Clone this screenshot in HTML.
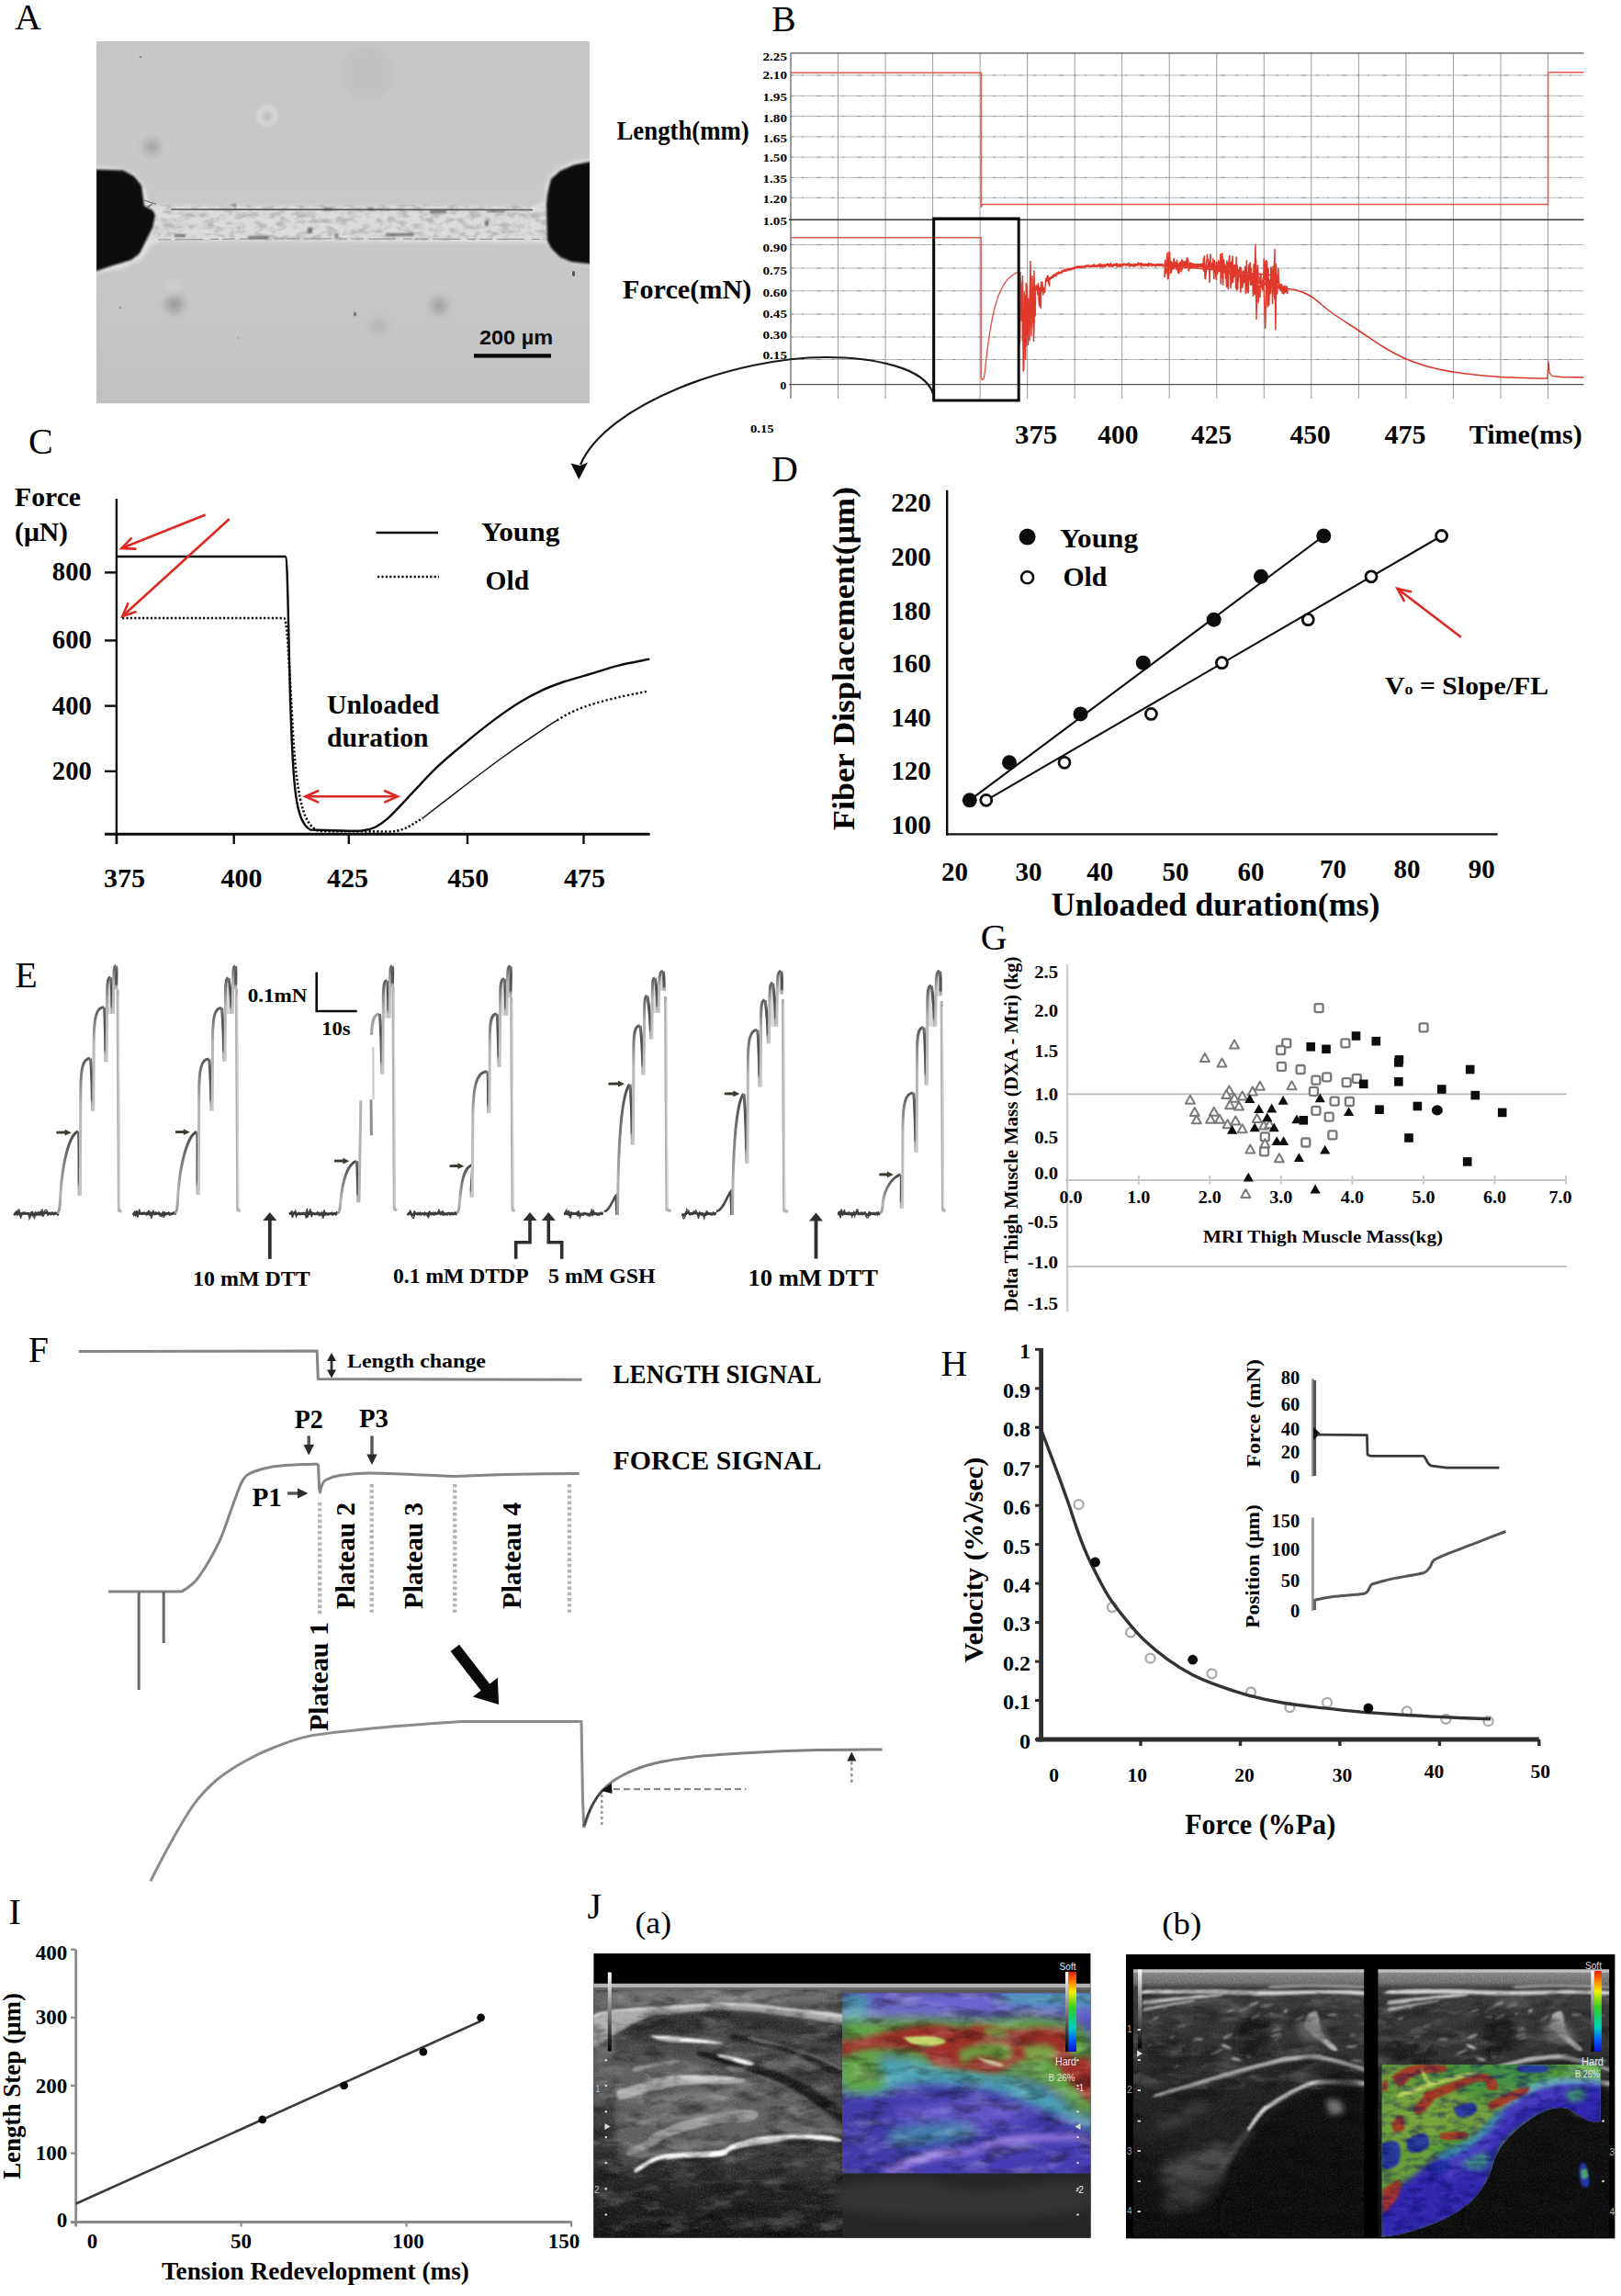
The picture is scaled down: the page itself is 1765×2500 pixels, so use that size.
<!DOCTYPE html>
<html><head><meta charset="utf-8"><title>Figure</title>
<style>html,body{margin:0;padding:0;background:#fff}svg{display:block}</style>
</head><body>
<svg width="1765" height="2500" viewBox="0 0 1765 2500">
<rect width="1765" height="2500" fill="#fff"/>
<defs>
<filter id="bl2" x="-50%" y="-50%" width="200%" height="200%"><feGaussianBlur stdDeviation="2"/></filter>
<filter id="bl1" x="-50%" y="-50%" width="200%" height="200%"><feGaussianBlur stdDeviation="0.8"/></filter>
<filter id="bl5" x="-50%" y="-50%" width="200%" height="200%"><feGaussianBlur stdDeviation="5"/></filter>
<filter id="bl8" x="-50%" y="-50%" width="200%" height="200%"><feGaussianBlur stdDeviation="8"/></filter>
<filter id="bl14" x="-50%" y="-50%" width="200%" height="200%"><feGaussianBlur stdDeviation="14"/></filter>
<linearGradient id="agr" x1="0" y1="0" x2="0" y2="1"><stop offset="0" stop-color="#c6c6c6"/><stop offset="0.5" stop-color="#cacaca"/><stop offset="1" stop-color="#c1c1c1"/></linearGradient>
<clipPath id="aclip"><rect x="105" y="45" width="537" height="394.5"/></clipPath>
<filter id="fibtex" x="0" y="0" width="100%" height="100%"><feTurbulence type="fractalNoise" baseFrequency="0.09 0.16" numOctaves="3" seed="3"/><feColorMatrix type="matrix" values="0 0 0 0 0.42  0 0 0 0 0.42  0 0 0 0 0.42  0 0 0 -3.4 1.9"/></filter>
</defs>
<text x="16.0" y="32.0" font-family='"Liberation Serif",serif' font-size="40" fill="#000">A</text>
<g clip-path="url(#aclip)">
<rect x="105" y="45" width="537" height="394.5" fill="url(#agr)"/>
<circle cx="165" cy="160" r="9" fill="#8a8a8a" opacity="0.55" filter="url(#bl5)"/>
<circle cx="190" cy="331" r="9" fill="#7a7a7a" opacity="0.6" filter="url(#bl5)"/>
<circle cx="478" cy="333" r="8" fill="#808080" opacity="0.6" filter="url(#bl5)"/>
<circle cx="412" cy="355" r="9" fill="#b0b0b0" opacity="0.7" filter="url(#bl5)"/>
<circle cx="400" cy="80" r="30" fill="#bdbdbd" opacity="0.6" filter="url(#bl5)"/>
<circle cx="188" cy="313" r="7" fill="#d6d6d6" opacity="0.8" filter="url(#bl5)"/>
<circle cx="291" cy="126" r="9" fill="none" stroke="#d8d8d8" stroke-width="5" filter="url(#bl2)"/>
<circle cx="291" cy="127" r="3" fill="#b4b4b4" filter="url(#bl2)"/>
<g filter="url(#bl2)" fill="#e4e4e4" stroke="#e4e4e4" stroke-width="5">
<path d="M100,184 L128,186 L145,193 L156,206 L158,222 L168,228 L180,227 L580,228 L596,222 L598,200 L606,188 L625,179 L646,176 L646,287 L625,283 L606,272 L598,262 L590,261 L180,259 L163,263 L152,280 L135,288 L100,296 Z"/>
</g>
<path d="M166,228 L176,225 L186,228 L580,228.5 L596,223 L597,262 L586,261 L300,260 L186,259 L172,262 L160,262 Z" fill="#dadbdc"/>
<path d="M166,228 L176,225 L186,228 L580,228.5 L596,223 L597,262 L586,261 L300,260 L186,259 L172,262 L160,262 Z" fill="#000" filter="url(#fibtex)" opacity="0.7"/>
<path d="M186,228 L580,228.5" stroke="#5c5c5c" stroke-width="1.6" fill="none"/>
<path d="M172,261 L300,259.8 L590,260.5" stroke="#9a9a9a" stroke-width="1.2" fill="none" stroke-dasharray="14 5 30 8 9 4"/>
<rect x="353" y="226" width="8" height="3" fill="#555" opacity="0.75" filter="url(#bl1)"/>
<rect x="400" y="226" width="7" height="3" fill="#555" opacity="0.75" filter="url(#bl1)"/>
<rect x="468" y="229" width="18" height="3" fill="#555" opacity="0.75" filter="url(#bl1)"/>
<rect x="530" y="229" width="20" height="2" fill="#555" opacity="0.75" filter="url(#bl1)"/>
<rect x="335" y="248" width="5" height="6" fill="#555" opacity="0.75" filter="url(#bl1)"/>
<rect x="528" y="240" width="4" height="6" fill="#555" opacity="0.75" filter="url(#bl1)"/>
<rect x="365" y="254" width="3" height="5" fill="#555" opacity="0.75" filter="url(#bl1)"/>
<rect x="252" y="222" width="4" height="1.5" fill="#555" opacity="0.75" filter="url(#bl1)"/>
<rect x="255" y="222" width="1.5" height="6" fill="#555" opacity="0.75" filter="url(#bl1)"/>
<rect x="190" y="255" width="12" height="3" fill="#555" opacity="0.75" filter="url(#bl1)"/>
<rect x="270" y="257" width="22" height="3" fill="#555" opacity="0.75" filter="url(#bl1)"/>
<rect x="420" y="254" width="30" height="3" fill="#555" opacity="0.75" filter="url(#bl1)"/>
<path d="M104,184.5 L134,185.5 L146,192 L154,202 L156,216 L157,224 L166,229 L169,234 L166,248 L159,262 L152,276 L143,283 L120,290 L104,295.5 Z" fill="#0b0b0b" filter="url(#bl1)"/>
<path d="M643,176 L625,179.5 L610,186 L600,195 L598,203 L596,212 L595,222 L596,262 L600,270 L610,280 L622,285 L643,287.5 Z" fill="#0b0b0b" filter="url(#bl1)"/>
<path d="M157,218 L163,220 L170,222 M160,226 L166,222" stroke="#666" stroke-width="1.2" fill="none"/>
<ellipse cx="386.5" cy="342" rx="1.6" ry="2.6" fill="#777"/>
<ellipse cx="624.5" cy="298" rx="1.5" ry="3" fill="#555"/>
<ellipse cx="153" cy="62" rx="1.5" ry="0.7" fill="#666"/>
<ellipse cx="131" cy="335" rx="0.8" ry="0.8" fill="#555"/>
<ellipse cx="259" cy="368" rx="0.7" ry="0.7" fill="#777"/>
</g>
<rect x="516" y="385.2" width="84" height="4.4" fill="#0a0a0a"/>
<text x="522.0" y="374.6" font-family='"Liberation Sans",sans-serif' font-size="22.7" font-weight="bold" textLength="80.0" lengthAdjust="spacingAndGlyphs" fill="#0a0a0a">200 µm</text>
<text x="840.0" y="34.0" font-family='"Liberation Serif",serif' font-size="40" fill="#000">B</text>
<line x1="861.0" y1="82.0" x2="1724.5" y2="82.0" stroke="#b0b0b0" stroke-width="0.9"/>
<line x1="861.0" y1="104.4" x2="1724.5" y2="104.4" stroke="#b0b0b0" stroke-width="0.9"/>
<line x1="861.0" y1="126.6" x2="1724.5" y2="126.6" stroke="#b0b0b0" stroke-width="0.9"/>
<line x1="861.0" y1="148.9" x2="1724.5" y2="148.9" stroke="#b0b0b0" stroke-width="0.9"/>
<line x1="861.0" y1="171.1" x2="1724.5" y2="171.1" stroke="#b0b0b0" stroke-width="0.9"/>
<line x1="861.0" y1="193.3" x2="1724.5" y2="193.3" stroke="#b0b0b0" stroke-width="0.9"/>
<line x1="861.0" y1="215.3" x2="1724.5" y2="215.3" stroke="#b0b0b0" stroke-width="0.9"/>
<line x1="861.0" y1="266.5" x2="1724.5" y2="266.5" stroke="#b0b0b0" stroke-width="0.9"/>
<line x1="861.0" y1="292.0" x2="1724.5" y2="292.0" stroke="#b0b0b0" stroke-width="0.9"/>
<line x1="861.0" y1="316.8" x2="1724.5" y2="316.8" stroke="#b0b0b0" stroke-width="0.9"/>
<line x1="861.0" y1="342.0" x2="1724.5" y2="342.0" stroke="#b0b0b0" stroke-width="0.9"/>
<line x1="861.0" y1="367.0" x2="1724.5" y2="367.0" stroke="#b0b0b0" stroke-width="0.9"/>
<line x1="861.0" y1="391.5" x2="1724.5" y2="391.5" stroke="#b0b0b0" stroke-width="0.9"/>
<line x1="861.0" y1="57.8" x2="1724.5" y2="57.8" stroke="#555" stroke-width="1.2"/>
<line x1="861.0" y1="82.0" x2="1724.5" y2="82.0" stroke="#666" stroke-width="0.9" stroke-dasharray="3 9 2 14 5 11" opacity="0.55"/>
<line x1="861.0" y1="104.4" x2="1724.5" y2="104.4" stroke="#666" stroke-width="0.9" stroke-dasharray="3 9 2 14 5 11" opacity="0.55"/>
<line x1="861.0" y1="126.6" x2="1724.5" y2="126.6" stroke="#666" stroke-width="0.9" stroke-dasharray="3 9 2 14 5 11" opacity="0.55"/>
<line x1="861.0" y1="148.9" x2="1724.5" y2="148.9" stroke="#666" stroke-width="0.9" stroke-dasharray="3 9 2 14 5 11" opacity="0.55"/>
<line x1="861.0" y1="171.1" x2="1724.5" y2="171.1" stroke="#666" stroke-width="0.9" stroke-dasharray="3 9 2 14 5 11" opacity="0.55"/>
<line x1="861.0" y1="193.3" x2="1724.5" y2="193.3" stroke="#666" stroke-width="0.9" stroke-dasharray="3 9 2 14 5 11" opacity="0.55"/>
<line x1="861.0" y1="215.3" x2="1724.5" y2="215.3" stroke="#666" stroke-width="0.9" stroke-dasharray="3 9 2 14 5 11" opacity="0.55"/>
<line x1="861.0" y1="266.5" x2="1724.5" y2="266.5" stroke="#666" stroke-width="0.9" stroke-dasharray="3 9 2 14 5 11" opacity="0.55"/>
<line x1="861.0" y1="292.0" x2="1724.5" y2="292.0" stroke="#666" stroke-width="0.9" stroke-dasharray="3 9 2 14 5 11" opacity="0.55"/>
<line x1="861.0" y1="316.8" x2="1724.5" y2="316.8" stroke="#666" stroke-width="0.9" stroke-dasharray="3 9 2 14 5 11" opacity="0.55"/>
<line x1="861.0" y1="342.0" x2="1724.5" y2="342.0" stroke="#666" stroke-width="0.9" stroke-dasharray="3 9 2 14 5 11" opacity="0.55"/>
<line x1="861.0" y1="367.0" x2="1724.5" y2="367.0" stroke="#666" stroke-width="0.9" stroke-dasharray="3 9 2 14 5 11" opacity="0.55"/>
<line x1="861.0" y1="391.5" x2="1724.5" y2="391.5" stroke="#666" stroke-width="0.9" stroke-dasharray="3 9 2 14 5 11" opacity="0.55"/>
<line x1="861.0" y1="57.8" x2="861.0" y2="434.0" stroke="#666" stroke-width="1.3"/>
<line x1="912.5" y1="57.8" x2="912.5" y2="434.0" stroke="#7a7a7a" stroke-width="0.75"/>
<line x1="964.1" y1="57.8" x2="964.1" y2="434.0" stroke="#7a7a7a" stroke-width="0.75"/>
<line x1="1015.6" y1="57.8" x2="1015.6" y2="434.0" stroke="#7a7a7a" stroke-width="0.75"/>
<line x1="1067.1" y1="57.8" x2="1067.1" y2="434.0" stroke="#7a7a7a" stroke-width="0.75"/>
<line x1="1118.7" y1="57.8" x2="1118.7" y2="434.0" stroke="#7a7a7a" stroke-width="0.75"/>
<line x1="1170.2" y1="57.8" x2="1170.2" y2="434.0" stroke="#7a7a7a" stroke-width="0.75"/>
<line x1="1221.7" y1="57.8" x2="1221.7" y2="434.0" stroke="#7a7a7a" stroke-width="0.75"/>
<line x1="1273.2" y1="57.8" x2="1273.2" y2="434.0" stroke="#7a7a7a" stroke-width="0.75"/>
<line x1="1324.8" y1="57.8" x2="1324.8" y2="434.0" stroke="#7a7a7a" stroke-width="0.75"/>
<line x1="1376.3" y1="57.8" x2="1376.3" y2="434.0" stroke="#7a7a7a" stroke-width="0.75"/>
<line x1="1427.8" y1="57.8" x2="1427.8" y2="434.0" stroke="#7a7a7a" stroke-width="0.75"/>
<line x1="1479.4" y1="57.8" x2="1479.4" y2="434.0" stroke="#7a7a7a" stroke-width="0.75"/>
<line x1="1530.9" y1="57.8" x2="1530.9" y2="434.0" stroke="#7a7a7a" stroke-width="0.75"/>
<line x1="1582.4" y1="57.8" x2="1582.4" y2="434.0" stroke="#7a7a7a" stroke-width="0.75"/>
<line x1="1634.0" y1="57.8" x2="1634.0" y2="434.0" stroke="#7a7a7a" stroke-width="0.75"/>
<line x1="1685.5" y1="57.8" x2="1685.5" y2="434.0" stroke="#7a7a7a" stroke-width="0.75"/>
<line x1="859.0" y1="239.2" x2="1724.5" y2="239.2" stroke="#333" stroke-width="1.6"/>
<line x1="859.0" y1="418.6" x2="1724.5" y2="418.6" stroke="#555" stroke-width="1.2"/>
<text x="830.5" y="65.9" font-family='"Liberation Serif",serif' font-size="13.5" font-weight="bold" textLength="26.5" lengthAdjust="spacingAndGlyphs" fill="#000">2.25</text>
<text x="830.5" y="85.9" font-family='"Liberation Serif",serif' font-size="13.5" font-weight="bold" textLength="26.5" lengthAdjust="spacingAndGlyphs" fill="#000">2.10</text>
<text x="830.5" y="110.3" font-family='"Liberation Serif",serif' font-size="13.5" font-weight="bold" textLength="26.5" lengthAdjust="spacingAndGlyphs" fill="#000">1.95</text>
<text x="830.5" y="132.5" font-family='"Liberation Serif",serif' font-size="13.5" font-weight="bold" textLength="26.5" lengthAdjust="spacingAndGlyphs" fill="#000">1.80</text>
<text x="830.5" y="154.7" font-family='"Liberation Serif",serif' font-size="13.5" font-weight="bold" textLength="26.5" lengthAdjust="spacingAndGlyphs" fill="#000">1.65</text>
<text x="830.5" y="175.8" font-family='"Liberation Serif",serif' font-size="13.5" font-weight="bold" textLength="26.5" lengthAdjust="spacingAndGlyphs" fill="#000">1.50</text>
<text x="830.5" y="198.8" font-family='"Liberation Serif",serif' font-size="13.5" font-weight="bold" textLength="26.5" lengthAdjust="spacingAndGlyphs" fill="#000">1.35</text>
<text x="830.5" y="221.0" font-family='"Liberation Serif",serif' font-size="13.5" font-weight="bold" textLength="26.5" lengthAdjust="spacingAndGlyphs" fill="#000">1.20</text>
<text x="830.5" y="245.0" font-family='"Liberation Serif",serif' font-size="13.5" font-weight="bold" textLength="26.5" lengthAdjust="spacingAndGlyphs" fill="#000">1.05</text>
<text x="830.5" y="273.9" font-family='"Liberation Serif",serif' font-size="13.5" font-weight="bold" textLength="26.5" lengthAdjust="spacingAndGlyphs" fill="#000">0.90</text>
<text x="830.5" y="299.0" font-family='"Liberation Serif",serif' font-size="13.5" font-weight="bold" textLength="26.5" lengthAdjust="spacingAndGlyphs" fill="#000">0.75</text>
<text x="830.5" y="323.1" font-family='"Liberation Serif",serif' font-size="13.5" font-weight="bold" textLength="26.5" lengthAdjust="spacingAndGlyphs" fill="#000">0.60</text>
<text x="830.5" y="346.0" font-family='"Liberation Serif",serif' font-size="13.5" font-weight="bold" textLength="26.5" lengthAdjust="spacingAndGlyphs" fill="#000">0.45</text>
<text x="830.5" y="369.0" font-family='"Liberation Serif",serif' font-size="13.5" font-weight="bold" textLength="26.5" lengthAdjust="spacingAndGlyphs" fill="#000">0.30</text>
<text x="830.5" y="390.5" font-family='"Liberation Serif",serif' font-size="13.5" font-weight="bold" textLength="26.5" lengthAdjust="spacingAndGlyphs" fill="#000">0.15</text>
<text x="849.5" y="423.8" font-family='"Liberation Serif",serif' font-size="13.5" font-weight="bold" fill="#000">0</text>
<text x="817.0" y="470.8" font-family='"Liberation Serif",serif' font-size="12.5" font-weight="bold" textLength="25.5" lengthAdjust="spacingAndGlyphs" fill="#000">0.15</text>
<text x="671.5" y="151.8" font-family='"Liberation Serif",serif' font-size="29" font-weight="bold" textLength="144.3" lengthAdjust="spacingAndGlyphs" fill="#000">Length(mm)</text>
<text x="678.0" y="324.6" font-family='"Liberation Serif",serif' font-size="29" font-weight="bold" textLength="140.3" lengthAdjust="spacingAndGlyphs" fill="#000">Force(mN)</text>
<text x="1105.0" y="483.0" font-family='"Liberation Serif",serif' font-size="30" font-weight="bold" textLength="46.3" lengthAdjust="spacingAndGlyphs" fill="#000">375</text>
<text x="1195.2" y="483.0" font-family='"Liberation Serif",serif' font-size="30" font-weight="bold" textLength="44.3" lengthAdjust="spacingAndGlyphs" fill="#000">400</text>
<text x="1297.0" y="483.0" font-family='"Liberation Serif",serif' font-size="30" font-weight="bold" textLength="44.2" lengthAdjust="spacingAndGlyphs" fill="#000">425</text>
<text x="1404.4" y="483.0" font-family='"Liberation Serif",serif' font-size="30" font-weight="bold" textLength="44.3" lengthAdjust="spacingAndGlyphs" fill="#000">450</text>
<text x="1507.4" y="483.0" font-family='"Liberation Serif",serif' font-size="30" font-weight="bold" textLength="45.1" lengthAdjust="spacingAndGlyphs" fill="#000">475</text>
<text x="1599.7" y="483.0" font-family='"Liberation Serif",serif' font-size="30" font-weight="bold" textLength="123.0" lengthAdjust="spacingAndGlyphs" fill="#000">Time(ms)</text>
<path d="M861.0,79.3 L1068.2,79.3 L1068.2,226 L1069.5,222.6 L1685.6,222.6 L1685.6,80 L1687,78.8 L1724.5,78.8" stroke="#e2574c" stroke-width="1.5" fill="none"/>
<path d="M861.0,258.8 L1068.2,258.8 L1068.2,410.0 L1069.2,413.5 L1071.0,413.0 L1072.5,404.0 L1073.4,394.9 L1074.4,386.5 L1075.3,378.9 L1076.2,371.8 L1077.2,365.4 L1078.1,359.5 L1079.1,354.0 L1080.0,349.0 L1080.9,344.4 L1081.9,340.2 L1082.8,336.4 L1083.7,332.8 L1084.7,329.6 L1085.6,326.6 L1086.5,323.8 L1087.5,321.3 L1088.4,319.0 L1089.3,316.8 L1090.3,314.9 L1091.2,313.0 L1092.2,311.4 L1093.1,309.8 L1094.0,308.4 L1095.0,307.1 L1095.9,305.9 L1096.8,304.8 L1097.8,303.8 L1098.7,302.8 L1099.6,301.9 L1100.6,301.1 L1101.5,300.4 L1102.4,299.7 L1103.4,299.0 L1104.3,298.4 L1105.3,297.9 L1106.2,297.4 L1107.1,296.9 L1108.1,296.4 L1109.0,296.0" stroke="#e2574c" stroke-width="1.4" fill="none"/>
<path d="M1110.0,337.6 L1110.4,373.6 L1110.7,360.9 L1111.1,308.4 L1111.6,306.1 L1112.0,309.7 L1112.4,348.7 L1113.0,315.6 L1113.3,371.0 L1114.0,365.5 L1114.4,404.0 L1114.7,396.4 L1115.1,317.9 L1115.5,335.9 L1116.0,321.9 L1116.6,372.3 L1117.0,362.3 L1117.3,308.6 L1117.7,376.8 L1118.1,334.9 L1118.6,342.6 L1119.0,364.4 L1119.6,325.2 L1120.1,342.7 L1120.7,354.7 L1121.1,370.5 L1121.4,331.3 L1122.0,311.5 L1122.5,302.5 L1123.0,350.4 L1123.5,356.6 L1123.9,343.3 L1124.4,334.2 L1124.9,350.7 L1125.5,324.3 L1126.0,295.0 L1126.6,333.7 L1127.2,344.1 L1127.6,313.6 L1128.2,311.1 L1128.6,315.4 L1129.0,310.8 L1129.5,312.3 L1129.9,321.0 L1130.5,308.7 L1131.0,324.8 L1131.6,333.5 L1132.2,313.0 L1132.6,315.2 L1133.3,335.8 L1133.6,307.2 L1134.0,308.7 L1134.5,317.0 L1134.9,307.1 L1135.3,312.3 L1135.8,321.0 L1136.3,313.3 L1136.9,315.2 L1137.2,318.4 L1137.7,317.3 L1138.3,308.9 L1138.8,303.8 L1139.3,302.6 L1139.6,304.6 L1140.0,306.3 L1140.3,300.6 L1140.6,301.8 L1141.1,300.2 L1141.7,309.0 L1142.0,302.9 L1142.4,304.3 L1142.8,311.7" stroke="#e0392b" stroke-width="1.5" fill="none" stroke-linejoin="round"/>
<path d="M1111,296 L1112.5,350 L1113.5,300 L1114.5,403 L1115.5,330 L1116.5,392 L1118,310 L1119.5,376 L1121,330 L1122,284 L1123,366 L1124,300 L1125.5,372 L1127,320" stroke="#e0392b" stroke-width="1.4" fill="none"/>
<path d="M1141.0,305.8 L1141.9,304.9 L1142.8,303.6 L1143.7,302.9 L1144.6,302.4 L1145.5,301.6 L1146.4,301.6 L1147.3,300.2 L1148.2,299.4 L1149.1,300.0 L1150.0,298.9 L1150.9,297.9 L1151.8,297.9 L1152.7,296.8 L1153.6,297.0 L1154.5,297.1 L1155.4,296.6 L1156.3,296.0 L1157.2,295.1 L1158.1,294.9 L1159.0,294.3 L1159.9,294.7 L1160.8,294.1 L1161.7,294.1 L1162.6,293.3 L1163.5,292.9 L1164.4,293.4 L1165.3,293.4 L1166.2,293.0 L1167.1,292.7 L1168.0,292.5 L1168.9,292.3 L1169.8,291.5 L1170.7,291.6 L1171.6,291.3 L1172.5,290.7 L1173.4,290.6 L1174.3,290.7 L1175.2,290.6 L1176.1,291.0 L1177.0,291.2 L1177.9,290.4 L1178.8,290.9 L1179.7,290.9 L1180.6,290.7 L1181.5,289.9 L1182.4,289.7 L1183.3,289.6 L1184.2,289.5 L1185.1,289.4 L1186.0,289.9 L1186.9,290.1 L1187.8,290.0 L1188.7,289.5 L1189.6,289.6 L1190.5,289.8 L1191.4,288.8 L1192.3,289.5 L1193.2,289.7 L1194.1,289.5 L1195.0,289.7 L1195.9,289.1 L1196.8,288.4 L1197.7,289.7 L1198.6,288.6 L1199.5,289.6 L1200.4,290.0 L1201.3,288.7 L1202.2,288.6 L1203.1,289.8 L1204.0,289.3 L1204.9,288.1 L1205.8,287.9 L1206.7,288.0 L1207.6,289.6 L1208.5,289.4 L1209.4,287.9 L1210.3,289.4 L1211.2,289.7 L1212.1,289.0 L1213.0,288.3 L1213.9,288.7 L1214.8,287.8 L1215.7,287.5 L1216.6,289.6 L1217.5,288.9 L1218.4,288.6 L1219.3,289.5 L1220.2,288.4 L1221.1,289.3 L1222.0,289.2 L1222.9,287.8 L1223.8,287.9 L1224.7,288.0 L1225.6,287.9 L1226.5,288.6 L1227.4,287.9 L1228.3,288.3 L1229.2,287.6 L1230.1,289.3 L1231.0,288.1 L1231.9,288.3 L1232.8,288.6 L1233.7,289.3 L1234.6,288.2 L1235.5,289.3 L1236.4,288.4 L1237.3,288.4 L1238.2,288.4 L1239.1,287.3 L1240.0,288.2 L1240.9,287.7 L1241.8,287.3 L1242.7,289.0 L1243.6,287.6 L1244.5,288.3 L1245.4,288.8 L1246.3,288.5 L1247.2,288.0 L1248.1,288.4 L1249.0,288.5 L1249.9,289.0 L1250.8,287.5 L1251.7,288.5 L1252.6,287.8 L1253.5,287.8 L1254.4,288.9 L1255.3,288.3 L1256.2,288.5 L1257.1,288.9 L1258.0,289.2 L1258.9,288.2 L1259.8,288.6 L1260.7,288.3 L1261.6,288.3 L1262.5,288.7 L1263.4,288.2 L1264.3,288.4 L1265.2,288.3 L1266.1,289.3 L1267.0,288.8 L1267.9,289.1 L1268.8,289.3 L1269.7,287.8" stroke="#e0392b" stroke-width="2.6" fill="none"/>
<path d="M1268.0,302.3 L1268.6,283.3 L1269.0,285.1 L1269.4,297.5 L1270.0,292.2 L1270.5,294.7 L1271.2,295.8 L1271.6,303.7 L1272.2,288.0 L1272.7,279.9 L1273.1,274.6 L1273.6,274.5 L1274.0,289.4 L1274.3,297.7 L1275.0,285.5 L1275.3,284.9 L1275.6,296.4 L1276.2,285.8 L1276.8,292.6 L1277.2,290.7 L1277.6,292.9 L1278.1,281.5 L1278.7,292.3 L1279.2,290.0 L1279.8,285.7 L1280.3,285.5 L1280.6,286.3 L1281.1,293.7 L1281.5,283.2 L1281.9,286.8 L1282.2,289.9 L1282.6,296.8 L1282.9,287.8 L1283.4,287.1 L1283.8,297.7 L1284.3,292.7 L1284.8,286.3 L1285.1,285.1 L1285.7,286.0 L1286.0,295.7 L1286.5,286.7 L1286.9,282.8 L1287.4,293.2 L1288.0,284.4 L1288.7,286.4 L1289.0,288.5 L1289.4,289.0 L1289.7,285.3 L1290.2,284.7 L1290.6,289.8 L1291.1,291.8 L1291.6,287.0 L1292.0,282.7 L1292.6,280.8 L1293.2,291.3 L1293.7,282.5 L1294.2,295.0 L1294.8,290.5 L1295.4,292.5 L1295.8,285.7 L1296.2,292.0 L1296.7,291.3 L1297.3,286.5 L1297.8,289.0 L1298.3,286.8 L1298.9,287.9 L1299.3,287.5 L1299.8,289.0 L1300.3,289.9 L1300.8,289.7 L1301.2,288.4 L1301.7,289.3 L1302.0,288.4 L1302.6,289.9 L1303.0,288.8 L1303.4,290.0 L1303.8,291.2 L1304.1,290.6 L1304.7,287.8 L1305.1,287.6 L1305.6,289.1 L1306.3,289.8 L1306.7,290.0 L1307.1,288.9 L1307.4,289.0 L1307.9,287.2 L1308.3,290.7 L1308.6,290.7 L1308.9,290.1 L1309.6,286.9 L1310.0,292.2 L1310.4,281.6 L1310.7,295.0 L1311.1,280.8 L1311.5,278.9 L1312.0,302.6 L1312.5,303.7 L1313.2,297.2 L1313.5,288.1 L1314.1,282.6 L1314.4,277.3 L1314.8,283.2 L1315.4,282.0 L1315.9,292.3 L1316.4,284.7 L1316.7,290.4 L1317.1,307.5 L1317.6,285.4 L1317.9,276.8 L1318.3,292.0 L1318.9,288.0 L1319.3,286.9 L1319.8,287.4 L1320.4,291.4 L1320.9,281.8 L1321.3,289.8 L1321.8,303.5 L1322.4,283.8 L1322.9,291.0 L1323.4,290.2 L1324.1,304.3 L1324.7,285.7 L1325.0,298.6 L1325.7,297.6 L1326.2,294.5 L1326.6,283.7 L1327.2,286.3 L1327.5,295.4 L1328.1,285.9 L1328.6,289.5 L1328.9,276.8 L1329.3,309.1 L1329.9,292.8 L1330.2,302.5 L1330.8,275.7 L1331.3,291.0 L1331.7,310.3 L1332.0,291.1 L1332.5,282.9 L1333.1,294.7 L1333.4,287.4 L1334.0,289.5 L1334.6,303.5 L1335.1,289.8 L1335.5,312.2 L1335.9,284.3 L1336.5,286.9 L1336.8,310.6 L1337.4,314.6 L1338.1,283.9 L1338.7,278.2 L1339.2,291.3 L1339.6,286.8 L1340.0,313.7 L1340.4,285.3 L1340.8,308.8 L1341.2,296.2 L1341.7,285.1 L1342.1,279.1 L1342.5,307.2 L1342.9,288.8 L1343.5,302.0 L1344.1,288.8 L1344.7,288.6 L1345.3,289.3 L1345.6,313.7 L1346.1,280.0 L1346.5,315.5 L1347.1,288.9 L1347.6,314.7 L1347.9,307.6 L1348.5,302.8 L1348.9,293.6 L1349.5,293.2 L1350.1,290.9 L1350.4,292.6 L1351.0,318.0 L1351.4,291.9 L1351.9,297.7 L1352.3,304.4 L1352.8,313.1 L1353.4,306.6 L1353.8,295.4 L1354.3,295.6 L1354.7,307.8 L1355.2,296.7 L1355.8,290.6 L1356.4,319.6 L1356.8,313.2 L1357.4,283.8 L1357.8,295.5 L1358.4,317.9 L1358.8,299.8 L1359.2,318.7 L1359.6,306.5 L1359.9,288.4 L1360.3,304.7 L1360.8,289.6 L1361.3,286.0 L1361.7,310.2 L1362.2,292.3 L1362.6,310.0 L1362.9,308.0 L1363.4,298.0 L1364.0,306.7 L1364.4,322.3 L1365.1,287.8 L1365.6,290.8 L1366.2,320.5 L1366.7,302.0 L1367.0,305.5 L1367.6,282.9 L1368.1,304.7 L1368.4,305.1 L1369.1,304.5 L1369.6,289.2 L1370.0,329.7 L1370.5,316.2 L1370.9,311.5 L1371.5,312.9 L1371.9,323.6 L1372.4,298.4 L1372.9,299.8 L1373.2,311.8 L1373.8,307.8 L1374.4,315.1 L1374.8,309.1 L1375.3,302.5 L1375.8,315.0 L1376.2,282.1 L1376.7,293.3 L1377.3,305.1 L1377.7,286.9 L1378.0,286.2 L1378.5,283.7 L1379.0,313.8 L1379.6,284.8 L1380.1,331.5 L1380.4,334.0 L1381.0,292.4 L1381.6,332.3 L1382.2,316.2 L1382.8,305.1 L1383.4,319.4 L1383.8,290.7 L1384.3,294.2 L1384.7,300.1 L1385.0,300.8 L1385.6,330.4 L1386.0,289.9 L1386.5,302.8 L1387.1,314.4 L1387.7,323.3 L1388.2,326.1 L1388.6,314.8 L1389.0,307.9 L1389.4,287.5 L1390.0,314.8 L1390.6,319.9 L1391.0,299.4 L1391.4,308.1 L1391.8,292.6 L1392.2,305.2 L1392.5,306.5 L1393.0,312.7 L1393.5,313.1 L1393.9,315.5 L1394.3,309.7 L1394.8,316.7 L1395.3,309.4 L1395.8,310.9 L1396.3,319.3 L1396.9,316.2 L1397.2,312.1 L1397.6,315.5 L1397.9,319.9 L1398.2,314.5 L1398.7,318.3 L1399.1,311.3 L1399.4,318.1 L1399.9,316.7 L1400.5,317.9 L1401.0,311.9 L1401.3,313.6 L1401.9,319.8" stroke="#e0392b" stroke-width="1.6" fill="none" stroke-linejoin="round"/>
<path d="M1366,300 L1367,265.8 L1368,348 L1369,300 L1376,310 L1377.7,358 L1379,300 L1386.5,316 L1388,270.7 L1388.8,359.5 L1390,300 L1270,289 L1271,274.5 L1272,304 L1273,285" stroke="#e0392b" stroke-width="1.4" fill="none"/>
<path d="M1268,289 L1309,289 L1340,297 L1375,308 L1402,315" stroke="#e0392b" stroke-width="4" fill="none" opacity="0.95"/>
<path d="M1402.0,314.5 C1403.7,314.8 1407.7,314.6 1412.0,316.0 C1416.3,317.4 1421.7,318.9 1428.0,323.0 C1434.3,327.1 1441.4,334.3 1450.0,340.5 C1458.6,346.7 1470.3,353.9 1479.5,360.0 C1488.7,366.1 1496.5,371.9 1505.0,377.0 C1513.5,382.1 1522.3,387.1 1530.8,390.8 C1539.3,394.6 1547.4,397.1 1556.0,399.5 C1564.6,401.9 1573.4,403.5 1582.4,405.0 C1591.4,406.5 1601.4,407.6 1610.0,408.5 C1618.6,409.4 1625.7,409.9 1634.0,410.4 C1642.3,410.9 1651.5,411.2 1660.0,411.5 C1668.5,411.8 1680.8,411.9 1685.0,412.0" stroke="#d9372b" stroke-width="1.5" fill="none"/>
<path d="M1685,412 L1685.8,393 L1687,406 L1690,409.5 L1700,410.5 L1724.5,411" stroke="#d9372b" stroke-width="1.3" fill="none"/>
<rect x="1016.7" y="238" width="92.5" height="198" fill="none" stroke="#0c0c0c" stroke-width="3"/>
<path d="M1016,429 C1008,400 950,389 899,389 C800,389 660,440 632,506" stroke="#1a1a1a" stroke-width="2.2" fill="none"/>
<path d="M630.3,522 L621.5,504.5 L631.5,507 L640,503.5 Z" fill="#0c0c0c"/>
<text x="31.0" y="494.2" font-family='"Liberation Serif",serif' font-size="40" fill="#000">C</text>
<text x="16.0" y="551.0" font-family='"Liberation Serif",serif' font-size="29" font-weight="bold" textLength="72.0" lengthAdjust="spacingAndGlyphs" fill="#000">Force</text>
<text x="16.0" y="588.5" font-family='"Liberation Serif",serif' font-size="29" font-weight="bold" textLength="58.0" lengthAdjust="spacingAndGlyphs" fill="#000">(μN)</text>
<line x1="126.9" y1="543.0" x2="126.9" y2="919.0" stroke="#0c0c0c" stroke-width="2.4"/>
<line x1="114.0" y1="908.3" x2="707.6" y2="908.3" stroke="#0c0c0c" stroke-width="3"/>
<line x1="114.0" y1="623.4" x2="127.0" y2="623.4" stroke="#0c0c0c" stroke-width="2.4"/>
<text x="56.8" y="632.4" font-family='"Liberation Serif",serif' font-size="30" font-weight="bold" textLength="43.0" lengthAdjust="spacingAndGlyphs" fill="#000">800</text>
<line x1="114.0" y1="697.4" x2="127.0" y2="697.4" stroke="#0c0c0c" stroke-width="2.4"/>
<text x="56.8" y="706.4" font-family='"Liberation Serif",serif' font-size="30" font-weight="bold" textLength="43.0" lengthAdjust="spacingAndGlyphs" fill="#000">600</text>
<line x1="114.0" y1="768.6" x2="127.0" y2="768.6" stroke="#0c0c0c" stroke-width="2.4"/>
<text x="56.8" y="777.6" font-family='"Liberation Serif",serif' font-size="30" font-weight="bold" textLength="43.0" lengthAdjust="spacingAndGlyphs" fill="#000">400</text>
<line x1="114.0" y1="839.8" x2="127.0" y2="839.8" stroke="#0c0c0c" stroke-width="2.4"/>
<text x="56.8" y="848.8" font-family='"Liberation Serif",serif' font-size="30" font-weight="bold" textLength="43.0" lengthAdjust="spacingAndGlyphs" fill="#000">200</text>
<line x1="127.0" y1="908.0" x2="127.0" y2="919.0" stroke="#0c0c0c" stroke-width="2.4"/>
<text x="135.4" y="965.8" font-family='"Liberation Serif",serif' font-size="30" font-weight="bold" text-anchor="middle" fill="#000">375</text>
<line x1="254.7" y1="908.0" x2="254.7" y2="919.0" stroke="#0c0c0c" stroke-width="2.4"/>
<text x="263.0" y="965.8" font-family='"Liberation Serif",serif' font-size="30" font-weight="bold" text-anchor="middle" fill="#000">400</text>
<line x1="379.8" y1="908.0" x2="379.8" y2="919.0" stroke="#0c0c0c" stroke-width="2.4"/>
<text x="378.4" y="965.8" font-family='"Liberation Serif",serif' font-size="30" font-weight="bold" text-anchor="middle" fill="#000">425</text>
<line x1="509.0" y1="908.0" x2="509.0" y2="919.0" stroke="#0c0c0c" stroke-width="2.4"/>
<text x="509.7" y="965.8" font-family='"Liberation Serif",serif' font-size="30" font-weight="bold" text-anchor="middle" fill="#000">450</text>
<line x1="635.5" y1="908.0" x2="635.5" y2="919.0" stroke="#0c0c0c" stroke-width="2.4"/>
<text x="636.4" y="965.8" font-family='"Liberation Serif",serif' font-size="30" font-weight="bold" text-anchor="middle" fill="#000">475</text>
<path d="M127,606 L310.5,606 C313,606 313,640 316,760 C319,860 322,895 338,903.5 L380,904.8" stroke="#0c0c0c" stroke-width="2.4" fill="none"/>
<path d="M380.0,904.8 C382.1,904.8 389.1,904.9 392.6,904.6 C396.1,904.3 398.2,903.9 401.0,903.2 C403.8,902.5 405.9,902.3 409.4,900.3 C412.9,898.3 417.8,894.9 422.0,891.3 C426.2,887.7 429.6,883.9 434.5,878.8 C439.4,873.7 444.3,868.2 451.3,860.9 C458.3,853.5 467.4,843.3 476.5,834.7 C485.6,826.1 495.7,817.9 505.8,809.5 C515.9,801.1 527.5,791.7 537.3,784.4 C547.1,777.1 555.9,770.9 564.6,765.5 C573.3,760.1 582.0,755.6 589.7,751.9 C597.4,748.2 602.0,746.5 610.7,743.5 C619.5,740.5 631.7,737.1 642.2,734.0 C652.7,730.9 662.8,727.3 673.6,724.6 C684.4,721.9 701.6,718.9 707.2,717.7" stroke="#0c0c0c" stroke-width="2.4" fill="none"/>
<path d="M133,673 L309,673 C312.5,673 313.5,700 318,780 C322,860 328,898 347,905 L425,905.5 C436,905 444,901 449.2,897.6 L460.7,890.5" stroke="#0c0c0c" stroke-width="2.6" fill="none" stroke-dasharray="2.2 2.2"/>
<path d="M460.7,890.5 C468.2,884.7 491.3,866.8 505.8,855.7 C520.3,844.7 533.5,834.5 547.8,824.2 C562.1,813.9 582.0,800.4 591.8,793.8 C601.6,787.2 604.0,786.0 606.5,784.4" stroke="#0c0c0c" stroke-width="1.4" fill="none"/>
<path d="M606.5,784.4 C609.0,783.0 615.2,778.8 621.2,776.0 C627.2,773.2 633.5,770.4 642.2,767.6 C650.9,764.8 663.3,761.7 673.6,759.2 C683.9,756.8 698.9,754.0 704.0,752.9" stroke="#0c0c0c" stroke-width="2.4" fill="none" stroke-dasharray="2.2 2.6"/>
<line x1="409.6" y1="580.0" x2="477.0" y2="580.0" stroke="#0c0c0c" stroke-width="2.6"/>
<line x1="411.0" y1="628.0" x2="478.0" y2="628.0" stroke="#0c0c0c" stroke-width="2.6" stroke-dasharray="2.2 2.2"/>
<text x="524.0" y="588.7" font-family='"Liberation Serif",serif' font-size="29" font-weight="bold" textLength="85.4" lengthAdjust="spacingAndGlyphs" fill="#000">Young</text>
<text x="528.6" y="641.7" font-family='"Liberation Serif",serif' font-size="29" font-weight="bold" textLength="47.5" lengthAdjust="spacingAndGlyphs" fill="#000">Old</text>
<text x="356.0" y="777.3" font-family='"Liberation Serif",serif' font-size="29" font-weight="bold" textLength="122.4" lengthAdjust="spacingAndGlyphs" fill="#000">Unloaded</text>
<text x="356.0" y="812.9" font-family='"Liberation Serif",serif' font-size="29" font-weight="bold" textLength="110.5" lengthAdjust="spacingAndGlyphs" fill="#000">duration</text>
<line x1="223.7" y1="560.5" x2="132.4" y2="597.0" stroke="#dc2a22" stroke-width="2.6"/>
<path d="M142.8,586.2 L132.4,597.0 L147.4,597.6" stroke="#dc2a22" stroke-width="2.6" fill="none" stroke-linecap="round" stroke-linejoin="miter"/>
<line x1="249.8" y1="565.0" x2="133.3" y2="671.0" stroke="#dc2a22" stroke-width="2.6"/>
<path d="M139.3,657.3 L133.3,671.0 L147.5,666.3" stroke="#dc2a22" stroke-width="2.6" fill="none" stroke-linecap="round" stroke-linejoin="miter"/>
<line x1="332.4" y1="867.3" x2="432.9" y2="867.3" stroke="#dc2a22" stroke-width="2.6"/>
<path d="M419.2,873.4 L432.9,867.3 L419.2,861.2" stroke="#dc2a22" stroke-width="2.6" fill="none" stroke-linecap="round" stroke-linejoin="miter"/>
<path d="M346.1,861.2 L332.4,867.3 L346.1,873.4" stroke="#dc2a22" stroke-width="2.6" fill="none" stroke-linecap="round" stroke-linejoin="miter"/>
<text x="840.0" y="523.5" font-family='"Liberation Serif",serif' font-size="40" fill="#000">D</text>
<line x1="1031.2" y1="533.8" x2="1031.2" y2="909.6" stroke="#0c0c0c" stroke-width="2.4"/>
<line x1="1030.0" y1="908.4" x2="1630.7" y2="908.4" stroke="#0c0c0c" stroke-width="2.4"/>
<text x="1013.8" y="557.3" font-family='"Liberation Serif",serif' font-size="29" font-weight="bold" text-anchor="end" fill="#000">220</text>
<text x="1013.8" y="615.7" font-family='"Liberation Serif",serif' font-size="29" font-weight="bold" text-anchor="end" fill="#000">200</text>
<text x="1013.8" y="674.7" font-family='"Liberation Serif",serif' font-size="29" font-weight="bold" text-anchor="end" fill="#000">180</text>
<text x="1013.8" y="732.0" font-family='"Liberation Serif",serif' font-size="29" font-weight="bold" text-anchor="end" fill="#000">160</text>
<text x="1013.8" y="791.0" font-family='"Liberation Serif",serif' font-size="29" font-weight="bold" text-anchor="end" fill="#000">140</text>
<text x="1013.8" y="849.4" font-family='"Liberation Serif",serif' font-size="29" font-weight="bold" text-anchor="end" fill="#000">120</text>
<text x="1013.8" y="908.4" font-family='"Liberation Serif",serif' font-size="29" font-weight="bold" text-anchor="end" fill="#000">100</text>
<text x="1039.4" y="958.6" font-family='"Liberation Serif",serif' font-size="29" font-weight="bold" text-anchor="middle" fill="#000">20</text>
<text x="1120.0" y="958.6" font-family='"Liberation Serif",serif' font-size="29" font-weight="bold" text-anchor="middle" fill="#000">30</text>
<text x="1197.7" y="958.6" font-family='"Liberation Serif",serif' font-size="29" font-weight="bold" text-anchor="middle" fill="#000">40</text>
<text x="1280.0" y="958.6" font-family='"Liberation Serif",serif' font-size="29" font-weight="bold" text-anchor="middle" fill="#000">50</text>
<text x="1362.0" y="958.6" font-family='"Liberation Serif",serif' font-size="29" font-weight="bold" text-anchor="middle" fill="#000">60</text>
<text x="1451.6" y="956.0" font-family='"Liberation Serif",serif' font-size="29" font-weight="bold" text-anchor="middle" fill="#000">70</text>
<text x="1532.0" y="956.0" font-family='"Liberation Serif",serif' font-size="29" font-weight="bold" text-anchor="middle" fill="#000">80</text>
<text x="1613.2" y="956.0" font-family='"Liberation Serif",serif' font-size="29" font-weight="bold" text-anchor="middle" fill="#000">90</text>
<text x="1144.8" y="996.8" font-family='"Liberation Serif",serif' font-size="35" font-weight="bold" textLength="357.6" lengthAdjust="spacingAndGlyphs" fill="#000">Unloaded duration(ms)</text>
<text x="930.0" y="904.0" font-family='"Liberation Serif",serif' font-size="33.5" font-weight="bold" textLength="374.0" lengthAdjust="spacingAndGlyphs" transform="rotate(-90 930.0 904.0)" fill="#000">Fiber Displacement(μm)</text>
<line x1="1055.8" y1="871.3" x2="1441.3" y2="583.5" stroke="#0c0c0c" stroke-width="2.1"/>
<line x1="1073.8" y1="871.3" x2="1569.6" y2="583.5" stroke="#0c0c0c" stroke-width="2.1"/>
<circle cx="1055.8" cy="871.3" r="8" fill="#0c0c0c"/>
<circle cx="1099" cy="830.3" r="8" fill="#0c0c0c"/>
<circle cx="1176.5" cy="777.4" r="8" fill="#0c0c0c"/>
<circle cx="1244.7" cy="721.7" r="8" fill="#0c0c0c"/>
<circle cx="1321.7" cy="674.7" r="8" fill="#0c0c0c"/>
<circle cx="1373" cy="627.8" r="8" fill="#0c0c0c"/>
<circle cx="1441.3" cy="583.5" r="8" fill="#0c0c0c"/>
<circle cx="1073.8" cy="871.3" r="6" fill="#fff" stroke="#0c0c0c" stroke-width="2.8"/>
<circle cx="1159" cy="830.3" r="6" fill="#fff" stroke="#0c0c0c" stroke-width="2.8"/>
<circle cx="1253.4" cy="777.4" r="6" fill="#fff" stroke="#0c0c0c" stroke-width="2.8"/>
<circle cx="1330.4" cy="721.7" r="6" fill="#fff" stroke="#0c0c0c" stroke-width="2.8"/>
<circle cx="1424.3" cy="674.7" r="6" fill="#fff" stroke="#0c0c0c" stroke-width="2.8"/>
<circle cx="1493" cy="627.8" r="6" fill="#fff" stroke="#0c0c0c" stroke-width="2.8"/>
<circle cx="1569.6" cy="583.5" r="6" fill="#fff" stroke="#0c0c0c" stroke-width="2.8"/>
<circle cx="1118.6" cy="584.6" r="9" fill="#0c0c0c"/>
<circle cx="1118.6" cy="628.8" r="6.5" fill="#fff" stroke="#0c0c0c" stroke-width="2.6"/>
<text x="1154.0" y="595.5" font-family='"Liberation Serif",serif' font-size="29" font-weight="bold" textLength="85.0" lengthAdjust="spacingAndGlyphs" fill="#000">Young</text>
<text x="1157.4" y="638.0" font-family='"Liberation Serif",serif' font-size="29" font-weight="bold" textLength="48.0" lengthAdjust="spacingAndGlyphs" fill="#000">Old</text>
<line x1="1590.8" y1="693.8" x2="1521.5" y2="640.9" stroke="#dc2a22" stroke-width="2.6"/>
<path d="M1536.1,644.3 L1521.5,640.9 L1528.7,654.1" stroke="#dc2a22" stroke-width="2.6" fill="none" stroke-linecap="round" stroke-linejoin="miter"/>
<text x="1508.0" y="755.5" font-family='"Liberation Serif",serif' font-size="28" font-weight="bold" textLength="178.0" lengthAdjust="spacingAndGlyphs" fill="#000">V<tspan font-size="17" dy="0">o</tspan> = Slope/FL</text>
<text x="16.3" y="1075.0" font-family='"Liberation Serif",serif' font-size="40" fill="#000">E</text>
<defs>
<linearGradient id="eRise" x1="0" y1="0" x2="0" y2="1"><stop offset="0" stop-color="#5a5a5a"/><stop offset="0.14" stop-color="#808080"/><stop offset="0.34" stop-color="#b4b4b4"/><stop offset="1" stop-color="#c6c6c6"/></linearGradient>
<linearGradient id="eRise1" x1="0" y1="0" x2="0" y2="1"><stop offset="0" stop-color="#4a4a4a"/><stop offset="0.35" stop-color="#777"/><stop offset="0.75" stop-color="#b4b4b4"/><stop offset="1" stop-color="#9a9a9a"/></linearGradient>
<linearGradient id="eDrop" x1="0" y1="0" x2="0" y2="1"><stop offset="0" stop-color="#707070"/><stop offset="0.3" stop-color="#4e4e4e"/><stop offset="0.78" stop-color="#5a5a5a"/><stop offset="0.86" stop-color="#a8a8a8"/><stop offset="1" stop-color="#b8b8b8"/></linearGradient>
</defs>
<path d="M15.0,1321.3 L16.0,1322.9 L16.9,1321.6 L17.9,1318.0 L18.9,1322.9 L20.0,1317.0 L20.8,1317.0 L21.9,1323.6 L22.6,1326.8 L23.8,1322.0 L24.8,1320.4 L25.5,1321.6 L26.3,1320.5 L27.1,1320.0 L28.0,1321.3 L29.1,1321.6 L30.2,1321.5 L31.2,1321.4 L32.0,1327.0 L33.2,1325.2 L34.3,1319.5 L35.1,1319.2 L35.8,1324.4 L36.7,1325.3 L37.6,1326.5 L38.7,1319.9 L39.6,1322.8 L40.5,1323.0 L41.4,1320.1 L42.4,1322.4 L43.2,1320.2 L44.1,1323.0 L45.2,1317.3 L46.0,1317.1 L46.7,1324.8 L47.5,1322.2 L48.4,1318.1 L49.5,1317.4 L50.5,1317.3 L51.4,1318.3 L52.3,1323.0 L53.4,1320.9 L54.5,1320.6 L55.4,1322.6 L56.4,1320.2 L57.6,1320.6 L58.5,1322.4 L59.3,1320.8 L60.1,1320.2 L61.1,1320.7 L62.1,1321.1 L63.0,1323.0 L63.9,1321.7" stroke="#555" stroke-width="1.4" fill="none"/>
<path d="M15.0,1321.5 L16.0,1321.9 L16.9,1321.5 L17.9,1320.5 L18.9,1321.9 L20.0,1320.2 L20.8,1320.1 L21.9,1322.1 L22.6,1323.1 L23.8,1321.6 L24.8,1321.2 L25.5,1321.5 L26.3,1321.2 L27.1,1321.0 L28.0,1321.4 L29.1,1321.5 L30.2,1321.5 L31.2,1321.5 L32.0,1323.1 L33.2,1322.6 L34.3,1320.9 L35.1,1320.8 L35.8,1322.4 L36.7,1322.6 L37.6,1323.0 L38.7,1321.0 L39.6,1321.9 L40.5,1322.0 L41.4,1321.1 L42.4,1321.8 L43.2,1321.1 L44.1,1321.9 L45.2,1320.2 L46.0,1320.2 L46.7,1322.5 L47.5,1321.7 L48.4,1320.5 L49.5,1320.3 L50.5,1320.2 L51.4,1320.6 L52.3,1322.0 L53.4,1321.3 L54.5,1321.2 L55.4,1321.8 L56.4,1321.1 L57.6,1321.2 L58.5,1321.8 L59.3,1321.3 L60.1,1321.1 L61.1,1321.3 L62.1,1321.4 L63.0,1321.9 L63.9,1321.6" stroke="#3c3c3c" stroke-width="3.0" fill="none"/>
<path d="M62,1321 C65,1320 64.8,1314 65.5,1308 C67.5,1263.5 76,1235 85,1232" stroke="url(#eRise1)" stroke-width="3" fill="none"/>
<path d="M85.4,1232 C86.6,1242.5 85.9,1267.0 86.2,1302" stroke="url(#eDrop)" stroke-width="3.2" fill="none"/>
<path d="M87.4,1302 L87.80000000000001,1186.3200000000002 C88.0,1164.2720000000002 90.05000000000001,1152.4 98,1152.4" stroke="url(#eRise)" stroke-width="3" fill="none"/>
<path d="M98.4,1152.4 C99.6,1161.04 100.3,1181.2 100.6,1210" stroke="url(#eDrop)" stroke-width="3.2" fill="none"/>
<path d="M101.8,1210 L102.2,1132.6399999999999 C102.39999999999999,1109.344 104.6,1096.8 113,1096.8" stroke="url(#eRise)" stroke-width="3" fill="none"/>
<path d="M113.4,1096.8 C114.6,1105.725 114.7,1126.55 115,1156.3" stroke="url(#eDrop)" stroke-width="3.2" fill="none"/>
<path d="M116.60000000000001,1104 L116.60000000000001,1082.2 C116.8,1070.5 117.2,1064.2 120.2,1064.2 L122.2,1104 Z" fill="#cdcdcd" opacity="0.75"/>
<path d="M116.2,1156.3 L116.60000000000001,1082.2 C116.8,1070.5 117.2,1064.2 120.2,1064.2" stroke="url(#eRise)" stroke-width="3" fill="none"/>
<path d="M120.60000000000001,1064.2 C121.8,1070.17 121.9,1084.1 122.2,1104" stroke="url(#eDrop)" stroke-width="3.2" fill="none"/>
<path d="M123.80000000000001,1077.2 L123.80000000000001,1069.8 C124.0,1058.1 124.05000000000001,1051.8 126,1051.8 L126.7,1077.2 Z" fill="#cdcdcd" opacity="0.75"/>
<path d="M123.4,1104 L123.80000000000001,1069.8 C124.0,1058.1 124.05000000000001,1051.8 126,1051.8" stroke="url(#eRise)" stroke-width="3" fill="none"/>
<path d="M126.4,1051.8 C127.6,1055.61 126.4,1064.5 126.7,1077.2" stroke="url(#eDrop)" stroke-width="3.2" fill="none"/>
<path d="M128.1,1077.2 L129.5,1318.3 L132.6,1319.1" stroke="#b2b2b2" stroke-width="3.2" fill="none" stroke-linejoin="round"/>
<path d="M129.29999999999998,1083.2 L130.29999999999998,1315.3" stroke="#d9d9d9" stroke-width="1.2" fill="none"/>
<path d="M144.8,1320.5 L145.6,1322.8 L146.7,1318.7 L147.5,1324.1 L148.7,1318.2 L149.8,1325.7 L150.8,1320.6 L151.6,1316.4 L152.8,1320.7 L153.8,1320.7 L154.9,1321.8 L155.8,1320.5 L156.8,1320.1 L157.6,1321.7 L158.8,1321.9 L159.6,1322.8 L160.4,1320.0 L161.2,1320.9 L162.0,1317.9 L162.9,1322.3 L163.6,1320.0 L164.8,1326.8 L165.8,1323.6 L166.8,1317.5 L167.5,1320.0 L168.7,1322.1 L169.8,1320.0 L170.9,1321.4 L171.9,1320.9 L173.1,1320.1 L174.1,1324.1 L175.3,1324.1 L176.3,1324.7 L177.5,1319.9 L178.5,1325.9 L179.6,1320.6 L180.7,1322.7 L181.7,1321.9 L182.6,1321.8 L183.6,1320.2 L184.6,1323.1 L185.8,1322.2 L186.7,1322.3 L187.7,1321.3 L188.8,1320.2 L189.9,1320.0 L190.9,1321.4 L191.7,1322.1" stroke="#555" stroke-width="1.4" fill="none"/>
<path d="M144.8,1321.2 L145.6,1321.9 L146.7,1320.7 L147.5,1322.3 L148.7,1320.5 L149.8,1322.8 L150.8,1321.2 L151.6,1320.0 L152.8,1321.2 L153.8,1321.3 L154.9,1321.6 L155.8,1321.2 L156.8,1321.1 L157.6,1321.6 L158.8,1321.6 L159.6,1321.9 L160.4,1321.0 L161.2,1321.3 L162.0,1320.4 L162.9,1321.7 L163.6,1321.0 L164.8,1323.1 L165.8,1322.1 L166.8,1320.3 L167.5,1321.0 L168.7,1321.7 L169.8,1321.0 L170.9,1321.5 L171.9,1321.3 L173.1,1321.1 L174.1,1322.3 L175.3,1322.3 L176.3,1322.5 L177.5,1321.0 L178.5,1322.8 L179.6,1321.2 L180.7,1321.8 L181.7,1321.6 L182.6,1321.6 L183.6,1321.1 L184.6,1322.0 L185.8,1321.7 L186.7,1321.7 L187.7,1321.4 L188.8,1321.1 L189.9,1321.0 L190.9,1321.5 L191.7,1321.7" stroke="#3c3c3c" stroke-width="3.0" fill="none"/>
<path d="M190,1321 C193,1320 192.8,1314 193.5,1308 C195.5,1263.825 205.2,1235.5 214.2,1232.5" stroke="url(#eRise1)" stroke-width="3" fill="none"/>
<path d="M214.6,1232.5 C215.79999999999998,1242.775 214.79999999999998,1266.75 215.1,1301" stroke="url(#eDrop)" stroke-width="3.2" fill="none"/>
<path d="M216.29999999999998,1301 L216.7,1187.7800000000002 C216.89999999999998,1165.1080000000002 219.02499999999998,1152.9 227.2,1152.9" stroke="url(#eRise)" stroke-width="3" fill="none"/>
<path d="M227.6,1152.9 C228.79999999999998,1161.375 229.7,1181.15 230,1209.4" stroke="url(#eDrop)" stroke-width="3.2" fill="none"/>
<path d="M231.2,1209.4 L231.6,1128.7600000000002 C231.79999999999998,1108.3760000000002 233.64999999999998,1097.4 241,1097.4" stroke="url(#eRise)" stroke-width="3" fill="none"/>
<path d="M241.4,1097.4 C242.6,1106.145 243.5,1126.5500000000002 243.8,1155.7" stroke="url(#eDrop)" stroke-width="3.2" fill="none"/>
<path d="M245.4,1103.9 L245.4,1083 C245.6,1071.3 245.875,1065 248.5,1065 L252,1103.9 Z" fill="#cdcdcd" opacity="0.75"/>
<path d="M245.0,1155.7 L245.4,1083 C245.6,1071.3 245.875,1065 248.5,1065" stroke="url(#eRise)" stroke-width="3" fill="none"/>
<path d="M248.9,1065 C250.1,1070.835 251.7,1084.45 252,1103.9" stroke="url(#eDrop)" stroke-width="3.2" fill="none"/>
<path d="M253.6,1077 L253.6,1070 C253.79999999999998,1058.3 253.875,1052 255.9,1052 L256.7,1077 Z" fill="#cdcdcd" opacity="0.75"/>
<path d="M253.2,1103.9 L253.6,1070 C253.79999999999998,1058.3 253.875,1052 255.9,1052" stroke="url(#eRise)" stroke-width="3" fill="none"/>
<path d="M256.3,1052 C257.5,1055.75 256.4,1064.5 256.7,1077" stroke="url(#eDrop)" stroke-width="3.2" fill="none"/>
<path d="M257.4,1077 L258.8,1317.6 L261.8,1318.3999999999999" stroke="#b2b2b2" stroke-width="3.2" fill="none" stroke-linejoin="round"/>
<path d="M258.6,1083 L259.6,1314.6" stroke="#d9d9d9" stroke-width="1.2" fill="none"/>
<path d="M314.8,1321.9 L316.0,1320.7 L316.7,1320.9 L317.7,1318.2 L318.5,1326.0 L319.5,1320.9 L320.7,1319.6 L321.7,1318.2 L322.6,1324.9 L323.8,1322.7 L324.7,1321.8 L325.5,1320.3 L326.5,1322.6 L327.6,1322.2 L328.8,1320.8 L329.6,1321.3 L330.4,1320.6 L331.3,1321.9 L332.2,1320.9 L333.4,1326.8 L334.3,1316.8 L335.0,1325.6 L335.7,1323.8 L336.7,1319.4 L337.8,1316.2 L338.6,1321.0 L339.3,1325.1 L340.1,1320.4 L340.8,1321.9 L341.8,1321.9 L342.8,1322.5 L344.0,1322.1 L344.8,1321.4 L345.6,1319.9 L346.5,1322.2 L347.3,1320.8 L348.1,1323.7 L349.1,1322.8 L350.2,1320.3 L351.3,1326.0 L352.0,1326.3 L353.1,1317.4 L354.0,1322.9 L355.2,1321.1 L356.2,1322.7 L357.3,1322.9 L358.2,1322.0 L359.0,1322.2 L360.1,1322.0 L361.2,1320.6 L362.3,1323.0 L363.5,1321.6 L364.6,1320.9 L365.7,1322.6 L366.6,1320.2 L367.5,1321.7" stroke="#555" stroke-width="1.4" fill="none"/>
<path d="M314.8,1321.6 L316.0,1321.3 L316.7,1321.3 L317.7,1320.5 L318.5,1322.8 L319.5,1321.3 L320.7,1320.9 L321.7,1320.5 L322.6,1322.5 L323.8,1321.9 L324.7,1321.6 L325.5,1321.2 L326.5,1321.8 L327.6,1321.7 L328.8,1321.3 L329.6,1321.5 L330.4,1321.2 L331.3,1321.6 L332.2,1321.3 L333.4,1323.1 L334.3,1320.1 L335.0,1322.7 L335.7,1322.2 L336.7,1320.9 L337.8,1319.9 L338.6,1321.4 L339.3,1322.6 L340.1,1321.2 L340.8,1321.6 L341.8,1321.6 L342.8,1321.8 L344.0,1321.7 L344.8,1321.5 L345.6,1321.0 L346.5,1321.7 L347.3,1321.3 L348.1,1322.2 L349.1,1321.9 L350.2,1321.1 L351.3,1322.8 L352.0,1322.9 L353.1,1320.3 L354.0,1321.9 L355.2,1321.4 L356.2,1321.9 L357.3,1321.9 L358.2,1321.6 L359.0,1321.7 L360.1,1321.6 L361.2,1321.2 L362.3,1322.0 L363.5,1321.5 L364.6,1321.3 L365.7,1321.8 L366.6,1321.1 L367.5,1321.5" stroke="#3c3c3c" stroke-width="3.0" fill="none"/>
<path d="M367.4,1321 C370.4,1320 370.2,1314 370.9,1308 C372.9,1284.495 378.9,1267.3 387.9,1264.3" stroke="url(#eRise1)" stroke-width="3" fill="none"/>
<path d="M388.29999999999995,1264.3 C389.5,1271.05 389.5,1286.8 389.8,1309.3" stroke="url(#eDrop)" stroke-width="3.2" fill="none"/>
<path d="M391.0,1309.3 L392.9,1198.2" stroke="#b4b4b4" stroke-width="3" fill="none"/>
<path d="M404,1197.3 L404.4,1236.2" stroke="#8d8d8d" stroke-width="3" fill="none"/>
<path d="M406.6,1197 L406.3,1140" stroke="#d0d0d0" stroke-width="2.4" fill="none"/>
<path d="M404.6,1127 C404.8,1112 407,1104.5 412.9,1103.9" stroke="#a2a2a2" stroke-width="3" fill="none"/>
<path d="M413.29999999999995,1103.9 C414.5,1113.755 415.4,1136.75 415.7,1169.6" stroke="url(#eDrop)" stroke-width="3.2" fill="none"/>
<path d="M417.29999999999995,1108.5 L417.29999999999995,1085.8 C417.5,1074.1 417.97499999999997,1067.8 421.2,1067.8 L423,1108.5 Z" fill="#cdcdcd" opacity="0.75"/>
<path d="M416.9,1169.6 L417.29999999999995,1085.8 C417.5,1074.1 417.97499999999997,1067.8 421.2,1067.8" stroke="url(#eRise)" stroke-width="3" fill="none"/>
<path d="M421.59999999999997,1067.8 C422.8,1073.905 422.7,1088.15 423,1108.5" stroke="url(#eDrop)" stroke-width="3.2" fill="none"/>
<path d="M424.59999999999997,1075 L424.59999999999997,1070 C424.8,1058.3 424.85,1052 426.8,1052 L427.4,1075 Z" fill="#cdcdcd" opacity="0.75"/>
<path d="M424.2,1108.5 L424.59999999999997,1070 C424.8,1058.3 424.85,1052 426.8,1052" stroke="url(#eRise)" stroke-width="3" fill="none"/>
<path d="M427.2,1052 C428.40000000000003,1055.45 427.09999999999997,1063.5 427.4,1075" stroke="url(#eDrop)" stroke-width="3.2" fill="none"/>
<path d="M428.0,1075 L429.40000000000003,1316.7 L432.3,1317.5" stroke="#b2b2b2" stroke-width="3.2" fill="none" stroke-linejoin="round"/>
<path d="M429.20000000000005,1081 L430.20000000000005,1313.7" stroke="#d9d9d9" stroke-width="1.2" fill="none"/>
<path d="M443.4,1321.5 L444.1,1322.5 L444.8,1322.5 L445.6,1321.0 L446.7,1317.5 L447.5,1321.7 L448.6,1325.2 L449.6,1326.4 L450.6,1326.4 L451.3,1318.4 L452.3,1320.8 L453.3,1321.9 L454.3,1322.6 L455.3,1320.9 L456.2,1322.6 L457.3,1320.6 L458.4,1323.0 L459.4,1321.7 L460.2,1321.6 L461.1,1321.8 L461.9,1323.0 L462.8,1320.4 L463.9,1322.2 L464.9,1323.6 L465.6,1321.9 L466.5,1326.5 L467.7,1319.0 L468.6,1320.3 L469.5,1322.5 L470.7,1321.4 L471.5,1320.5 L472.5,1322.9 L473.3,1322.4 L474.0,1320.5 L474.8,1322.1 L475.7,1321.0 L476.7,1320.2 L477.8,1317.4 L478.7,1318.8 L479.5,1321.8 L480.4,1320.1 L481.3,1321.8 L482.1,1318.2 L483.1,1323.0 L484.1,1322.6 L485.1,1322.6 L485.9,1322.3 L487.0,1322.8 L487.9,1320.9 L489.0,1320.6 L490.2,1322.7 L491.0,1320.7 L492.1,1320.7 L492.8,1322.6 L493.7,1322.4 L494.5,1321.2 L495.5,1320.0 L496.3,1322.1 L497.5,1323.0" stroke="#555" stroke-width="1.4" fill="none"/>
<path d="M443.4,1321.5 L444.1,1321.8 L444.8,1321.8 L445.6,1321.3 L446.7,1320.3 L447.5,1321.6 L448.6,1322.6 L449.6,1323.0 L450.6,1323.0 L451.3,1320.6 L452.3,1321.3 L453.3,1321.6 L454.3,1321.8 L455.3,1321.3 L456.2,1321.8 L457.3,1321.2 L458.4,1321.9 L459.4,1321.6 L460.2,1321.5 L461.1,1321.6 L461.9,1322.0 L462.8,1321.2 L463.9,1321.7 L464.9,1322.1 L465.6,1321.6 L466.5,1323.0 L467.7,1320.7 L468.6,1321.1 L469.5,1321.8 L470.7,1321.5 L471.5,1321.2 L472.5,1321.9 L473.3,1321.8 L474.0,1321.2 L474.8,1321.7 L475.7,1321.4 L476.7,1321.1 L477.8,1320.3 L478.7,1320.7 L479.5,1321.6 L480.4,1321.1 L481.3,1321.6 L482.1,1320.5 L483.1,1322.0 L484.1,1321.8 L485.1,1321.8 L485.9,1321.7 L487.0,1321.9 L487.9,1321.3 L489.0,1321.2 L490.2,1321.9 L491.0,1321.2 L492.1,1321.3 L492.8,1321.8 L493.7,1321.8 L494.5,1321.4 L495.5,1321.0 L496.3,1321.7 L497.5,1321.9" stroke="#3c3c3c" stroke-width="3.0" fill="none"/>
<path d="M497,1321 C500,1320 499.8,1314 500.5,1308 C502.5,1287.29 504.79999999999995,1271.6 513.8,1268.6" stroke="url(#eRise1)" stroke-width="3" fill="none"/>
<path d="M514.1999999999999,1268.6 C515.4,1273.865 512.9000000000001,1286.15 513.2,1303.7" stroke="url(#eDrop)" stroke-width="3.2" fill="none"/>
<path d="M514.4000000000001,1303.7 L514.8000000000001,1217.9999999999995 C515.0000000000001,1184.7199999999998 518.4000000000001,1166.8 530.4,1166.8" stroke="url(#eRise)" stroke-width="3" fill="none"/>
<path d="M530.8,1166.8 C532.0,1173.58 531.4000000000001,1189.4 531.7,1212" stroke="url(#eDrop)" stroke-width="3.2" fill="none"/>
<path d="M532.9000000000001,1212 L533.3000000000001,1128.54 C533.5000000000001,1112.5240000000001 534.825,1103.9 540.6,1103.9" stroke="url(#eRise)" stroke-width="3" fill="none"/>
<path d="M541.0,1103.9 C542.2,1112.615 542.7,1132.95 543,1162" stroke="url(#eDrop)" stroke-width="3.2" fill="none"/>
<path d="M544.6,1105.7 L544.6,1084 C544.8000000000001,1072.3 545.375,1066 548.9,1066 L550.8,1105.7 Z" fill="#cdcdcd" opacity="0.75"/>
<path d="M544.2,1162 L544.6,1084 C544.8000000000001,1072.3 545.375,1066 548.9,1066" stroke="url(#eRise)" stroke-width="3" fill="none"/>
<path d="M549.3,1066 C550.5,1071.955 550.5,1085.85 550.8,1105.7" stroke="url(#eDrop)" stroke-width="3.2" fill="none"/>
<path d="M552.4,1086 L552.4,1070 C552.6,1058.3 552.85,1052 555.4,1052 L556,1086 Z" fill="#cdcdcd" opacity="0.75"/>
<path d="M552.0,1105.7 L552.4,1070 C552.6,1058.3 552.85,1052 555.4,1052" stroke="url(#eRise)" stroke-width="3" fill="none"/>
<path d="M555.8,1052 C557.0,1057.1 555.7,1069.0 556,1086" stroke="url(#eDrop)" stroke-width="3.2" fill="none"/>
<path d="M556.6999999999999,1086 L558.0999999999999,1317.6 L560.6,1318.3999999999999" stroke="#b2b2b2" stroke-width="3.2" fill="none" stroke-linejoin="round"/>
<path d="M557.9,1092 L558.9,1314.6" stroke="#d9d9d9" stroke-width="1.2" fill="none"/>
<path d="M614.0,1321.5 L615.1,1321.5 L616.1,1318.1 L616.9,1317.2 L617.6,1322.1 L618.5,1322.3 L619.3,1318.0 L620.1,1325.2 L621.3,1326.2 L622.1,1320.1 L623.2,1321.4 L624.3,1320.9 L625.2,1321.5 L626.2,1321.8 L626.9,1322.1 L628.0,1320.5 L628.9,1324.1 L629.8,1318.1 L630.6,1321.6 L631.3,1325.8 L632.4,1323.8 L633.5,1322.9 L634.4,1322.6 L635.4,1323.0 L636.5,1320.7 L637.7,1322.3 L638.7,1322.5 L639.6,1322.8 L640.8,1323.6 L641.9,1324.4 L642.8,1323.9 L643.5,1319.8 L644.4,1316.1 L645.3,1323.0 L646.3,1318.6 L647.5,1322.0 L648.4,1322.0 L649.4,1321.6 L650.2,1323.1 L651.3,1322.1 L652.4,1323.0 L653.1,1321.9 L654.1,1320.7 L655.0,1320.1 L655.8,1321.1 L656.6,1320.7" stroke="#555" stroke-width="1.4" fill="none"/>
<path d="M614.0,1321.5 L615.1,1321.5 L616.1,1320.5 L616.9,1320.2 L617.6,1321.7 L618.5,1321.7 L619.3,1320.5 L620.1,1322.6 L621.3,1322.9 L622.1,1321.1 L623.2,1321.5 L624.3,1321.3 L625.2,1321.5 L626.2,1321.6 L626.9,1321.7 L628.0,1321.2 L628.9,1322.3 L629.8,1320.5 L630.6,1321.5 L631.3,1322.8 L632.4,1322.2 L633.5,1321.9 L634.4,1321.8 L635.4,1322.0 L636.5,1321.3 L637.7,1321.7 L638.7,1321.8 L639.6,1321.9 L640.8,1322.1 L641.9,1322.4 L642.8,1322.2 L643.5,1321.0 L644.4,1319.9 L645.3,1322.0 L646.3,1320.6 L647.5,1321.7 L648.4,1321.7 L649.4,1321.5 L650.2,1322.0 L651.3,1321.7 L652.4,1322.0 L653.1,1321.6 L654.1,1321.3 L655.0,1321.1 L655.8,1321.4 L656.6,1321.3" stroke="#3c3c3c" stroke-width="3.0" fill="none"/>
<path d="M657.7,1319 C663.5500000000001,1319 667.7,1304.9 670.7,1301.9 L671.6,1323" stroke="#4a4a4a" stroke-width="2.6" fill="none"/>
<path d="M672.5,1323 L672.8,1301 C673.5,1244.7350000000001 676.0,1192.7 685.5,1180.7" stroke="url(#eRise1)" stroke-width="3" fill="none"/>
<path d="M685.9,1180.7 C687.1,1190.555 688.0,1213.5500000000002 688.3,1246.4" stroke="url(#eDrop)" stroke-width="3.2" fill="none"/>
<path d="M689.5,1246.4 L689.9,1139.52 C690.1,1124.752 691.275,1116.8 696.6,1116.8" stroke="url(#eRise)" stroke-width="3" fill="none"/>
<path d="M697.0,1116.8 C698.2,1124.855 699.7,1143.65 700,1170.5" stroke="url(#eDrop)" stroke-width="3.2" fill="none"/>
<path d="M701.2,1170.5 L701.6,1102.4 C701.8000000000001,1090.7 702.0250000000001,1084.4 704.5,1084.4" stroke="url(#eRise)" stroke-width="3" fill="none"/>
<path d="M704.9,1084.4 C706.1,1091.48 708.3000000000001,1108.0 708.6,1131.6" stroke="url(#eDrop)" stroke-width="3.2" fill="none"/>
<path d="M710.2,1103 L710.2,1083 C710.4000000000001,1071.3 710.5500000000001,1065 712.8,1065 L716,1103 Z" fill="#cdcdcd" opacity="0.75"/>
<path d="M709.8000000000001,1131.6 L710.2,1083 C710.4000000000001,1071.3 710.5500000000001,1065 712.8,1065" stroke="url(#eRise)" stroke-width="3" fill="none"/>
<path d="M713.1999999999999,1065 C714.4,1070.7 715.7,1084.0 716,1103" stroke="url(#eDrop)" stroke-width="3.2" fill="none"/>
<path d="M717.6,1079 L717.6,1075.6 C717.8000000000001,1063.8999999999999 718.3000000000001,1057.6 721.6,1057.6 L723.2,1079 Z" fill="#cdcdcd" opacity="0.75"/>
<path d="M717.2,1103 L717.6,1075.6 C717.8000000000001,1063.8999999999999 718.3000000000001,1057.6 721.6,1057.6" stroke="url(#eRise)" stroke-width="3" fill="none"/>
<path d="M722.0,1057.6 C723.2,1060.81 722.9000000000001,1068.3 723.2,1079" stroke="url(#eDrop)" stroke-width="3.2" fill="none"/>
<path d="M724.6,1085 L726.0,1317.6 L730.8,1318.3999999999999" stroke="#b2b2b2" stroke-width="3.2" fill="none" stroke-linejoin="round"/>
<path d="M725.8000000000001,1091 L726.8000000000001,1314.6" stroke="#d9d9d9" stroke-width="1.2" fill="none"/>
<path d="M742.9,1321.7 L743.9,1326.6 L744.8,1326.9 L745.9,1324.9 L746.6,1322.6 L747.7,1316.5 L748.8,1317.8 L749.8,1317.9 L750.7,1321.9 L751.5,1322.9 L752.4,1321.6 L753.4,1321.1 L754.2,1322.0 L755.2,1319.1 L756.2,1319.3 L757.0,1318.7 L757.7,1317.7 L758.7,1320.3 L759.9,1324.2 L760.6,1326.9 L761.8,1320.1 L762.9,1321.3 L763.9,1323.0 L764.7,1321.6 L765.9,1324.0 L766.8,1326.8 L767.9,1322.6 L768.7,1322.9 L769.6,1318.2 L770.3,1321.8 L771.1,1320.9 L772.1,1321.4 L773.0,1321.8 L773.9,1322.4 L774.8,1323.1 L776.0,1322.2 L776.8,1320.3 L778.0,1322.4 L779.0,1321.0 L779.8,1322.1" stroke="#555" stroke-width="1.4" fill="none"/>
<path d="M742.9,1321.5 L743.9,1323.0 L744.8,1323.1 L745.9,1322.5 L746.6,1321.8 L747.7,1320.0 L748.8,1320.4 L749.8,1320.4 L750.7,1321.6 L751.5,1321.9 L752.4,1321.5 L753.4,1321.4 L754.2,1321.6 L755.2,1320.8 L756.2,1320.8 L757.0,1320.7 L757.7,1320.4 L758.7,1321.1 L759.9,1322.3 L760.6,1323.1 L761.8,1321.1 L762.9,1321.4 L763.9,1322.0 L764.7,1321.5 L765.9,1322.2 L766.8,1323.1 L767.9,1321.8 L768.7,1321.9 L769.6,1320.5 L770.3,1321.6 L771.1,1321.3 L772.1,1321.5 L773.0,1321.6 L773.9,1321.8 L774.8,1322.0 L776.0,1321.7 L776.8,1321.1 L778.0,1321.8 L779.0,1321.4 L779.8,1321.7" stroke="#3c3c3c" stroke-width="3.0" fill="none"/>
<path d="M780,1319 C787.02,1319 792.6,1300.3 795.6,1297.3 L796.5,1323" stroke="#4a4a4a" stroke-width="2.6" fill="none"/>
<path d="M797.5,1323 L797.8,1301 C798.5,1250.29 801.0,1202.8 809.5,1190.8" stroke="url(#eRise1)" stroke-width="3" fill="none"/>
<path d="M809.9,1190.8 C811.1,1202.185 812.5,1228.75 812.8,1266.7" stroke="url(#eDrop)" stroke-width="3.2" fill="none"/>
<path d="M814.0,1266.7 L814.4,1154.36 C814.6,1132.9360000000001 816.575,1121.4 824.3,1121.4" stroke="url(#eRise)" stroke-width="3" fill="none"/>
<path d="M824.6999999999999,1121.4 C825.9,1130.7 826.7,1152.4 827,1183.4" stroke="url(#eDrop)" stroke-width="3.2" fill="none"/>
<path d="M828.2,1183.4 L828.6,1107 C828.8000000000001,1095.3 829.3000000000001,1089 832.6,1089" stroke="url(#eRise)" stroke-width="3" fill="none"/>
<path d="M833.0,1089 C834.2,1096.08 836.0,1112.6 836.3,1136.2" stroke="url(#eDrop)" stroke-width="3.2" fill="none"/>
<path d="M837.9,1117.7 L837.9,1088.5 C838.1,1076.8 838.375,1070.5 841,1070.5 L844.7,1117.7 Z" fill="#cdcdcd" opacity="0.75"/>
<path d="M837.5,1136.2 L837.9,1088.5 C838.1,1076.8 838.375,1070.5 841,1070.5" stroke="url(#eRise)" stroke-width="3" fill="none"/>
<path d="M841.4,1070.5 C842.6,1077.58 844.4000000000001,1094.1 844.7,1117.7" stroke="url(#eDrop)" stroke-width="3.2" fill="none"/>
<path d="M846.3000000000001,1082.6 L846.3000000000001,1075.6 C846.5000000000001,1063.8999999999999 846.9750000000001,1057.6 850.2,1057.6 L851.4,1082.6 Z" fill="#cdcdcd" opacity="0.75"/>
<path d="M845.9000000000001,1117.7 L846.3000000000001,1075.6 C846.5000000000001,1063.8999999999999 846.9750000000001,1057.6 850.2,1057.6" stroke="url(#eRise)" stroke-width="3" fill="none"/>
<path d="M850.6,1057.6 C851.8000000000001,1061.35 851.1,1070.1 851.4,1082.6" stroke="url(#eDrop)" stroke-width="3.2" fill="none"/>
<path d="M852.4,1088 L853.8,1318.5 L858.2,1319.3" stroke="#b2b2b2" stroke-width="3.2" fill="none" stroke-linejoin="round"/>
<path d="M853.6,1094 L854.6,1315.5" stroke="#d9d9d9" stroke-width="1.2" fill="none"/>
<path d="M912.0,1321.8 L913.0,1322.3 L913.8,1318.7 L915.0,1326.1 L916.1,1316.4 L916.9,1319.0 L917.8,1322.9 L918.5,1322.0 L919.3,1317.0 L920.3,1321.7 L921.3,1321.1 L922.3,1320.6 L923.1,1322.3 L924.3,1320.1 L925.0,1322.5 L926.0,1322.4 L926.8,1321.3 L927.7,1324.9 L928.5,1323.2 L929.7,1319.6 L930.7,1324.2 L931.9,1320.7 L932.8,1317.1 L933.9,1316.9 L934.6,1321.7 L935.6,1322.1 L936.4,1322.4 L937.2,1320.6 L938.2,1320.2 L939.1,1322.2 L940.1,1320.8 L940.9,1319.9 L941.9,1320.0 L942.7,1323.8 L943.7,1326.1 L944.8,1326.0 L945.8,1324.8 L946.6,1319.5 L947.5,1322.9 L948.7,1320.7 L949.5,1321.1 L950.4,1321.2 L951.3,1320.5 L952.3,1322.5 L953.3,1322.6 L954.3,1320.5 L955.3,1322.7 L956.2,1320.0 L957.1,1321.6 L958.1,1323.0" stroke="#555" stroke-width="1.4" fill="none"/>
<path d="M912.0,1321.6 L913.0,1321.7 L913.8,1320.7 L915.0,1322.9 L916.1,1320.0 L916.9,1320.7 L917.8,1321.9 L918.5,1321.6 L919.3,1320.1 L920.3,1321.5 L921.3,1321.4 L922.3,1321.2 L923.1,1321.7 L924.3,1321.1 L925.0,1321.8 L926.0,1321.8 L926.8,1321.4 L927.7,1322.5 L928.5,1322.0 L929.7,1320.9 L930.7,1322.3 L931.9,1321.3 L932.8,1320.2 L933.9,1320.1 L934.6,1321.6 L935.6,1321.7 L936.4,1321.8 L937.2,1321.2 L938.2,1321.1 L939.1,1321.7 L940.1,1321.3 L940.9,1321.0 L941.9,1321.1 L942.7,1322.2 L943.7,1322.9 L944.8,1322.9 L945.8,1322.5 L946.6,1320.9 L947.5,1321.9 L948.7,1321.3 L949.5,1321.4 L950.4,1321.4 L951.3,1321.2 L952.3,1321.8 L953.3,1321.8 L954.3,1321.2 L955.3,1321.9 L956.2,1321.0 L957.1,1321.5 L958.1,1321.9" stroke="#3c3c3c" stroke-width="3.0" fill="none"/>
<path d="M958,1321 C961,1320 960.8,1314 961.5,1308 C963.5,1293.92 971.5,1281.8 980.5,1278.8" stroke="url(#eRise1)" stroke-width="3" fill="none"/>
<path d="M980.9,1278.8 C982.1,1284.35 981.1,1297.3 981.4,1315.8" stroke="url(#eDrop)" stroke-width="3.2" fill="none"/>
<path d="M982.6,1315.8 L983.0,1227.4399999999998 C983.2,1203.1039999999998 985.525,1190 994.3,1190" stroke="url(#eRise)" stroke-width="3" fill="none"/>
<path d="M994.6999999999999,1190 C995.9,1199.705 996.7,1222.35 997,1254.7" stroke="url(#eDrop)" stroke-width="3.2" fill="none"/>
<path d="M998.2,1254.7 L998.6,1141.7399999999998 C998.8000000000001,1126.764 1000.0,1118.7 1005.4,1118.7" stroke="url(#eRise)" stroke-width="3" fill="none"/>
<path d="M1005.8,1118.7 C1007.0,1128.135 1007.9000000000001,1150.15 1008.2,1181.6" stroke="url(#eDrop)" stroke-width="3.2" fill="none"/>
<path d="M1009.8000000000001,1117.7 L1009.8000000000001,1091.3 C1010.0000000000001,1079.6 1010.5,1073.3 1013.8,1073.3 L1017.5,1117.7 Z" fill="#cdcdcd" opacity="0.75"/>
<path d="M1009.4000000000001,1181.6 L1009.8000000000001,1091.3 C1010.0000000000001,1079.6 1010.5,1073.3 1013.8,1073.3" stroke="url(#eRise)" stroke-width="3" fill="none"/>
<path d="M1014.1999999999999,1073.3 C1015.4,1079.96 1017.2,1095.5 1017.5,1117.7" stroke="url(#eDrop)" stroke-width="3.2" fill="none"/>
<path d="M1019.1,1084.4 L1019.1,1075.6 C1019.3000000000001,1063.8999999999999 1019.7750000000001,1057.6 1023,1057.6 L1024.2,1084.4 Z" fill="#cdcdcd" opacity="0.75"/>
<path d="M1018.7,1117.7 L1019.1,1075.6 C1019.3000000000001,1063.8999999999999 1019.7750000000001,1057.6 1023,1057.6" stroke="url(#eRise)" stroke-width="3" fill="none"/>
<path d="M1023.4,1057.6 C1024.6,1061.62 1023.9000000000001,1071.0 1024.2,1084.4" stroke="url(#eDrop)" stroke-width="3.2" fill="none"/>
<path d="M1025.2,1090 L1026.6,1317.6 L1029.5,1318.3999999999999" stroke="#b2b2b2" stroke-width="3.2" fill="none" stroke-linejoin="round"/>
<path d="M1026.3999999999999,1096 L1027.3999999999999,1314.6" stroke="#d9d9d9" stroke-width="1.2" fill="none"/>
<path d="M61.4,1231.7 L70.7,1231.5 L70.7,1229.8 L77.7,1233.2 L70.7,1236.4 L70.7,1234.6 L61.4,1234.4 Z" fill="#3b3b30"/>
<path d="M191,1231.2 L199.8,1231.0 L199.8,1229.3 L206.8,1232.7 L199.8,1235.9 L199.8,1234.1 L191,1233.9 Z" fill="#3b3b30"/>
<path d="M363.9,1262.7 L373.5,1262.5 L373.5,1260.8 L380.5,1264.2 L373.5,1267.4 L373.5,1265.6 L363.9,1265.4 Z" fill="#3b3b30"/>
<path d="M489.7,1268.2 L498.4,1268.0 L498.4,1266.3 L505.4,1269.7 L498.4,1272.9 L498.4,1271.1 L489.7,1270.9 Z" fill="#3b3b30"/>
<path d="M662.4,1178.7 L673,1178.5 L673,1176.8 L680,1180.2 L673,1183.4 L673,1181.6 L662.4,1181.4 Z" fill="#3b3b30"/>
<path d="M788.8,1189.5 L798.4,1189.3 L798.4,1187.6 L805.4,1191.0 L798.4,1194.2 L798.4,1192.3999999999999 L788.8,1192.2 Z" fill="#3b3b30"/>
<path d="M957.3,1277.5 L966,1277.3 L966,1275.6 L973,1279.0 L966,1282.2 L966,1280.3999999999999 L957.3,1280.2 Z" fill="#3b3b30"/>
<path d="M344.7,1058.5 L344.7,1101 L388.7,1101" stroke="#0c0c0c" stroke-width="2.6" fill="none"/>
<text x="269.7" y="1090.9" font-family='"Liberation Serif",serif' font-size="21.5" font-weight="bold" textLength="64.8" lengthAdjust="spacingAndGlyphs" fill="#000">0.1mN</text>
<text x="350.2" y="1127.0" font-family='"Liberation Serif",serif' font-size="21.5" font-weight="bold" textLength="31.5" lengthAdjust="spacingAndGlyphs" fill="#000">10s</text>
<path d="M293.8,1320 L286.3,1329 L301.3,1329 Z" fill="#2e2e2e"/>
<line x1="293.8" y1="1328.0" x2="293.8" y2="1370.8" stroke="#2e2e2e" stroke-width="3.8"/>
<path d="M577,1320 L569.5,1329 L584.5,1329 Z" fill="#2e2e2e"/>
<path d="M577,1328 L577,1352.7 L561.7,1352.7 L561.7,1370.8" stroke="#2e2e2e" stroke-width="3.6" fill="none" stroke-linejoin="miter"/>
<path d="M597.3,1320 L589.8,1329 L604.8,1329 Z" fill="#2e2e2e"/>
<path d="M597.3,1328 L597.3,1352.7 L611.7,1352.7 L611.7,1370.8" stroke="#2e2e2e" stroke-width="3.6" fill="none" stroke-linejoin="miter"/>
<path d="M888.5,1320.5 L881.0,1329.5 L896.0,1329.5 Z" fill="#2e2e2e"/>
<line x1="888.5" y1="1328.5" x2="888.5" y2="1370.5" stroke="#2e2e2e" stroke-width="3.8"/>
<text x="210.0" y="1400.0" font-family='"Liberation Serif",serif' font-size="23.5" font-weight="bold" textLength="127.7" lengthAdjust="spacingAndGlyphs" fill="#000">10 mM DTT</text>
<text x="428.0" y="1397.0" font-family='"Liberation Serif",serif' font-size="23.5" font-weight="bold" textLength="147.6" lengthAdjust="spacingAndGlyphs" fill="#000">0.1 mM DTDP</text>
<text x="597.0" y="1396.6" font-family='"Liberation Serif",serif' font-size="23.5" font-weight="bold" textLength="116.6" lengthAdjust="spacingAndGlyphs" fill="#000">5 mM GSH</text>
<text x="814.6" y="1400.0" font-family='"Liberation Serif",serif' font-size="26" font-weight="bold" textLength="141.4" lengthAdjust="spacingAndGlyphs" fill="#000">10 mM DTT</text>
<text x="1067.8" y="1034.0" font-family='"Liberation Serif",serif' font-size="40" fill="#000">G</text>
<line x1="1162.2" y1="1050.0" x2="1162.2" y2="1428.4" stroke="#c9c9c9" stroke-width="2"/>
<line x1="1160.0" y1="1284.9" x2="1705.8" y2="1284.9" stroke="#c9c9c9" stroke-width="2"/>
<line x1="1162.2" y1="1191.4" x2="1705.8" y2="1191.4" stroke="#b8b8b8" stroke-width="1.6"/>
<line x1="1162.2" y1="1379.2" x2="1705.8" y2="1379.2" stroke="#bdbdbd" stroke-width="1.8"/>
<line x1="1162.2" y1="1280.0" x2="1162.2" y2="1289.5" stroke="#c9c9c9" stroke-width="2"/>
<text x="1153.4" y="1309.7" font-family='"Liberation Serif",serif' font-size="19.5" font-weight="bold" textLength="25.2" lengthAdjust="spacingAndGlyphs" fill="#000">0.0</text>
<line x1="1239.8" y1="1280.0" x2="1239.8" y2="1289.5" stroke="#c9c9c9" stroke-width="2"/>
<text x="1227.2" y="1309.7" font-family='"Liberation Serif",serif' font-size="19.5" font-weight="bold" textLength="25.2" lengthAdjust="spacingAndGlyphs" fill="#000">1.0</text>
<line x1="1317.3" y1="1280.0" x2="1317.3" y2="1289.5" stroke="#c9c9c9" stroke-width="2"/>
<text x="1304.7" y="1309.7" font-family='"Liberation Serif",serif' font-size="19.5" font-weight="bold" textLength="25.2" lengthAdjust="spacingAndGlyphs" fill="#000">2.0</text>
<line x1="1394.8" y1="1280.0" x2="1394.8" y2="1289.5" stroke="#c9c9c9" stroke-width="2"/>
<text x="1382.2" y="1309.7" font-family='"Liberation Serif",serif' font-size="19.5" font-weight="bold" textLength="25.2" lengthAdjust="spacingAndGlyphs" fill="#000">3.0</text>
<line x1="1472.4" y1="1280.0" x2="1472.4" y2="1289.5" stroke="#c9c9c9" stroke-width="2"/>
<text x="1459.8" y="1309.7" font-family='"Liberation Serif",serif' font-size="19.5" font-weight="bold" textLength="25.2" lengthAdjust="spacingAndGlyphs" fill="#000">4.0</text>
<line x1="1550.0" y1="1280.0" x2="1550.0" y2="1289.5" stroke="#c9c9c9" stroke-width="2"/>
<text x="1537.4" y="1309.7" font-family='"Liberation Serif",serif' font-size="19.5" font-weight="bold" textLength="25.2" lengthAdjust="spacingAndGlyphs" fill="#000">5.0</text>
<line x1="1627.5" y1="1280.0" x2="1627.5" y2="1289.5" stroke="#c9c9c9" stroke-width="2"/>
<text x="1614.9" y="1309.7" font-family='"Liberation Serif",serif' font-size="19.5" font-weight="bold" textLength="25.2" lengthAdjust="spacingAndGlyphs" fill="#000">6.0</text>
<line x1="1705.1" y1="1280.0" x2="1705.1" y2="1289.5" stroke="#c9c9c9" stroke-width="2"/>
<text x="1686.5" y="1309.7" font-family='"Liberation Serif",serif' font-size="19.5" font-weight="bold" textLength="25.2" lengthAdjust="spacingAndGlyphs" fill="#000">7.0</text>
<text x="1126.2" y="1065.0" font-family='"Liberation Serif",serif' font-size="19.5" font-weight="bold" textLength="26.0" lengthAdjust="spacingAndGlyphs" fill="#000">2.5</text>
<text x="1126.2" y="1106.6" font-family='"Liberation Serif",serif' font-size="19.5" font-weight="bold" textLength="26.0" lengthAdjust="spacingAndGlyphs" fill="#000">2.0</text>
<text x="1126.2" y="1151.0" font-family='"Liberation Serif",serif' font-size="19.5" font-weight="bold" textLength="26.0" lengthAdjust="spacingAndGlyphs" fill="#000">1.5</text>
<text x="1126.2" y="1197.9" font-family='"Liberation Serif",serif' font-size="19.5" font-weight="bold" textLength="26.0" lengthAdjust="spacingAndGlyphs" fill="#000">1.0</text>
<text x="1126.2" y="1244.9" font-family='"Liberation Serif",serif' font-size="19.5" font-weight="bold" textLength="26.0" lengthAdjust="spacingAndGlyphs" fill="#000">0.5</text>
<text x="1126.2" y="1283.6" font-family='"Liberation Serif",serif' font-size="19.5" font-weight="bold" textLength="26.0" lengthAdjust="spacingAndGlyphs" fill="#000">0.0</text>
<text x="1118.7" y="1337.0" font-family='"Liberation Serif",serif' font-size="19.5" font-weight="bold" textLength="33.5" lengthAdjust="spacingAndGlyphs" fill="#000">-0.5</text>
<text x="1118.7" y="1380.6" font-family='"Liberation Serif",serif' font-size="19.5" font-weight="bold" textLength="33.5" lengthAdjust="spacingAndGlyphs" fill="#000">-1.0</text>
<text x="1118.7" y="1426.2" font-family='"Liberation Serif",serif' font-size="19.5" font-weight="bold" textLength="33.5" lengthAdjust="spacingAndGlyphs" fill="#000">-1.5</text>
<text x="1310.0" y="1353.0" font-family='"Liberation Serif",serif' font-size="19.5" font-weight="bold" textLength="261.0" lengthAdjust="spacingAndGlyphs" fill="#000">MRI Thigh Muscle Mass(kg)</text>
<text x="1108.0" y="1428.4" font-family='"Liberation Serif",serif' font-size="21" font-weight="bold" textLength="387.0" lengthAdjust="spacingAndGlyphs" transform="rotate(-90 1108.0 1428.4)" fill="#000">Delta Thigh Muscle Mass (DXA - Mri) (kg)</text>
<rect x="1431.6" y="1093.1" width="9" height="9" rx="1.8" fill="#fff" stroke="#777" stroke-width="2.3"/>
<rect x="1545.6" y="1114.4" width="9" height="9" rx="1.8" fill="#fff" stroke="#777" stroke-width="2.3"/>
<rect x="1396.3" y="1131.4" width="9" height="9" rx="1.8" fill="#fff" stroke="#777" stroke-width="2.3"/>
<rect x="1390.1" y="1139.0" width="9" height="9" rx="1.8" fill="#fff" stroke="#777" stroke-width="2.3"/>
<rect x="1460.4" y="1131.4" width="9" height="9" rx="1.8" fill="#fff" stroke="#777" stroke-width="2.3"/>
<rect x="1390.9" y="1156.8" width="9" height="9" rx="1.8" fill="#fff" stroke="#777" stroke-width="2.3"/>
<rect x="1411.6" y="1160.0" width="9" height="9" rx="1.8" fill="#fff" stroke="#777" stroke-width="2.3"/>
<rect x="1440.2" y="1168.4" width="9" height="9" rx="1.8" fill="#fff" stroke="#777" stroke-width="2.3"/>
<rect x="1428.4" y="1171.6" width="9" height="9" rx="1.8" fill="#fff" stroke="#777" stroke-width="2.3"/>
<rect x="1472.8" y="1169.9" width="9" height="9" rx="1.8" fill="#fff" stroke="#777" stroke-width="2.3"/>
<rect x="1461.7" y="1174.1" width="9" height="9" rx="1.8" fill="#fff" stroke="#777" stroke-width="2.3"/>
<rect x="1425.9" y="1183.9" width="9" height="9" rx="1.8" fill="#fff" stroke="#777" stroke-width="2.3"/>
<rect x="1448.6" y="1194.6" width="9" height="9" rx="1.8" fill="#fff" stroke="#777" stroke-width="2.3"/>
<rect x="1464.9" y="1195.0" width="9" height="9" rx="1.8" fill="#fff" stroke="#777" stroke-width="2.3"/>
<rect x="1428.4" y="1204.9" width="9" height="9" rx="1.8" fill="#fff" stroke="#777" stroke-width="2.3"/>
<rect x="1442.7" y="1211.6" width="9" height="9" rx="1.8" fill="#fff" stroke="#777" stroke-width="2.3"/>
<rect x="1446.4" y="1231.3" width="9" height="9" rx="1.8" fill="#fff" stroke="#777" stroke-width="2.3"/>
<rect x="1417.3" y="1239.5" width="9" height="9" rx="1.8" fill="#fff" stroke="#777" stroke-width="2.3"/>
<rect x="1372.8" y="1233.3" width="9" height="9" rx="1.8" fill="#fff" stroke="#777" stroke-width="2.3"/>
<rect x="1372.1" y="1249.3" width="9" height="9" rx="1.8" fill="#fff" stroke="#777" stroke-width="2.3"/>
<path d="M1344.0,1132.4 L1349.0,1141.4 L1339.0,1141.4 Z" fill="#fff" stroke="#7a7a7a" stroke-width="2" stroke-linejoin="round"/>
<path d="M1311.9,1146.9 L1316.9,1155.9 L1306.9,1155.9 Z" fill="#fff" stroke="#7a7a7a" stroke-width="2" stroke-linejoin="round"/>
<path d="M1330.5,1152.6 L1335.5,1161.6 L1325.5,1161.6 Z" fill="#fff" stroke="#7a7a7a" stroke-width="2" stroke-linejoin="round"/>
<path d="M1371.9,1177.8 L1376.9,1186.8 L1366.9,1186.8 Z" fill="#fff" stroke="#7a7a7a" stroke-width="2" stroke-linejoin="round"/>
<path d="M1406.5,1177.3 L1411.5,1186.3 L1401.5,1186.3 Z" fill="#fff" stroke="#7a7a7a" stroke-width="2" stroke-linejoin="round"/>
<path d="M1338.4,1182.2 L1343.4,1191.2 L1333.4,1191.2 Z" fill="#fff" stroke="#7a7a7a" stroke-width="2" stroke-linejoin="round"/>
<path d="M1295.9,1192.8 L1300.9,1201.8 L1290.9,1201.8 Z" fill="#fff" stroke="#7a7a7a" stroke-width="2" stroke-linejoin="round"/>
<path d="M1300.8,1206.1 L1305.8,1215.1 L1295.8,1215.1 Z" fill="#fff" stroke="#7a7a7a" stroke-width="2" stroke-linejoin="round"/>
<path d="M1321.8,1205.7 L1326.8,1214.7 L1316.8,1214.7 Z" fill="#fff" stroke="#7a7a7a" stroke-width="2" stroke-linejoin="round"/>
<path d="M1302.8,1214.3 L1307.8,1223.3 L1297.8,1223.3 Z" fill="#fff" stroke="#7a7a7a" stroke-width="2" stroke-linejoin="round"/>
<path d="M1318.1,1213.8 L1323.1,1222.8 L1313.1,1222.8 Z" fill="#fff" stroke="#7a7a7a" stroke-width="2" stroke-linejoin="round"/>
<path d="M1328.0,1213.8 L1333.0,1222.8 L1323.0,1222.8 Z" fill="#fff" stroke="#7a7a7a" stroke-width="2" stroke-linejoin="round"/>
<path d="M1335.4,1187.1 L1340.4,1196.1 L1330.4,1196.1 Z" fill="#fff" stroke="#7a7a7a" stroke-width="2" stroke-linejoin="round"/>
<path d="M1344.0,1190.8 L1349.0,1199.8 L1339.0,1199.8 Z" fill="#fff" stroke="#7a7a7a" stroke-width="2" stroke-linejoin="round"/>
<path d="M1352.7,1188.4 L1357.7,1197.4 L1347.7,1197.4 Z" fill="#fff" stroke="#7a7a7a" stroke-width="2" stroke-linejoin="round"/>
<path d="M1363.8,1183.4 L1368.8,1192.4 L1358.8,1192.4 Z" fill="#fff" stroke="#7a7a7a" stroke-width="2" stroke-linejoin="round"/>
<path d="M1339.1,1198.3 L1344.1,1207.3 L1334.1,1207.3 Z" fill="#fff" stroke="#7a7a7a" stroke-width="2" stroke-linejoin="round"/>
<path d="M1349.0,1199.5 L1354.0,1208.5 L1344.0,1208.5 Z" fill="#fff" stroke="#7a7a7a" stroke-width="2" stroke-linejoin="round"/>
<path d="M1336.6,1219.2 L1341.6,1228.2 L1331.6,1228.2 Z" fill="#fff" stroke="#7a7a7a" stroke-width="2" stroke-linejoin="round"/>
<path d="M1345.3,1215.5 L1350.3,1224.5 L1340.3,1224.5 Z" fill="#fff" stroke="#7a7a7a" stroke-width="2" stroke-linejoin="round"/>
<path d="M1352.7,1224.2 L1357.7,1233.2 L1347.7,1233.2 Z" fill="#fff" stroke="#7a7a7a" stroke-width="2" stroke-linejoin="round"/>
<path d="M1368.7,1213.1 L1373.7,1222.1 L1363.7,1222.1 Z" fill="#fff" stroke="#7a7a7a" stroke-width="2" stroke-linejoin="round"/>
<path d="M1376.1,1220.5 L1381.1,1229.5 L1371.1,1229.5 Z" fill="#fff" stroke="#7a7a7a" stroke-width="2" stroke-linejoin="round"/>
<path d="M1382.3,1219.2 L1387.3,1228.2 L1377.3,1228.2 Z" fill="#fff" stroke="#7a7a7a" stroke-width="2" stroke-linejoin="round"/>
<path d="M1377.3,1240.2 L1382.3,1249.2 L1372.3,1249.2 Z" fill="#fff" stroke="#7a7a7a" stroke-width="2" stroke-linejoin="round"/>
<path d="M1361.3,1246.4 L1366.3,1255.4 L1356.3,1255.4 Z" fill="#fff" stroke="#7a7a7a" stroke-width="2" stroke-linejoin="round"/>
<path d="M1392.9,1256.2 L1397.9,1265.2 L1387.9,1265.2 Z" fill="#fff" stroke="#7a7a7a" stroke-width="2" stroke-linejoin="round"/>
<path d="M1356.4,1295.0 L1361.4,1304.0 L1351.4,1304.0 Z" fill="#fff" stroke="#7a7a7a" stroke-width="2" stroke-linejoin="round"/>
<rect x="1471.7" y="1123.2" width="9.6" height="9.6" fill="#0c0c0c"/>
<rect x="1493.5" y="1128.9" width="9.6" height="9.6" fill="#0c0c0c"/>
<rect x="1422.4" y="1135.0" width="9.6" height="9.6" fill="#0c0c0c"/>
<rect x="1439.2" y="1137.5" width="9.6" height="9.6" fill="#0c0c0c"/>
<rect x="1518.6" y="1149.1" width="9.6" height="9.6" fill="#0c0c0c"/>
<rect x="1518.1" y="1152.1" width="9.6" height="9.6" fill="#0c0c0c"/>
<rect x="1595.9" y="1159.7" width="9.6" height="9.6" fill="#0c0c0c"/>
<rect x="1518.1" y="1173.0" width="9.6" height="9.6" fill="#0c0c0c"/>
<rect x="1479.9" y="1175.5" width="9.6" height="9.6" fill="#0c0c0c"/>
<rect x="1565.0" y="1181.2" width="9.6" height="9.6" fill="#0c0c0c"/>
<rect x="1601.5" y="1187.8" width="9.6" height="9.6" fill="#0c0c0c"/>
<rect x="1497.2" y="1203.4" width="9.6" height="9.6" fill="#0c0c0c"/>
<rect x="1538.6" y="1199.7" width="9.6" height="9.6" fill="#0c0c0c"/>
<rect x="1630.9" y="1206.6" width="9.6" height="9.6" fill="#0c0c0c"/>
<rect x="1529.2" y="1234.2" width="9.6" height="9.6" fill="#0c0c0c"/>
<rect x="1592.9" y="1260.1" width="9.6" height="9.6" fill="#0c0c0c"/>
<rect x="1414.5" y="1215.0" width="9.6" height="9.6" fill="#0c0c0c"/>
<ellipse cx="1564.9" cy="1208.9" rx="6" ry="5.6" fill="#0c0c0c"/>
<path d="M1360.8,1191.2 L1366.4,1201.0 L1355.2,1201.0 Z" fill="#0c0c0c"/>
<path d="M1397.1,1192.9 L1402.7,1202.7 L1391.5,1202.7 Z" fill="#0c0c0c"/>
<path d="M1437.3,1190.4 L1442.9,1200.2 L1431.7,1200.2 Z" fill="#0c0c0c"/>
<path d="M1370.7,1202.3 L1376.3,1212.1 L1365.1,1212.1 Z" fill="#0c0c0c"/>
<path d="M1384.7,1201.6 L1390.3,1211.4 L1379.1,1211.4 Z" fill="#0c0c0c"/>
<path d="M1379.8,1211.4 L1385.4,1221.2 L1374.2,1221.2 Z" fill="#0c0c0c"/>
<path d="M1468.6,1205.3 L1474.2,1215.1 L1463.0,1215.1 Z" fill="#0c0c0c"/>
<path d="M1411.9,1213.4 L1417.5,1223.2 L1406.3,1223.2 Z" fill="#0c0c0c"/>
<path d="M1341.6,1225.0 L1347.2,1234.8 L1336.0,1234.8 Z" fill="#0c0c0c"/>
<path d="M1366.2,1222.5 L1371.8,1232.3 L1360.6,1232.3 Z" fill="#0c0c0c"/>
<path d="M1387.2,1222.5 L1392.8,1232.3 L1381.6,1232.3 Z" fill="#0c0c0c"/>
<path d="M1390.2,1237.3 L1395.8,1247.1 L1384.6,1247.1 Z" fill="#0c0c0c"/>
<path d="M1397.6,1237.3 L1403.2,1247.1 L1392.0,1247.1 Z" fill="#0c0c0c"/>
<path d="M1442.7,1246.7 L1448.3,1256.5 L1437.1,1256.5 Z" fill="#0c0c0c"/>
<path d="M1414.4,1255.3 L1420.0,1265.1 L1408.8,1265.1 Z" fill="#0c0c0c"/>
<path d="M1359.3,1276.8 L1364.9,1286.6 L1353.7,1286.6 Z" fill="#0c0c0c"/>
<path d="M1432.1,1289.6 L1437.7,1299.4 L1426.5,1299.4 Z" fill="#0c0c0c"/>
<text x="30.8" y="1483.2" font-family='"Liberation Serif",serif' font-size="40" fill="#000">F</text>
<path d="M85.7,1471.5 L345.2,1471 L346.3,1501.6 L633.6,1502.2" stroke="#858585" stroke-width="3" fill="none" stroke-linejoin="round"/>
<line x1="361.0" y1="1478.0" x2="361.0" y2="1496.0" stroke="#333" stroke-width="2.8"/>
<path d="M361,1473 L356,1482 L366,1482 Z M361,1500.5 L356,1491.5 L366,1491.5 Z" fill="#222"/>
<text x="378.0" y="1489.0" font-family='"Liberation Serif",serif' font-size="22" font-weight="bold" textLength="151.0" lengthAdjust="spacingAndGlyphs" fill="#000">Length change</text>
<text x="667.5" y="1506.3" font-family='"Liberation Serif",serif' font-size="28.5" font-weight="bold" textLength="227.0" lengthAdjust="spacingAndGlyphs" fill="#000">LENGTH SIGNAL</text>
<text x="667.5" y="1600.2" font-family='"Liberation Serif",serif' font-size="28.5" font-weight="bold" textLength="227.0" lengthAdjust="spacingAndGlyphs" fill="#000">FORCE SIGNAL</text>
<text x="320.8" y="1554.7" font-family='"Liberation Serif",serif' font-size="29" font-weight="bold" textLength="31.0" lengthAdjust="spacingAndGlyphs" fill="#000">P2</text>
<text x="391.0" y="1553.5" font-family='"Liberation Serif",serif' font-size="29" font-weight="bold" textLength="32.0" lengthAdjust="spacingAndGlyphs" fill="#000">P3</text>
<text x="274.5" y="1639.6" font-family='"Liberation Serif",serif' font-size="29" font-weight="bold" textLength="32.5" lengthAdjust="spacingAndGlyphs" fill="#000">P1</text>
<line x1="336.2" y1="1563.4" x2="336.2" y2="1577.0" stroke="#555" stroke-width="3.4"/>
<path d="M336.2,1584.5 L330.5,1573 L342,1573 Z" fill="#2b2b2b"/>
<line x1="405.0" y1="1563.4" x2="405.0" y2="1587.0" stroke="#555" stroke-width="3.4"/>
<path d="M405,1595 L399.3,1583.5 L410.7,1583.5 Z" fill="#2b2b2b"/>
<line x1="313.0" y1="1626.0" x2="326.0" y2="1626.0" stroke="#555" stroke-width="3.4"/>
<path d="M335.5,1626 L324,1620.5 L324,1631.5 Z" fill="#2b2b2b"/>
<path d="M117.8,1733.0 C129.8,1733.0 176.3,1733.2 190.0,1733.0 C203.7,1732.8 197.0,1732.7 200.0,1731.5 C203.0,1730.3 205.3,1728.3 208.0,1726.0 C210.7,1723.7 212.7,1722.1 216.0,1717.6 C219.3,1713.1 223.9,1706.2 228.0,1699.0 C232.1,1691.8 236.6,1683.7 240.6,1674.4 C244.6,1665.1 248.4,1652.8 252.0,1643.0 C255.6,1633.2 259.5,1621.8 262.2,1615.8 C264.9,1609.8 265.4,1609.3 268.0,1607.0 C270.6,1604.7 273.6,1603.5 277.6,1602.0 C281.6,1600.5 286.9,1599.0 292.0,1598.0 C297.1,1597.0 302.2,1596.4 308.5,1595.8 C314.8,1595.2 323.7,1594.9 330.0,1594.6 C336.3,1594.3 343.8,1594.3 346.5,1594.2" stroke="#858585" stroke-width="3" fill="none"/>
<path d="M346.5,1594.2 L347.6,1621 L348.5,1625 C350,1616 352,1613 354.7,1611.5 C360,1608.5 365,1607 370,1606.4 C380,1605 390,1604.2 401,1604 C430,1604 460,1606.5 495,1607.5 C540,1605.5 590,1604.8 630.5,1604.6" stroke="#858585" stroke-width="3" fill="none" stroke-linejoin="round"/>
<line x1="151.2" y1="1733.0" x2="151.2" y2="1840.0" stroke="#6a6a6a" stroke-width="3"/>
<line x1="178.2" y1="1733.0" x2="178.2" y2="1789.0" stroke="#6a6a6a" stroke-width="3"/>
<line x1="348.2" y1="1636.0" x2="348.2" y2="1758.0" stroke="#aeb6b6" stroke-width="4.4" stroke-dasharray="3.4 2.8"/>
<line x1="404.7" y1="1616.0" x2="404.7" y2="1756.0" stroke="#aeb6b6" stroke-width="4.4" stroke-dasharray="3.4 2.8"/>
<line x1="495.2" y1="1616.0" x2="495.2" y2="1756.0" stroke="#aeb6b6" stroke-width="4.4" stroke-dasharray="3.4 2.8"/>
<line x1="620.0" y1="1616.0" x2="620.0" y2="1756.0" stroke="#aeb6b6" stroke-width="4.4" stroke-dasharray="3.4 2.8"/>
<text x="385.6" y="1752.0" font-family='"Liberation Serif",serif' font-size="30" font-weight="bold" textLength="116.0" lengthAdjust="spacingAndGlyphs" transform="rotate(-90 385.6 1752.0)" fill="#000">Plateau 2</text>
<text x="460.2" y="1752.0" font-family='"Liberation Serif",serif' font-size="30" font-weight="bold" textLength="116.0" lengthAdjust="spacingAndGlyphs" transform="rotate(-90 460.2 1752.0)" fill="#000">Plateau 3</text>
<text x="567.0" y="1752.0" font-family='"Liberation Serif",serif' font-size="30" font-weight="bold" textLength="116.0" lengthAdjust="spacingAndGlyphs" transform="rotate(-90 567.0 1752.0)" fill="#000">Plateau 4</text>
<text x="356.5" y="1885.0" font-family='"Liberation Serif",serif' font-size="30" font-weight="bold" textLength="119.0" lengthAdjust="spacingAndGlyphs" transform="rotate(-90 356.5 1885.0)" fill="#000">Plateau 1</text>
<path d="M0,-6 L54,-6 L54,-17 L78,0 L54,17 L54,6 L0,6 Z" fill="#0a0a0a" transform="translate(495.3,1794.4) rotate(52.2)"/>
<path d="M163.9,2048.2 C167.4,2041.5 177.2,2021.9 185.0,2008.0 C192.8,1994.1 202.5,1976.6 211.0,1964.9 C219.5,1953.2 226.7,1945.9 236.0,1938.0 C245.3,1930.1 255.9,1923.7 266.6,1917.7 C277.3,1911.7 288.0,1906.6 300.0,1902.0 C312.0,1897.4 322.1,1893.2 338.8,1889.9 C355.5,1886.7 379.8,1884.6 400.0,1882.5 C420.2,1880.4 442.9,1878.8 460.0,1877.5 C477.1,1876.2 495.5,1874.9 502.6,1874.4 L633,1874.4 L634.5,1960 L635.8,1989.9" stroke="#8b8b8b" stroke-width="3" fill="none" stroke-linejoin="round"/>
<path d="M635.8,1989.9 C637.0,1986.6 639.8,1976.7 643.0,1970.0 C646.2,1963.3 649.4,1956.1 655.2,1949.9 C661.0,1943.7 668.7,1937.9 678.0,1933.0 C687.3,1928.1 697.1,1923.9 710.8,1920.5 C724.5,1917.1 741.5,1914.5 760.0,1912.5 C778.5,1910.5 800.1,1909.4 821.8,1908.2 C843.5,1907.0 866.9,1906.0 890.0,1905.5 C913.1,1905.0 948.8,1905.0 960.6,1904.9" stroke="#808080" stroke-width="3" fill="none"/>
<path d="M636,1988 C642,1968 648,1958 657,1949" stroke="#444" stroke-width="2.4" fill="none"/>
<line x1="668.0" y1="1948.2" x2="812.4" y2="1948.2" stroke="#8a8a8a" stroke-width="2.2" stroke-dasharray="7 4"/>
<line x1="655.2" y1="1954.0" x2="655.2" y2="1987.0" stroke="#9a9a9a" stroke-width="2.6" stroke-dasharray="3 3"/>
<path d="M654.5,1949.8 L666,1941.5 L666.5,1953 Z" fill="#111"/>
<path d="M927.3,1907.5 L922.3,1917.5 L932.3,1917.5 Z" fill="#222"/>
<line x1="927.3" y1="1918.0" x2="927.3" y2="1943.0" stroke="#9a9a9a" stroke-width="2.6" stroke-dasharray="3.5 3"/>
<text x="1024.5" y="1497.6" font-family='"Liberation Serif",serif' font-size="40" fill="#000">H</text>
<line x1="1133.6" y1="1468.0" x2="1133.6" y2="1896.4" stroke="#2e2e2e" stroke-width="4.8"/>
<line x1="1128.0" y1="1894.0" x2="1675.8" y2="1894.0" stroke="#2e2e2e" stroke-width="4.8"/>
<line x1="1127.0" y1="1894.0" x2="1134.0" y2="1894.0" stroke="#2e2e2e" stroke-width="3"/>
<text x="1122.0" y="1903.8" font-family='"Liberation Serif",serif' font-size="24" font-weight="bold" text-anchor="end" fill="#000">0</text>
<line x1="1127.0" y1="1851.5" x2="1134.0" y2="1851.5" stroke="#2e2e2e" stroke-width="3"/>
<text x="1122.0" y="1861.3" font-family='"Liberation Serif",serif' font-size="24" font-weight="bold" text-anchor="end" fill="#000">0.1</text>
<line x1="1127.0" y1="1809.1" x2="1134.0" y2="1809.1" stroke="#2e2e2e" stroke-width="3"/>
<text x="1122.0" y="1818.9" font-family='"Liberation Serif",serif' font-size="24" font-weight="bold" text-anchor="end" fill="#000">0.2</text>
<line x1="1127.0" y1="1766.6" x2="1134.0" y2="1766.6" stroke="#2e2e2e" stroke-width="3"/>
<text x="1122.0" y="1776.4" font-family='"Liberation Serif",serif' font-size="24" font-weight="bold" text-anchor="end" fill="#000">0.3</text>
<line x1="1127.0" y1="1724.1" x2="1134.0" y2="1724.1" stroke="#2e2e2e" stroke-width="3"/>
<text x="1122.0" y="1733.9" font-family='"Liberation Serif",serif' font-size="24" font-weight="bold" text-anchor="end" fill="#000">0.4</text>
<line x1="1127.0" y1="1681.7" x2="1134.0" y2="1681.7" stroke="#2e2e2e" stroke-width="3"/>
<text x="1122.0" y="1691.5" font-family='"Liberation Serif",serif' font-size="24" font-weight="bold" text-anchor="end" fill="#000">0.5</text>
<line x1="1127.0" y1="1639.2" x2="1134.0" y2="1639.2" stroke="#2e2e2e" stroke-width="3"/>
<text x="1122.0" y="1649.0" font-family='"Liberation Serif",serif' font-size="24" font-weight="bold" text-anchor="end" fill="#000">0.6</text>
<line x1="1127.0" y1="1596.7" x2="1134.0" y2="1596.7" stroke="#2e2e2e" stroke-width="3"/>
<text x="1122.0" y="1606.5" font-family='"Liberation Serif",serif' font-size="24" font-weight="bold" text-anchor="end" fill="#000">0.7</text>
<line x1="1127.0" y1="1554.2" x2="1134.0" y2="1554.2" stroke="#2e2e2e" stroke-width="3"/>
<text x="1122.0" y="1564.0" font-family='"Liberation Serif",serif' font-size="24" font-weight="bold" text-anchor="end" fill="#000">0.8</text>
<line x1="1127.0" y1="1511.8" x2="1134.0" y2="1511.8" stroke="#2e2e2e" stroke-width="3"/>
<text x="1122.0" y="1521.6" font-family='"Liberation Serif",serif' font-size="24" font-weight="bold" text-anchor="end" fill="#000">0.9</text>
<line x1="1127.0" y1="1469.3" x2="1134.0" y2="1469.3" stroke="#2e2e2e" stroke-width="3"/>
<text x="1122.0" y="1479.1" font-family='"Liberation Serif",serif' font-size="24" font-weight="bold" text-anchor="end" fill="#000">1</text>
<line x1="1242.0" y1="1894.0" x2="1242.0" y2="1901.0" stroke="#2e2e2e" stroke-width="3.4"/>
<line x1="1350.5" y1="1894.0" x2="1350.5" y2="1901.0" stroke="#2e2e2e" stroke-width="3.4"/>
<line x1="1458.9" y1="1894.0" x2="1458.9" y2="1901.0" stroke="#2e2e2e" stroke-width="3.4"/>
<line x1="1567.4" y1="1894.0" x2="1567.4" y2="1901.0" stroke="#2e2e2e" stroke-width="3.4"/>
<line x1="1675.8" y1="1894.0" x2="1675.8" y2="1901.0" stroke="#2e2e2e" stroke-width="3.4"/>
<text x="1147.7" y="1940.2" font-family='"Liberation Serif",serif' font-size="21.5" font-weight="bold" text-anchor="middle" fill="#000">0</text>
<text x="1238.3" y="1940.2" font-family='"Liberation Serif",serif' font-size="21.5" font-weight="bold" text-anchor="middle" fill="#000">10</text>
<text x="1354.9" y="1940.2" font-family='"Liberation Serif",serif' font-size="21.5" font-weight="bold" text-anchor="middle" fill="#000">20</text>
<text x="1461.5" y="1940.2" font-family='"Liberation Serif",serif' font-size="21.5" font-weight="bold" text-anchor="middle" fill="#000">30</text>
<text x="1561.6" y="1935.5" font-family='"Liberation Serif",serif' font-size="21.5" font-weight="bold" text-anchor="middle" fill="#000">40</text>
<text x="1677.2" y="1935.5" font-family='"Liberation Serif",serif' font-size="21.5" font-weight="bold" text-anchor="middle" fill="#000">50</text>
<text x="1290.2" y="1996.9" font-family='"Liberation Serif",serif' font-size="31" font-weight="bold" textLength="164.0" lengthAdjust="spacingAndGlyphs" fill="#000">Force (%Pa)</text>
<text x="1069.5" y="1810.5" font-family='"Liberation Serif",serif' font-size="29.5" font-weight="bold" textLength="224.0" lengthAdjust="spacingAndGlyphs" transform="rotate(-90 1069.5 1810.5)" fill="#000">Velocity (%λ/sec)</text>
<circle cx="1174.6" cy="1638.2" r="5" fill="#fff" stroke="#aaaaaa" stroke-width="2.3"/>
<circle cx="1210.9" cy="1750.1" r="5" fill="#fff" stroke="#aaaaaa" stroke-width="2.3"/>
<circle cx="1231.2" cy="1777.4" r="5" fill="#fff" stroke="#aaaaaa" stroke-width="2.3"/>
<circle cx="1252.5" cy="1805.7" r="5" fill="#fff" stroke="#aaaaaa" stroke-width="2.3"/>
<circle cx="1319.5" cy="1822.3" r="5" fill="#fff" stroke="#aaaaaa" stroke-width="2.3"/>
<circle cx="1362.0" cy="1842.5" r="5" fill="#fff" stroke="#aaaaaa" stroke-width="2.3"/>
<circle cx="1404.4" cy="1859.1" r="5" fill="#fff" stroke="#aaaaaa" stroke-width="2.3"/>
<circle cx="1445.0" cy="1853.9" r="5" fill="#fff" stroke="#aaaaaa" stroke-width="2.3"/>
<circle cx="1531.9" cy="1863.3" r="5" fill="#fff" stroke="#aaaaaa" stroke-width="2.3"/>
<circle cx="1574.3" cy="1871.8" r="5" fill="#fff" stroke="#aaaaaa" stroke-width="2.3"/>
<circle cx="1620.6" cy="1874.2" r="5" fill="#fff" stroke="#aaaaaa" stroke-width="2.3"/>
<path d="M1134.4,1558.8 C1136.2,1563.4 1141.7,1577.7 1145.0,1586.6 C1148.3,1595.5 1151.3,1603.4 1154.5,1612.1 C1157.7,1620.8 1161.2,1630.8 1164.0,1638.8 C1166.8,1646.8 1168.5,1652.8 1171.0,1660.0 C1173.5,1667.2 1176.2,1675.1 1179.0,1682.0 C1181.8,1688.9 1182.9,1692.2 1187.5,1701.5 C1192.1,1710.8 1200.1,1727.2 1206.6,1737.7 C1213.1,1748.2 1219.9,1756.2 1226.6,1764.4 C1233.3,1772.6 1239.2,1779.6 1246.6,1786.6 C1254.0,1793.6 1262.5,1800.5 1271.0,1806.6 C1279.5,1812.7 1288.5,1818.4 1297.7,1823.2 C1307.0,1828.0 1316.2,1831.6 1326.5,1835.4 C1336.8,1839.2 1348.0,1842.9 1359.8,1846.1 C1371.6,1849.2 1383.9,1852.0 1397.6,1854.3 C1411.3,1856.6 1428.3,1858.3 1442.0,1859.9 C1455.7,1861.5 1467.0,1862.8 1480.0,1863.9 C1493.0,1865.1 1505.6,1865.9 1520.0,1866.8 C1534.4,1867.7 1549.1,1868.6 1566.3,1869.4 C1583.5,1870.2 1613.5,1871.4 1623.0,1871.8" stroke="#333" stroke-width="3.4" fill="none"/>
<circle cx="1192.5" cy="1701.0" r="5.4" fill="#0a0a0a"/>
<circle cx="1298.7" cy="1807.2" r="5.4" fill="#0a0a0a"/>
<circle cx="1489.9" cy="1860.0" r="5.4" fill="#0a0a0a"/>
<line x1="1429.4" y1="1501.3" x2="1429.4" y2="1607.5" stroke="#9a9a9a" stroke-width="3"/>
<line x1="1429.4" y1="1652.4" x2="1429.4" y2="1753.8" stroke="#9a9a9a" stroke-width="3"/>
<text x="1415.3" y="1507.2" font-family='"Liberation Serif",serif' font-size="20.5" font-weight="bold" text-anchor="end" fill="#000">80</text>
<text x="1415.3" y="1535.6" font-family='"Liberation Serif",serif' font-size="20.5" font-weight="bold" text-anchor="end" fill="#000">60</text>
<text x="1415.3" y="1563.0" font-family='"Liberation Serif",serif' font-size="20.5" font-weight="bold" text-anchor="end" fill="#000">40</text>
<text x="1415.3" y="1588.4" font-family='"Liberation Serif",serif' font-size="20.5" font-weight="bold" text-anchor="end" fill="#000">20</text>
<text x="1415.3" y="1614.9" font-family='"Liberation Serif",serif' font-size="20.5" font-weight="bold" text-anchor="end" fill="#000">0</text>
<text x="1415.3" y="1663.0" font-family='"Liberation Serif",serif' font-size="20.5" font-weight="bold" text-anchor="end" fill="#000">150</text>
<text x="1415.3" y="1693.7" font-family='"Liberation Serif",serif' font-size="20.5" font-weight="bold" text-anchor="end" fill="#000">100</text>
<text x="1415.3" y="1728.2" font-family='"Liberation Serif",serif' font-size="20.5" font-weight="bold" text-anchor="end" fill="#000">50</text>
<text x="1415.3" y="1761.2" font-family='"Liberation Serif",serif' font-size="20.5" font-weight="bold" text-anchor="end" fill="#000">0</text>
<text x="1371.5" y="1598.0" font-family='"Liberation Serif",serif' font-size="22" font-weight="bold" textLength="118.0" lengthAdjust="spacingAndGlyphs" transform="rotate(-90 1371.5 1598.0)" fill="#000">Force (mN)</text>
<text x="1371.5" y="1772.7" font-family='"Liberation Serif",serif' font-size="22" font-weight="bold" textLength="134.5" lengthAdjust="spacingAndGlyphs" transform="rotate(-90 1371.5 1772.7)" fill="#000">Position (μm)</text>
<path d="M1431.5,1503 L1431.5,1607" stroke="#555" stroke-width="3.2" fill="none"/>
<path d="M1431,1556 L1436,1560.5 L1431,1566 Z" stroke="#111" stroke-width="2" fill="#111"/>
<path d="M1434,1562.2 L1488.4,1562.7 L1489,1584 L1492,1585.3 L1549.8,1585.3 C1553,1586 1553,1595 1559.2,1596.2 L1575,1598.2 L1632.4,1598.2" stroke="#3a3a3a" stroke-width="2.8" fill="none" stroke-linejoin="round"/>
<path d="M1431.8,1742.0 C1434.3,1741.6 1446.7,1739.1 1453.0,1738.3 C1459.4,1737.4 1481.4,1736.4 1486.1,1735.0 C1490.8,1733.5 1491.0,1727.1 1493.2,1725.5 C1495.4,1724.0 1501.9,1722.6 1505.0,1721.7 C1508.0,1720.9 1513.9,1719.5 1519.1,1718.4 C1524.3,1717.4 1545.4,1714.1 1549.8,1712.8 C1554.2,1711.4 1555.5,1708.3 1556.9,1706.6 C1558.2,1705.0 1558.8,1700.5 1561.6,1698.6 C1564.3,1696.7 1575.0,1692.4 1580.5,1690.1 C1586.0,1687.9 1601.9,1681.9 1608.8,1679.3 C1615.7,1676.6 1635.9,1668.8 1639.5,1667.5" stroke="#555" stroke-width="3" fill="none"/>
<line x1="1431.5" y1="1741.0" x2="1431.5" y2="1753.0" stroke="#666" stroke-width="3"/>
<text x="9.5" y="2095.0" font-family='"Liberation Serif",serif' font-size="40" fill="#000">I</text>
<line x1="82.7" y1="2122.7" x2="82.7" y2="2424.0" stroke="#8a8a8a" stroke-width="2.8"/>
<line x1="77.0" y1="2419.5" x2="622.8" y2="2419.5" stroke="#8a8a8a" stroke-width="2.8"/>
<line x1="82.7" y1="2419.5" x2="82.7" y2="2424.5" stroke="#8a8a8a" stroke-width="2.2"/>
<line x1="262.6" y1="2419.5" x2="262.6" y2="2424.5" stroke="#8a8a8a" stroke-width="2.2"/>
<line x1="442.6" y1="2419.5" x2="442.6" y2="2424.5" stroke="#8a8a8a" stroke-width="2.2"/>
<line x1="622.1" y1="2419.5" x2="622.1" y2="2424.5" stroke="#8a8a8a" stroke-width="2.2"/>
<line x1="77.0" y1="2122.7" x2="82.7" y2="2122.7" stroke="#8a8a8a" stroke-width="2.2"/>
<line x1="77.0" y1="2196.8" x2="82.7" y2="2196.8" stroke="#8a8a8a" stroke-width="2.2"/>
<line x1="77.0" y1="2270.9" x2="82.7" y2="2270.9" stroke="#8a8a8a" stroke-width="2.2"/>
<line x1="77.0" y1="2344.6" x2="82.7" y2="2344.6" stroke="#8a8a8a" stroke-width="2.2"/>
<line x1="77.0" y1="2419.5" x2="82.7" y2="2419.5" stroke="#8a8a8a" stroke-width="2.2"/>
<text x="73.3" y="2133.6" font-family='"Liberation Serif",serif' font-size="23" font-weight="bold" text-anchor="end" fill="#000">400</text>
<text x="73.3" y="2204.0" font-family='"Liberation Serif",serif' font-size="23" font-weight="bold" text-anchor="end" fill="#000">300</text>
<text x="73.3" y="2279.4" font-family='"Liberation Serif",serif' font-size="23" font-weight="bold" text-anchor="end" fill="#000">200</text>
<text x="73.3" y="2351.5" font-family='"Liberation Serif",serif' font-size="23" font-weight="bold" text-anchor="end" fill="#000">100</text>
<text x="73.3" y="2424.8" font-family='"Liberation Serif",serif' font-size="23" font-weight="bold" text-anchor="end" fill="#000">0</text>
<text x="100.6" y="2448.4" font-family='"Liberation Serif",serif' font-size="23" font-weight="bold" text-anchor="middle" fill="#000">0</text>
<text x="262.6" y="2448.4" font-family='"Liberation Serif",serif' font-size="23" font-weight="bold" text-anchor="middle" fill="#000">50</text>
<text x="444.6" y="2448.4" font-family='"Liberation Serif",serif' font-size="23" font-weight="bold" text-anchor="middle" fill="#000">100</text>
<text x="614.0" y="2448.4" font-family='"Liberation Serif",serif' font-size="23" font-weight="bold" text-anchor="middle" fill="#000">150</text>
<text x="175.9" y="2481.8" font-family='"Liberation Serif",serif' font-size="27" font-weight="bold" textLength="335.0" lengthAdjust="spacingAndGlyphs" fill="#000">Tension Redevelopment (ms)</text>
<text x="22.4" y="2373.0" font-family='"Liberation Serif",serif' font-size="27" font-weight="bold" textLength="203.0" lengthAdjust="spacingAndGlyphs" transform="rotate(-90 22.4 2373.0)" fill="#000">Length Step (μm)</text>
<line x1="82.7" y1="2399.5" x2="523.2" y2="2200.8" stroke="#3c3c3c" stroke-width="2.6"/>
<circle cx="285.8" cy="2307.9" r="4.4" fill="#0a0a0a"/>
<circle cx="374.6" cy="2270.9" r="4.4" fill="#0a0a0a"/>
<circle cx="460.9" cy="2234.2" r="4.4" fill="#0a0a0a"/>
<circle cx="523.6" cy="2196.8" r="4.4" fill="#0a0a0a"/>
<text x="639.5" y="2088.6" font-family='"Liberation Serif",serif' font-size="40" fill="#000">J</text>
<text x="691.5" y="2105.0" font-family='"Liberation Serif",serif' font-size="33" textLength="39.5" lengthAdjust="spacingAndGlyphs" fill="#000">(a)</text>
<text x="1265.3" y="2106.0" font-family='"Liberation Serif",serif' font-size="33" textLength="43.0" lengthAdjust="spacingAndGlyphs" fill="#000">(b)</text>
<defs>
<filter id="jb1" x="-20%" y="-50%" width="140%" height="200%"><feGaussianBlur stdDeviation="1.2"/></filter>
<filter id="jb3" x="-20%" y="-50%" width="140%" height="200%"><feGaussianBlur stdDeviation="3"/></filter>
<filter id="jb6" x="-30%" y="-50%" width="160%" height="200%"><feGaussianBlur stdDeviation="6"/></filter>
<filter id="jb10" x="-30%" y="-50%" width="160%" height="200%"><feGaussianBlur stdDeviation="10"/></filter>
<filter id="spk" x="0" y="0" width="100%" height="100%"><feTurbulence type="fractalNoise" baseFrequency="0.55" numOctaves="2" seed="5"/><feColorMatrix type="matrix" values="0 0 0 0 1  0 0 0 0 1  0 0 0 0 1  0 0 0 1.4 -0.62"/></filter>
<filter id="spk2" x="0" y="0" width="100%" height="100%"><feTurbulence type="fractalNoise" baseFrequency="0.06 0.14" numOctaves="3" seed="9"/><feColorMatrix type="matrix" values="0 0 0 0 0  0 0 0 0 0  0 0 0 0 0.1  0 0 0 2.6 -1.1"/></filter>
<filter id="texW" x="0" y="0" width="100%" height="100%"><feTurbulence type="fractalNoise" baseFrequency="0.025 0.07" numOctaves="4" seed="14"/><feColorMatrix type="matrix" values="0 0 0 0 1  0 0 0 0 1  0 0 0 0 1  0 0 0 3.2 -1.55"/></filter>
<filter id="texD" x="0" y="0" width="100%" height="100%"><feTurbulence type="fractalNoise" baseFrequency="0.03 0.08" numOctaves="4" seed="31"/><feColorMatrix type="matrix" values="0 0 0 0 0  0 0 0 0 0  0 0 0 0 0  0 0 0 3.2 -1.5"/></filter>
<clipPath id="jaclip"><rect x="646.4" y="2127" width="541" height="309.6"/></clipPath>
<clipPath id="jaov"><rect x="917" y="2170.2" width="270.4" height="196.1"/></clipPath>
<linearGradient id="jabg" x1="0" y1="0" x2="0" y2="1"><stop offset="0" stop-color="#5e5e5e"/><stop offset="0.12" stop-color="#4a4a4a"/><stop offset="0.55" stop-color="#3c3c3c"/><stop offset="0.78" stop-color="#242424"/><stop offset="1" stop-color="#151515"/></linearGradient>
<linearGradient id="gbar" x1="0" y1="0" x2="0" y2="1"><stop offset="0" stop-color="#fff"/><stop offset="0.45" stop-color="#888"/><stop offset="1" stop-color="#000"/></linearGradient>
<linearGradient id="rbar" x1="0" y1="0" x2="0" y2="1"><stop offset="0" stop-color="#e02010"/><stop offset="0.12" stop-color="#ff7a00"/><stop offset="0.25" stop-color="#f4f000"/><stop offset="0.45" stop-color="#30d020"/><stop offset="0.7" stop-color="#00d0c0"/><stop offset="0.85" stop-color="#0060ff"/><stop offset="1" stop-color="#1010d0"/></linearGradient>
</defs>
<g clip-path="url(#jaclip)">
<rect x="646" y="2127" width="542" height="310" fill="#000"/>
<rect x="646" y="2160" width="542" height="277" fill="url(#jabg)"/>
<path d="M645.4,2164.6 L916.4,2164.6 L916.4,2181.6 L801.0,2180.7 L645.4,2185.1 Z" fill="#707070" opacity="0.9" filter="url(#jb3)"/>
<path d="M645.4,2185.1 C650.0,2185.5 662.5,2178.7 668.6,2186.9 C674.7,2195.2 676.1,2209.5 675.8,2226.3 C675.4,2243.1 672.9,2258.5 666.8,2271.0 C660.8,2283.5 649.7,2306.1 645.4,2288.9 C641.1,2271.7 645.4,2205.9 645.4,2185.1 Z" fill="#6c6c6c" opacity="0.8" filter="url(#jb6)"/>
<path d="M645.4,2194.1 C649.7,2193.0 650.0,2190.7 666.8,2188.7 C683.6,2186.7 702.6,2185.7 729.4,2184.2 C756.3,2182.7 774.2,2180.6 801.0,2181.2 C827.8,2181.8 840.5,2184.8 863.6,2187.3 C886.7,2189.8 905.8,2190.4 916.4,2193.7 C926.9,2197.0 926.9,2203.3 916.4,2203.9 C905.8,2204.5 886.7,2199.6 863.6,2196.8 C840.5,2193.9 827.1,2190.4 801.0,2189.6 C774.9,2188.8 753.4,2190.7 733.0,2192.6 C712.6,2194.6 711.9,2194.9 699.0,2199.4 C686.2,2204.0 679.4,2209.8 668.6,2215.5 C657.9,2221.3 650.0,2232.4 645.4,2228.1 C640.7,2223.8 645.4,2200.9 645.4,2194.1 Z" fill="#b2b2b2" opacity="0.92" filter="url(#jb1)"/>
<path d="M645.4,2194.1 C649.7,2193.0 650.0,2190.7 666.8,2188.7 C683.6,2186.7 702.6,2185.7 729.4,2184.2 C756.3,2182.7 774.2,2180.6 801.0,2181.2 C827.8,2181.8 840.5,2184.8 863.6,2187.3 C886.7,2189.8 905.8,2192.0 916.4,2193.7 C926.9,2195.4 926.9,2196.7 916.4,2195.9 C905.8,2195.1 886.7,2192.2 863.6,2189.8 C840.5,2187.4 827.8,2184.3 801.0,2183.7 C774.2,2183.1 756.3,2185.3 729.4,2186.9 C702.6,2188.5 683.6,2189.4 666.8,2191.6 C650.0,2193.7 649.7,2197.2 645.4,2197.7 C641.1,2198.2 645.4,2194.8 645.4,2194.1 Z" fill="#d8d8d8" opacity="0.8" filter="url(#jb1)"/>
<path d="M670.4,2217.3 C676.5,2214.1 688.3,2205.9 700.8,2201.2 C713.3,2196.6 713.0,2196.2 733.0,2194.1 C753.1,2192.0 774.9,2190.1 801.0,2190.9 C827.1,2191.6 840.5,2195.0 863.6,2198.0 C886.7,2201.0 905.8,2200.4 916.4,2205.7 C926.9,2211.0 926.9,2222.5 916.4,2224.5 C905.8,2226.5 886.7,2218.4 863.6,2215.5 C840.5,2212.7 824.3,2210.4 801.0,2210.2 C777.7,2210.0 765.9,2213.4 747.3,2214.7 C728.7,2215.9 722.3,2212.3 708.0,2216.4 C693.7,2220.6 683.3,2235.0 675.8,2235.2 C668.3,2235.4 671.5,2220.9 670.4,2217.3 Z" fill="#2e2e2e" opacity="0.92" filter="url(#jb3)"/>
<path d="M670.4,2246.0 C679.4,2243.8 696.2,2236.7 715.1,2235.2 C734.1,2233.8 744.5,2235.6 765.2,2238.8 C786.0,2242.0 797.4,2243.5 818.9,2251.3 C840.4,2259.2 853.6,2265.3 872.6,2278.2 C891.5,2291.0 906.5,2306.4 913.7,2315.7 C920.9,2325.0 923.7,2322.9 908.3,2324.7 C893.0,2326.5 861.8,2321.4 836.8,2324.7 C811.7,2327.9 807.4,2336.1 783.1,2340.8 C758.8,2345.4 735.2,2344.0 715.1,2347.9 C695.1,2351.9 691.9,2365.1 682.9,2360.4 C674.0,2355.8 672.9,2347.6 670.4,2324.7 C667.9,2301.8 670.4,2261.7 670.4,2246.0 Z" fill="#646464" opacity="0.9" filter="url(#jb3)"/>
<path d="M675.8,2217.3 C682.9,2218.8 693.7,2220.9 711.6,2224.5 C729.4,2228.1 754.5,2230.9 765.2,2235.2 C776.0,2239.5 776.0,2245.2 765.2,2246.0 C754.5,2246.7 730.2,2238.8 711.6,2238.8 C693.0,2238.8 679.4,2250.3 672.2,2246.0 C665.0,2241.7 675.1,2223.1 675.8,2217.3 Z" fill="#4a4a4a" opacity="0.8" filter="url(#jb3)"/>
<path d="M672.2,2276.4 C678.3,2274.5 690.4,2270.4 702.6,2267.1 C714.8,2263.8 713.3,2260.8 733.0,2259.9 C752.7,2259.0 786.9,2260.7 801.0,2262.4 C815.1,2264.1 814.4,2266.8 803.7,2268.3 C793.0,2269.9 766.5,2268.3 747.3,2270.1 C728.2,2271.9 722.3,2274.0 708.0,2277.3 C693.7,2280.5 682.9,2286.4 675.8,2286.2 C668.6,2286.0 672.9,2278.3 672.2,2276.4 Z" fill="#b4b4b4" opacity="0.85" filter="url(#jb1)"/>
<path d="M734.8,2261.2 C740.9,2260.8 752.0,2259.0 765.2,2259.4 C778.5,2259.7 801.0,2261.7 801.0,2263.0 C801.0,2264.2 778.5,2266.0 765.2,2265.6 C752.0,2265.3 740.9,2262.1 734.8,2261.2 Z" fill="#e0e0e0" opacity="0.7" filter="url(#jb1)"/>
<path d="M740.2,2310.4 C748.8,2308.4 767.0,2303.0 783.1,2300.5 C799.2,2298.0 813.3,2296.2 820.7,2297.8 C828.0,2299.4 827.3,2305.7 819.8,2308.6 C812.3,2311.4 797.6,2309.8 783.1,2312.1 C768.6,2314.5 761.6,2316.3 747.3,2320.2 C733.0,2324.1 719.1,2330.9 711.6,2331.8 C704.0,2332.7 704.0,2329.0 709.8,2324.7 C715.5,2320.4 734.1,2313.2 740.2,2310.4 Z" fill="#a4a4a4" opacity="0.85" filter="url(#jb1)"/>
<path d="M708.0,2285.3 C715.8,2283.9 728.7,2279.9 747.3,2278.2 C765.9,2276.4 790.3,2274.9 801.0,2276.4 C811.7,2277.8 811.7,2282.5 801.0,2285.3 C790.3,2288.2 765.2,2288.5 747.3,2290.7 C729.4,2292.8 719.4,2297.1 711.6,2296.0 C703.7,2295.0 708.7,2287.5 708.0,2285.3 Z" fill="#848484" opacity="0.7" filter="url(#jb3)"/>
<path d="M682.9,2340.8 C689.4,2338.1 708.2,2329.0 715.1,2327.4 C722.1,2325.7 723.5,2328.8 717.8,2332.7 C712.1,2336.7 693.5,2345.4 686.5,2347.0 C679.5,2348.6 683.6,2342.0 682.9,2340.8 Z" fill="#9c9c9c" opacity="0.85" filter="url(#jb1)"/>
<path d="M690.1,2251.3 C695.1,2250.2 705.8,2247.1 715.1,2245.6 C724.4,2244.1 732.1,2243.7 736.6,2243.8 C741.1,2244.0 741.8,2245.2 737.5,2246.3 C733.2,2247.4 724.4,2247.3 715.1,2249.2 C705.8,2251.1 696.0,2255.4 691.0,2255.8 C686.0,2256.2 690.3,2252.2 690.1,2251.3 Z" fill="#9a9a9a" opacity="0.9" filter="url(#jb1)"/>
<path d="M763.4,2233.4 C774.5,2236.1 797.1,2240.1 818.9,2246.9 C840.7,2253.6 853.1,2257.2 872.6,2267.4 C892.1,2277.6 907.6,2289.2 916.4,2297.8 C925.2,2306.4 925.9,2314.3 916.4,2310.4 C906.9,2306.4 888.5,2289.1 869.0,2278.2 C849.5,2267.2 840.0,2263.6 818.9,2255.8 C797.8,2248.0 774.5,2243.6 763.4,2239.2 C752.3,2234.7 763.4,2234.6 763.4,2233.4 Z" fill="#161616" opacity="0.9" filter="url(#jb1)"/>
<path d="M797.4,2214.7 C808.9,2216.6 830.9,2216.8 854.7,2224.5 C878.5,2232.2 904.0,2245.6 916.4,2253.1 C928.7,2260.6 928.7,2265.9 916.4,2262.1 C904.0,2258.2 878.5,2242.0 854.7,2233.8 C830.9,2225.6 808.9,2224.7 797.4,2220.9 C786.0,2217.1 797.4,2215.9 797.4,2214.7 Z" fill="#1e1e1e" opacity="0.8" filter="url(#jb1)"/>
<path d="M818.9,2217.3 C829.6,2220.2 853.1,2224.8 872.6,2231.6 C892.1,2238.4 907.6,2246.9 916.4,2251.3 C925.2,2255.8 925.2,2257.2 916.4,2254.0 C907.6,2250.8 892.1,2241.7 872.6,2235.2 C853.1,2228.8 829.6,2225.4 818.9,2221.8 C808.2,2218.2 818.9,2218.2 818.9,2217.3 Z" fill="#8a8a8a" opacity="0.6" filter="url(#jb1)"/>
<path d="M708.0,2216.8 C714.4,2217.0 726.6,2216.8 740.2,2217.9 C753.8,2219.0 766.7,2220.8 776.0,2222.3 C785.3,2223.8 791.7,2225.0 786.7,2225.4 C781.7,2225.7 764.2,2224.8 750.9,2224.1 C737.7,2223.4 729.1,2223.3 720.5,2221.8 C711.9,2220.3 710.5,2217.8 708.0,2216.8 Z" fill="#f4f4f4" opacity="1" filter="url(#jb1)"/>
<path d="M781.3,2236.5 C785.3,2237.2 793.3,2238.4 801.0,2240.2 C808.7,2242.1 816.7,2243.9 819.8,2245.6 C822.8,2247.3 820.7,2248.9 816.2,2248.6 C811.7,2248.4 804.0,2246.0 797.4,2244.2 C790.8,2242.4 786.3,2241.2 783.1,2239.7 C779.9,2238.2 781.7,2237.1 781.3,2236.5 Z" fill="#f4f4f4" opacity="1" filter="url(#jb1)"/>
<path d="M693.7,2365.8 C698.3,2363.2 699.0,2356.0 716.9,2352.6 C734.8,2349.1 759.1,2352.3 783.1,2348.6 C807.1,2345.0 810.1,2337.5 836.8,2334.3 C863.4,2331.1 900.5,2323.0 916.4,2332.5 C932.3,2342.1 932.3,2372.8 916.4,2381.9 C900.5,2391.1 870.6,2376.9 836.8,2378.3 C803.0,2379.8 777.7,2386.9 747.3,2389.1 C716.9,2391.2 695.5,2393.7 684.7,2389.1 C674.0,2384.4 691.9,2370.5 693.7,2365.8 Z" fill="#262626" opacity="0.9" filter="url(#jb3)"/>
<path d="M786.7,2346.1 C796.7,2343.6 812.5,2336.3 836.8,2333.6 C861.1,2330.9 894.0,2326.6 908.3,2332.7 C922.6,2338.8 922.6,2357.0 908.3,2364.0 C894.0,2371.0 861.1,2367.6 836.8,2367.6 C812.5,2367.6 796.7,2368.3 786.7,2364.0 C776.7,2359.7 786.7,2349.7 786.7,2346.1 Z" fill="#3e3e3e" opacity="0.7" filter="url(#jb6)"/>
<path d="M690.1,2361.9 C695.1,2359.1 703.7,2351.6 715.1,2347.9 C726.6,2344.2 733.7,2344.7 747.3,2343.5 C760.9,2342.2 772.4,2343.6 783.1,2341.7 C793.8,2339.7 790.3,2336.8 801.0,2333.6 C811.7,2330.4 822.5,2327.4 836.8,2325.6 C851.1,2323.7 859.0,2324.2 872.6,2324.3 C886.2,2324.4 896.4,2324.6 904.8,2326.1 C913.2,2327.6 921.0,2331.2 914.6,2331.8 C908.2,2332.4 888.1,2328.8 872.6,2329.1 C857.0,2329.5 851.1,2331.5 836.8,2333.6 C822.5,2335.8 811.7,2337.0 801.0,2339.9 C790.3,2342.7 793.8,2346.3 783.1,2347.9 C772.4,2349.5 760.6,2347.1 747.3,2347.9 C734.1,2348.7 727.7,2348.5 716.9,2351.9 C706.2,2355.3 699.0,2362.9 693.7,2364.9 C688.3,2366.9 690.8,2362.5 690.1,2361.9 Z" fill="#f6f6f6" opacity="1" filter="url(#jb1)"/>
<path d="M729.4,2347.9 C740.2,2346.9 772.0,2342.8 783.1,2342.6 C794.2,2342.3 795.6,2344.9 784.9,2346.5 C774.2,2348.1 740.5,2350.3 729.4,2350.6 C718.4,2350.9 729.4,2348.5 729.4,2347.9 Z" fill="#ffffff" opacity="0.9" filter="url(#jb1)"/>
<rect x="646" y="2165" width="272" height="272" fill="#fff" filter="url(#texW)" opacity="0.2"/>
<rect x="646" y="2165" width="272" height="272" fill="#000" filter="url(#texD)" opacity="0.35"/>
<rect x="646" y="2165" width="272" height="272" fill="#fff" filter="url(#spk)" opacity="0.22"/>
<rect x="917.6" y="2366" width="270" height="71" fill="#262626"/>
<path d="M918.5,2378.4 C933.3,2377.3 962.9,2371.7 992.5,2372.8 C1022.2,2373.9 1029.6,2383.2 1066.6,2383.9 C1103.6,2384.7 1155.4,2372.1 1177.6,2376.5 C1199.8,2381.0 1199.8,2398.4 1177.6,2406.1 C1155.4,2413.9 1118.4,2415.4 1066.6,2415.4 C1014.8,2415.4 948.1,2413.5 918.5,2406.1 C888.9,2398.7 918.5,2383.9 918.5,2378.4 Z" fill="#3a3a3a" opacity="0.7" filter="url(#jb6)"/>
<g clip-path="url(#jaov)">
<rect x="917" y="2170" width="271" height="197" fill="#4a46b4"/>
<path d="M917.0,2170.2 C971.4,2170.2 1134.4,2164.4 1188.7,2170.2 C1243.1,2175.9 1209.5,2193.5 1188.7,2198.8 C1168.0,2204.2 1120.6,2196.2 1085.1,2197.0 C1049.5,2197.7 1044.7,2200.7 1011.0,2202.5 C977.4,2204.4 935.8,2212.7 917.0,2206.2 C898.2,2199.8 917.0,2177.4 917.0,2170.2 Z" fill="#6a62cc" opacity="1" filter="url(#jb6)"/>
<path d="M1085.1,2169.2 C1105.8,2169.2 1168.0,2166.3 1188.7,2169.2 C1209.5,2172.2 1205.8,2181.4 1188.7,2184.0 C1171.7,2186.6 1124.3,2185.1 1103.6,2182.2 C1082.9,2179.2 1088.8,2171.8 1085.1,2169.2 Z" fill="#4aa6b8" opacity="0.9" filter="url(#jb6)"/>
<path d="M914.8,2171.1 C920.4,2171.1 937.0,2165.5 942.6,2171.1 C948.1,2176.6 948.1,2191.8 942.6,2198.8 C937.0,2205.9 920.4,2211.8 914.8,2206.2 C909.3,2200.7 914.8,2178.1 914.8,2171.1 Z" fill="#4a9cb0" opacity="0.9" filter="url(#jb6)"/>
<path d="M914.8,2239.6 C934.1,2239.6 977.0,2236.6 1011.0,2239.6 C1045.1,2242.5 1059.2,2247.0 1085.1,2254.4 C1111.0,2261.8 1119.9,2265.5 1140.6,2276.6 C1161.3,2287.7 1179.1,2300.3 1188.7,2309.9 C1198.4,2319.5 1202.1,2327.7 1188.7,2324.7 C1175.4,2321.7 1146.5,2304.7 1122.1,2295.1 C1097.7,2285.5 1092.5,2281.0 1066.6,2276.6 C1040.7,2272.1 1014.8,2271.4 992.5,2272.9 C970.3,2274.4 971.1,2283.2 955.5,2284.0 C940.0,2284.7 923.0,2285.5 914.8,2276.6 C906.7,2267.7 914.8,2247.0 914.8,2239.6 Z" fill="#4aa2b4" opacity="1" filter="url(#jb6)"/>
<path d="M914.8,2198.8 C930.4,2198.5 962.2,2197.0 992.5,2197.0 C1022.9,2197.0 1037.0,2198.8 1066.6,2198.8 C1096.2,2198.8 1116.2,2192.5 1140.6,2197.0 C1165.0,2201.4 1179.1,2199.6 1188.7,2221.0 C1198.4,2242.5 1198.4,2294.0 1188.7,2304.3 C1179.1,2314.7 1161.3,2282.1 1140.6,2272.9 C1119.9,2263.6 1107.3,2262.5 1085.1,2258.1 C1062.9,2253.6 1054.4,2254.4 1029.6,2250.7 C1004.8,2247.0 974.8,2235.1 961.1,2239.6 C947.4,2244.0 970.3,2266.9 961.1,2272.9 C951.8,2278.8 924.1,2284.0 914.8,2269.2 C905.6,2254.4 914.8,2212.9 914.8,2198.8 Z" fill="#5fa244" opacity="1" filter="url(#jb6)"/>
<path d="M914.8,2221.0 C919.2,2220.7 925.2,2221.4 937.0,2219.2 C948.9,2217.0 959.2,2212.9 974.0,2209.9 C988.8,2207.0 996.2,2204.8 1011.0,2204.4 C1025.9,2204.0 1037.0,2208.1 1048.1,2208.1 C1059.2,2208.1 1055.5,2204.0 1066.6,2204.4 C1077.7,2204.8 1089.5,2209.4 1103.6,2209.9 C1117.7,2210.5 1124.3,2206.4 1136.9,2207.2 C1149.5,2207.9 1160.6,2207.2 1166.5,2213.6 C1172.4,2220.1 1162.1,2233.6 1166.5,2239.6 C1171.0,2245.5 1184.3,2233.6 1188.7,2243.3 C1193.2,2252.9 1193.2,2282.5 1188.7,2287.7 C1184.3,2292.9 1176.1,2278.8 1166.5,2269.2 C1156.9,2259.5 1151.3,2244.7 1140.6,2239.6 C1129.9,2234.4 1123.9,2239.9 1112.8,2243.3 C1101.7,2246.6 1098.0,2254.4 1085.1,2256.2 C1072.1,2258.1 1061.4,2254.0 1048.1,2252.5 C1034.7,2251.0 1027.3,2252.1 1018.5,2248.8 C1009.6,2245.5 1013.3,2239.6 1003.6,2235.9 C994.0,2232.2 983.7,2231.0 970.3,2230.3 C957.0,2229.6 948.1,2230.3 937.0,2232.2 C925.9,2234.0 919.2,2241.8 914.8,2239.6 C910.4,2237.3 914.8,2224.8 914.8,2221.0 Z" fill="#9c2f28" opacity="1" filter="url(#jb3)"/>
<path d="M1044.4,2232.2 C1050.7,2230.7 1064.7,2225.5 1075.8,2224.8 C1086.9,2224.0 1095.8,2224.8 1099.9,2228.5 C1104.0,2232.2 1102.9,2241.0 1096.2,2243.3 C1089.5,2245.5 1076.2,2238.8 1066.6,2239.6 C1056.9,2240.3 1052.5,2248.4 1048.1,2247.0 C1043.6,2245.5 1045.1,2235.1 1044.4,2232.2 Z" fill="#6aa040" opacity="0.95" filter="url(#jb3)"/>
<path d="M1112.8,2228.5 C1118.4,2228.1 1133.2,2224.4 1140.6,2226.6 C1148.0,2228.8 1153.6,2236.2 1149.9,2239.6 C1146.2,2242.9 1129.5,2245.5 1122.1,2243.3 C1114.7,2241.0 1114.7,2231.4 1112.8,2228.5 Z" fill="#7aa844" opacity="0.95" filter="url(#jb3)"/>
<path d="M1072.1,2208.1 C1076.6,2208.5 1090.3,2207.7 1094.3,2209.9 C1098.4,2212.2 1096.6,2218.1 1092.5,2219.2 C1088.4,2220.3 1078.0,2217.7 1074.0,2215.5 C1069.9,2213.3 1072.5,2209.6 1072.1,2208.1 Z" fill="#7aa844" opacity="0.9" filter="url(#jb3)"/>
<path d="M983.3,2218.3 C989.6,2218.1 1005.5,2216.4 1014.8,2217.3 C1024.0,2218.3 1030.3,2220.7 1029.6,2222.9 C1028.8,2225.1 1018.5,2228.1 1011.0,2228.5 C1003.6,2228.8 998.1,2226.8 992.5,2224.8 C987.0,2222.7 985.1,2219.6 983.3,2218.3 Z" fill="#c8e070" opacity="0.95" filter="url(#jb1)"/>
<path d="M1062.9,2239.6 C1067.3,2240.7 1079.2,2243.1 1085.1,2245.1 C1091.0,2247.1 1094.0,2249.2 1092.5,2249.7 C1091.0,2250.3 1083.6,2249.9 1077.7,2247.9 C1071.8,2245.9 1065.8,2241.2 1062.9,2239.6 Z" fill="#f0e8b0" opacity="0.9" filter="url(#jb1)"/>
<path d="M914.8,2284.0 C923.0,2284.0 940.0,2286.2 955.5,2284.0 C971.1,2281.8 970.3,2274.4 992.5,2272.9 C1014.8,2271.4 1040.7,2272.1 1066.6,2276.6 C1092.5,2281.0 1097.7,2285.5 1122.1,2295.1 C1146.5,2304.7 1175.4,2309.9 1188.7,2324.7 C1202.1,2339.5 1243.5,2360.2 1188.7,2369.1 C1133.9,2378.0 969.6,2386.1 914.8,2369.1 C860.0,2352.1 914.8,2301.0 914.8,2284.0 Z" fill="#4038a8" opacity="1" filter="url(#jb6)"/>
<path d="M974.0,2295.1 C992.5,2293.6 1037.0,2286.6 1066.6,2287.7 C1096.2,2288.8 1118.4,2295.5 1122.1,2300.6 C1125.8,2305.8 1111.0,2310.3 1085.1,2313.6 C1059.2,2316.9 1014.8,2321.0 992.5,2317.3 C970.3,2313.6 977.7,2299.5 974.0,2295.1 Z" fill="#6a5cd0" opacity="0.8" filter="url(#jb6)"/>
<path d="M970.3,2317.3 C985.9,2316.2 1031.8,2309.5 1048.1,2311.7 C1064.4,2314.0 1066.6,2323.6 1051.8,2328.4 C1037.0,2333.2 990.3,2338.0 974.0,2335.8 C957.7,2333.6 971.1,2321.0 970.3,2317.3 Z" fill="#3f8aa8" opacity="0.85" filter="url(#jb6)"/>
<path d="M959.2,2363.6 C969.6,2359.7 991.4,2349.1 1011.0,2344.1 C1030.7,2339.1 1038.8,2342.3 1057.3,2338.6 C1075.8,2334.9 1079.5,2328.2 1103.6,2325.6 C1127.7,2323.0 1161.3,2324.3 1177.6,2325.6 C1193.9,2326.9 1199.8,2330.2 1185.0,2332.1 C1170.2,2333.9 1129.1,2331.5 1103.6,2334.9 C1078.0,2338.2 1075.8,2344.9 1057.3,2348.8 C1038.8,2352.6 1027.0,2350.8 1011.0,2354.3 C995.1,2357.8 988.1,2364.5 977.7,2366.3 C967.4,2368.2 962.9,2364.1 959.2,2363.6 Z" fill="#a488e8" opacity="0.95" filter="url(#jb3)"/>
<path d="M1011.0,2354.3 C1029.6,2350.4 1068.1,2339.3 1103.6,2334.9 C1139.1,2330.4 1171.7,2325.3 1188.7,2332.1 C1205.8,2338.9 1228.0,2361.7 1188.7,2369.1 C1149.5,2376.5 1028.1,2372.1 992.5,2369.1 C957.0,2366.2 1007.3,2357.3 1011.0,2354.3 Z" fill="#4a3cb8" opacity="0.7" filter="url(#jb6)"/>
<rect x="917" y="2170" width="271" height="197" fill="#000" filter="url(#texD)" opacity="0.32"/>
<rect x="917" y="2170" width="271" height="197" fill="#fff" filter="url(#texW)" opacity="0.2"/>
<rect x="917" y="2170" width="271" height="197" fill="#fff" filter="url(#spk)" opacity="0.12"/>
</g>
<rect x="646" y="2159.8" width="542" height="4.6" fill="#b4b4b4"/>
<rect x="646" y="2164" width="542" height="2.5" fill="#6a6a6a"/>
<rect x="661.8" y="2147.6" width="4" height="86" fill="url(#gbar)"/>
<circle cx="659.8" cy="2243.3" r="1.2" fill="#e8e0d0"/>
<circle cx="1173.5" cy="2243.3" r="1.2" fill="#e8e0d0"/>
<circle cx="659.8" cy="2271" r="1.2" fill="#e8e0d0"/>
<circle cx="1173.5" cy="2271" r="1.2" fill="#e8e0d0"/>
<circle cx="659.8" cy="2299.3" r="1.2" fill="#e8e0d0"/>
<circle cx="1173.5" cy="2299.3" r="1.2" fill="#e8e0d0"/>
<circle cx="659.8" cy="2327" r="1.2" fill="#e8e0d0"/>
<circle cx="1173.5" cy="2327" r="1.2" fill="#e8e0d0"/>
<circle cx="659.8" cy="2355" r="1.2" fill="#e8e0d0"/>
<circle cx="1173.5" cy="2355" r="1.2" fill="#e8e0d0"/>
<circle cx="659.8" cy="2383.3" r="1.2" fill="#e8e0d0"/>
<circle cx="1173.5" cy="2383.3" r="1.2" fill="#e8e0d0"/>
<circle cx="659.8" cy="2411.4" r="1.2" fill="#e8e0d0"/>
<circle cx="1173.5" cy="2411.4" r="1.2" fill="#e8e0d0"/>
<path d="M658.5,2312 L664.5,2315.4 L658.5,2319 Z" fill="#ddd"/>
<path d="M1176.5,2312 L1170.5,2315.4 L1176.5,2319 Z" fill="#ddd8c0"/>
<rect x="1160" y="2147" width="3.6" height="87" fill="url(#gbar)"/>
<rect x="1163.6" y="2147" width="8.4" height="87" fill="url(#rbar)"/>
<text x="1153.6" y="2144.5" font-family='"Liberation Sans",sans-serif' font-size="11" textLength="18.0" lengthAdjust="spacingAndGlyphs" fill="#eee">Soft</text>
<text x="1149.0" y="2248.5" font-family='"Liberation Sans",sans-serif' font-size="12" textLength="23.0" lengthAdjust="spacingAndGlyphs" fill="#f0e8e0">Hard</text>
<text x="1141.5" y="2265.5" font-family='"Liberation Sans",sans-serif' font-size="11" textLength="29.0" lengthAdjust="spacingAndGlyphs" fill="#e8e0c0">B 26%</text>
<text x="1172.0" y="2276.6" font-family='"Liberation Sans",sans-serif' font-size="11" textLength="8.0" lengthAdjust="spacingAndGlyphs" fill="#eee">-1</text>
<text x="1171.0" y="2387.6" font-family='"Liberation Sans",sans-serif' font-size="11" textLength="9.0" lengthAdjust="spacingAndGlyphs" fill="#eee">-2</text>
<text x="648.0" y="2277.5" font-family='"Liberation Sans",sans-serif' font-size="10" fill="#bbb">1</text>
<text x="647.0" y="2388.0" font-family='"Liberation Sans",sans-serif' font-size="10" fill="#bbb">2</text>
</g>
<defs>
<clipPath id="jbL"><rect x="1233.8" y="2144.2" width="251.4" height="292"/></clipPath>
<clipPath id="jbR"><rect x="1500.2" y="2144.2" width="252" height="292"/></clipPath>
<linearGradient id="jbbg" x1="0" y1="0" x2="0" y2="1"><stop offset="0" stop-color="#8a8a8a"/><stop offset="0.05" stop-color="#6c6c6c"/><stop offset="0.07" stop-color="#3a3a3a"/><stop offset="0.34" stop-color="#2e2e2e"/><stop offset="0.5" stop-color="#242424"/><stop offset="0.75" stop-color="#141414"/><stop offset="1" stop-color="#0c0c0c"/></linearGradient>
</defs>
<rect x="1226" y="2128" width="532.4" height="309.4" fill="#000"/>
<g clip-path="url(#jbL)">
<rect x="1233.8" y="2144.2" width="252" height="292" fill="url(#jbbg)"/>
<rect x="1233.8" y="2144.2" width="252" height="3.6" fill="#bdbdbd"/>
<rect x="1233.8" y="2148" width="252" height="12" fill="#fff" filter="url(#spk)" opacity="0.35"/>
<path d="M1245.9,2167.0 C1258.0,2166.8 1280.5,2166.0 1306.4,2166.1 C1332.3,2166.3 1347.8,2167.7 1375.5,2167.9 C1403.1,2168.0 1422.6,2167.0 1444.6,2167.0 C1466.5,2167.0 1477.0,2166.8 1485.2,2167.9 C1493.3,2168.9 1493.3,2171.6 1485.2,2172.2 C1477.0,2172.8 1466.5,2170.7 1444.6,2170.8 C1422.6,2170.9 1403.1,2172.5 1375.5,2172.5 C1347.8,2172.5 1332.3,2171.2 1306.4,2170.8 C1280.5,2170.5 1258.0,2171.6 1245.9,2170.8 C1233.8,2170.0 1245.9,2167.8 1245.9,2167.0 Z" fill="#d8d8d8" opacity="0.95" filter="url(#jb1)"/>
<path d="M1384.1,2161.8 C1392.7,2161.5 1407.1,2160.4 1427.3,2160.4 C1447.5,2160.4 1473.6,2160.9 1485.2,2161.8 C1496.7,2162.7 1496.7,2164.6 1485.2,2164.9 C1473.6,2165.3 1447.5,2163.5 1427.3,2163.5 C1407.1,2163.5 1392.7,2165.3 1384.1,2164.9 C1375.5,2164.6 1384.1,2162.4 1384.1,2161.8 Z" fill="#9a9a9a" opacity="0.9" filter="url(#jb1)"/>
<path d="M1245.9,2178.2 C1252.8,2177.5 1264.9,2176.3 1280.5,2174.8 C1296.0,2173.3 1314.3,2171.0 1323.6,2170.8 C1333.0,2170.6 1335.4,2172.1 1327.1,2173.6 C1318.8,2175.1 1298.3,2176.4 1282.2,2178.2 C1266.1,2180.0 1254.0,2182.6 1246.8,2182.6 C1239.5,2182.6 1246.1,2179.1 1245.9,2178.2 Z" fill="#c8c8c8" opacity="0.95" filter="url(#jb1)"/>
<path d="M1245.9,2186.0 C1252.1,2185.0 1266.6,2182.6 1277.0,2180.8 C1287.4,2179.1 1293.4,2177.6 1297.7,2177.4 C1302.1,2177.1 1302.6,2178.2 1298.6,2179.4 C1294.6,2180.7 1288.2,2181.4 1277.9,2183.4 C1267.5,2185.4 1253.2,2188.9 1246.8,2189.5 C1240.4,2190.0 1246.1,2186.7 1245.9,2186.0 Z" fill="#b0b0b0" opacity="0.9" filter="url(#jb1)"/>
<ellipse cx="1285.2" cy="2229.1" rx="5.6" ry="1.1" fill="#e0e0e0" opacity="0.87" transform="rotate(-22 1285.2 2229.1)" filter="url(#jb1)"/>
<ellipse cx="1368.1" cy="2215.7" rx="3.2" ry="0.5" fill="#888" opacity="0.72" transform="rotate(-13 1368.1 2215.7)" filter="url(#jb1)"/>
<ellipse cx="1280.5" cy="2233.6" rx="7.3" ry="1.4" fill="#e0e0e0" opacity="0.80" transform="rotate(-9 1280.5 2233.6)" filter="url(#jb1)"/>
<ellipse cx="1254.0" cy="2203.0" rx="4.7" ry="0.7" fill="#7a7a7a" opacity="0.56" transform="rotate(22 1254.0 2203.0)" filter="url(#jb1)"/>
<ellipse cx="1422.6" cy="2185.5" rx="6.6" ry="0.5" fill="#7a7a7a" opacity="0.71" transform="rotate(-25 1422.6 2185.5)" filter="url(#jb1)"/>
<ellipse cx="1281.9" cy="2227.4" rx="4.6" ry="1.5" fill="#c0c0c0" opacity="0.63" transform="rotate(-31 1281.9 2227.4)" filter="url(#jb1)"/>
<ellipse cx="1476.8" cy="2244.0" rx="6.3" ry="1.4" fill="#9a9a9a" opacity="0.60" transform="rotate(-0 1476.8 2244.0)" filter="url(#jb1)"/>
<ellipse cx="1359.5" cy="2239.1" rx="2.9" ry="1.6" fill="#e0e0e0" opacity="0.67" transform="rotate(18 1359.5 2239.1)" filter="url(#jb1)"/>
<ellipse cx="1473.4" cy="2215.5" rx="3.6" ry="1.1" fill="#9a9a9a" opacity="0.61" transform="rotate(-19 1473.4 2215.5)" filter="url(#jb1)"/>
<ellipse cx="1416.6" cy="2250.4" rx="1.7" ry="0.6" fill="#888" opacity="0.64" transform="rotate(1 1416.6 2250.4)" filter="url(#jb1)"/>
<ellipse cx="1391.1" cy="2219.5" rx="5.5" ry="0.7" fill="#7a7a7a" opacity="0.88" transform="rotate(-25 1391.1 2219.5)" filter="url(#jb1)"/>
<ellipse cx="1325.1" cy="2234.4" rx="7.3" ry="0.8" fill="#c0c0c0" opacity="0.86" transform="rotate(-25 1325.1 2234.4)" filter="url(#jb1)"/>
<ellipse cx="1335.3" cy="2228.7" rx="5.8" ry="1.6" fill="#e0e0e0" opacity="0.92" transform="rotate(22 1335.3 2228.7)" filter="url(#jb1)"/>
<ellipse cx="1284.8" cy="2232.9" rx="1.8" ry="0.9" fill="#c0c0c0" opacity="0.92" transform="rotate(-5 1284.8 2232.9)" filter="url(#jb1)"/>
<ellipse cx="1304.5" cy="2219.9" rx="4.4" ry="1.0" fill="#9a9a9a" opacity="0.88" transform="rotate(9 1304.5 2219.9)" filter="url(#jb1)"/>
<ellipse cx="1258.3" cy="2197.8" rx="3.5" ry="1.0" fill="#9a9a9a" opacity="0.90" transform="rotate(-25 1258.3 2197.8)" filter="url(#jb1)"/>
<ellipse cx="1399.8" cy="2189.7" rx="2.6" ry="1.4" fill="#c0c0c0" opacity="0.93" transform="rotate(-32 1399.8 2189.7)" filter="url(#jb1)"/>
<ellipse cx="1371.2" cy="2232.0" rx="1.9" ry="0.8" fill="#c0c0c0" opacity="0.90" transform="rotate(15 1371.2 2232.0)" filter="url(#jb1)"/>
<ellipse cx="1389.3" cy="2210.0" rx="5.2" ry="1.5" fill="#888" opacity="0.79" transform="rotate(-17 1389.3 2210.0)" filter="url(#jb1)"/>
<ellipse cx="1279.1" cy="2231.4" rx="4.0" ry="0.7" fill="#7a7a7a" opacity="0.79" transform="rotate(8 1279.1 2231.4)" filter="url(#jb1)"/>
<ellipse cx="1399.4" cy="2240.9" rx="5.3" ry="0.8" fill="#c0c0c0" opacity="0.60" transform="rotate(-11 1399.4 2240.9)" filter="url(#jb1)"/>
<ellipse cx="1268.5" cy="2185.9" rx="1.9" ry="1.1" fill="#9a9a9a" opacity="0.81" transform="rotate(-27 1268.5 2185.9)" filter="url(#jb1)"/>
<ellipse cx="1276.1" cy="2218.2" rx="3.7" ry="1.1" fill="#c0c0c0" opacity="0.62" transform="rotate(-22 1276.1 2218.2)" filter="url(#jb1)"/>
<ellipse cx="1450.3" cy="2193.7" rx="6.2" ry="1.4" fill="#888" opacity="0.90" transform="rotate(1 1450.3 2193.7)" filter="url(#jb1)"/>
<ellipse cx="1430.5" cy="2236.5" rx="1.8" ry="1.1" fill="#888" opacity="0.62" transform="rotate(-31 1430.5 2236.5)" filter="url(#jb1)"/>
<ellipse cx="1415.5" cy="2197.4" rx="5.9" ry="0.9" fill="#e0e0e0" opacity="0.61" transform="rotate(-32 1415.5 2197.4)" filter="url(#jb1)"/>
<ellipse cx="1419.0" cy="2251.0" rx="6.7" ry="1.5" fill="#888" opacity="0.59" transform="rotate(-6 1419.0 2251.0)" filter="url(#jb1)"/>
<ellipse cx="1389.2" cy="2216.0" rx="6.2" ry="1.7" fill="#888" opacity="0.76" transform="rotate(-16 1389.2 2216.0)" filter="url(#jb1)"/>
<ellipse cx="1379.6" cy="2183.7" rx="6.7" ry="1.7" fill="#7a7a7a" opacity="0.81" transform="rotate(-14 1379.6 2183.7)" filter="url(#jb1)"/>
<ellipse cx="1346.1" cy="2242.1" rx="5.7" ry="1.3" fill="#e0e0e0" opacity="0.75" transform="rotate(13 1346.1 2242.1)" filter="url(#jb1)"/>
<ellipse cx="1471.7" cy="2228.4" rx="6.0" ry="1.1" fill="#e0e0e0" opacity="0.58" transform="rotate(-4 1471.7 2228.4)" filter="url(#jb1)"/>
<ellipse cx="1251.9" cy="2227.1" rx="2.0" ry="0.9" fill="#e0e0e0" opacity="0.84" transform="rotate(0 1251.9 2227.1)" filter="url(#jb1)"/>
<ellipse cx="1354.6" cy="2196.3" rx="4.1" ry="1.1" fill="#9a9a9a" opacity="0.56" transform="rotate(3 1354.6 2196.3)" filter="url(#jb1)"/>
<ellipse cx="1287.1" cy="2206.2" rx="5.4" ry="0.8" fill="#888" opacity="0.82" transform="rotate(-8 1287.1 2206.2)" filter="url(#jb1)"/>
<ellipse cx="1450.7" cy="2229.8" rx="5.9" ry="0.8" fill="#e0e0e0" opacity="0.67" transform="rotate(20 1450.7 2229.8)" filter="url(#jb1)"/>
<ellipse cx="1336.9" cy="2217.1" rx="6.0" ry="1.6" fill="#c0c0c0" opacity="0.67" transform="rotate(-25 1336.9 2217.1)" filter="url(#jb1)"/>
<ellipse cx="1339.2" cy="2189.6" rx="5.1" ry="0.6" fill="#e0e0e0" opacity="0.85" transform="rotate(-17 1339.2 2189.6)" filter="url(#jb1)"/>
<ellipse cx="1356.1" cy="2186.9" rx="7.5" ry="1.4" fill="#7a7a7a" opacity="0.70" transform="rotate(-23 1356.1 2186.9)" filter="url(#jb1)"/>
<ellipse cx="1384.6" cy="2192.8" rx="2.2" ry="0.6" fill="#c0c0c0" opacity="0.91" transform="rotate(-4 1384.6 2192.8)" filter="url(#jb1)"/>
<ellipse cx="1366.8" cy="2196.4" rx="5.9" ry="1.4" fill="#e0e0e0" opacity="0.74" transform="rotate(-26 1366.8 2196.4)" filter="url(#jb1)"/>
<ellipse cx="1350.1" cy="2223.9" rx="3.4" ry="0.7" fill="#7a7a7a" opacity="0.59" transform="rotate(-12 1350.1 2223.9)" filter="url(#jb1)"/>
<ellipse cx="1478.4" cy="2194.7" rx="3.8" ry="1.3" fill="#7a7a7a" opacity="0.56" transform="rotate(17 1478.4 2194.7)" filter="url(#jb1)"/>
<ellipse cx="1365.4" cy="2181.9" rx="5.4" ry="1.4" fill="#9a9a9a" opacity="0.93" transform="rotate(-21 1365.4 2181.9)" filter="url(#jb1)"/>
<ellipse cx="1281.2" cy="2249.7" rx="2.9" ry="1.0" fill="#c0c0c0" opacity="0.60" transform="rotate(-35 1281.2 2249.7)" filter="url(#jb1)"/>
<ellipse cx="1434.6" cy="2238.8" rx="4.9" ry="0.6" fill="#e0e0e0" opacity="0.90" transform="rotate(-24 1434.6 2238.8)" filter="url(#jb1)"/>
<ellipse cx="1304.2" cy="2220.8" rx="6.7" ry="1.2" fill="#9a9a9a" opacity="0.81" transform="rotate(-7 1304.2 2220.8)" filter="url(#jb1)"/>
<path d="M1423.8,2192.9 C1425.9,2192.6 1431.1,2187.0 1434.2,2191.2 C1437.3,2195.3 1435.2,2206.0 1439.4,2213.6 C1443.5,2221.2 1452.5,2225.4 1454.9,2229.2 C1457.3,2233.0 1455.3,2234.4 1451.5,2232.6 C1447.7,2230.9 1441.1,2224.7 1435.9,2220.6 C1430.7,2216.4 1428.7,2214.7 1425.6,2211.9 C1422.5,2209.2 1420.7,2210.5 1420.4,2206.7 C1420.0,2202.9 1423.1,2195.7 1423.8,2192.9 Z" fill="#bcbcbc" opacity="0.9" filter="url(#jb1)"/>
<path d="M1410.0,2199.8 C1415.2,2199.8 1429.0,2195.7 1435.9,2199.8 C1442.8,2204.0 1448.0,2216.4 1444.6,2220.6 C1441.1,2224.7 1425.6,2224.7 1418.7,2220.6 C1411.7,2216.4 1411.7,2204.0 1410.0,2199.8 Z" fill="#666" opacity="0.7" filter="url(#jb3)"/>
<path d="M1351.3,2199.8 C1356.1,2198.8 1368.9,2191.9 1375.5,2194.6 C1382.0,2197.4 1386.9,2204.3 1384.1,2213.6 C1381.3,2223.0 1368.9,2237.8 1361.6,2241.3 C1354.4,2244.7 1349.9,2239.2 1347.8,2230.9 C1345.8,2222.6 1350.6,2206.0 1351.3,2199.8 Z" fill="#181818" opacity="0.8" filter="url(#jb3)"/>
<path d="M1249.4,2220.6 C1256.6,2220.6 1277.7,2215.7 1285.6,2220.6 C1293.6,2225.4 1293.6,2239.2 1289.1,2244.7 C1284.6,2250.3 1271.1,2248.9 1263.2,2248.2 C1255.2,2247.5 1252.1,2246.8 1249.4,2241.3 C1246.6,2235.8 1249.4,2224.7 1249.4,2220.6 Z" fill="#1a1a1a" opacity="0.7" filter="url(#jb3)"/>
<path d="M1258.0,2280.2 C1267.7,2277.2 1282.9,2272.4 1306.4,2265.5 C1329.9,2258.6 1354.7,2251.0 1375.5,2245.6 C1396.2,2240.2 1396.9,2240.1 1410.0,2238.7 C1423.1,2237.3 1426.1,2236.1 1441.1,2238.7 C1456.1,2241.3 1476.3,2248.2 1485.2,2251.6 C1494.0,2255.1 1494.0,2257.5 1485.2,2256.0 C1476.3,2254.4 1456.1,2246.3 1441.1,2243.9 C1426.1,2241.5 1423.1,2242.5 1410.0,2243.9 C1396.9,2245.3 1396.2,2245.4 1375.5,2250.8 C1354.7,2256.1 1329.5,2264.2 1306.4,2270.6 C1283.2,2277.1 1269.4,2281.4 1259.7,2283.3 C1250.1,2285.2 1258.3,2280.8 1258.0,2280.2 Z" fill="#c4c4c4" opacity="0.95" filter="url(#jb1)"/>
<path d="M1259.7,2283.6 C1282.9,2277.0 1339.2,2258.7 1375.5,2250.8 C1411.7,2242.8 1419.2,2242.8 1441.1,2243.9 C1463.0,2244.9 1476.3,2251.6 1485.2,2256.0 C1494.0,2260.3 1494.0,2264.3 1485.2,2265.5 C1476.3,2266.7 1459.6,2259.2 1441.1,2262.0 C1422.6,2264.8 1409.3,2268.2 1392.7,2279.3 C1376.2,2290.3 1378.9,2306.2 1358.2,2317.3 C1337.5,2328.3 1314.0,2332.8 1289.1,2334.6 C1264.2,2336.3 1244.9,2334.9 1233.8,2325.9 C1222.8,2316.9 1228.6,2298.1 1233.8,2289.7 C1239.0,2281.2 1254.5,2284.8 1259.7,2283.6 Z" fill="#202020" opacity="0.75" filter="url(#jb3)"/>
<path d="M1358.2,2317.3 C1361.0,2313.5 1366.8,2304.0 1372.0,2298.3 C1377.2,2292.6 1374.8,2294.5 1384.1,2288.8 C1393.4,2283.1 1406.6,2274.6 1418.7,2269.8 C1430.7,2264.9 1431.3,2265.3 1444.6,2264.6 C1457.9,2263.9 1477.0,2264.9 1485.2,2266.3 C1493.3,2267.7 1493.3,2270.8 1485.2,2271.5 C1477.0,2272.2 1457.5,2269.3 1444.6,2269.8 C1431.6,2270.3 1432.0,2269.4 1420.4,2274.1 C1408.8,2278.8 1395.9,2287.4 1386.7,2293.1 C1377.5,2298.8 1379.8,2297.3 1374.6,2302.6 C1369.4,2308.0 1364.1,2316.9 1360.8,2319.9 C1357.5,2322.8 1358.7,2317.8 1358.2,2317.3 Z" fill="#f0f0f0" opacity="0.98" filter="url(#jb1)"/>
<path d="M1323.6,2360.5 C1329.2,2353.6 1343.9,2334.0 1351.3,2325.9 C1358.7,2317.8 1358.4,2320.7 1360.8,2319.9 C1363.2,2319.0 1364.6,2319.0 1363.4,2321.6 C1362.2,2324.2 1361.3,2324.4 1354.7,2332.8 C1348.2,2341.3 1336.8,2358.4 1330.6,2363.9 C1324.3,2369.5 1325.0,2361.2 1323.6,2360.5 Z" fill="#777" opacity="0.6" filter="url(#jb3)"/>
<path d="M1363.4,2322.5 C1368.0,2316.9 1375.3,2304.2 1386.7,2294.8 C1398.1,2285.5 1400.7,2280.3 1420.4,2275.8 C1440.1,2271.3 1472.2,2240.1 1485.2,2272.4 C1498.1,2304.7 1514.0,2404.4 1485.2,2437.3 C1456.3,2470.3 1369.8,2451.0 1340.9,2437.3 C1312.1,2423.7 1336.4,2392.1 1340.9,2369.1 C1345.4,2346.1 1358.9,2331.8 1363.4,2322.5 Z" fill="#0a0a0a" opacity="0.8" filter="url(#jb6)"/>
<path d="M1444.6,2286.2 C1447.3,2286.5 1454.9,2285.2 1458.4,2287.9 C1461.8,2290.7 1463.9,2297.3 1461.8,2300.0 C1459.8,2302.8 1451.5,2304.5 1448.0,2301.7 C1444.6,2299.0 1445.3,2289.3 1444.6,2286.2 Z" fill="#9a9a9a" opacity="0.7" filter="url(#jb3)"/>
<path d="M1259.7,2310.4 C1269.1,2306.9 1296.4,2295.2 1306.4,2293.1 C1316.4,2291.0 1318.1,2295.2 1309.8,2300.0 C1301.5,2304.9 1274.9,2315.2 1264.9,2317.3 C1254.9,2319.4 1260.8,2311.8 1259.7,2310.4 Z" fill="#555" opacity="0.7" filter="url(#jb6)"/>
<path d="M1263.2,2360.5 C1275.3,2354.9 1308.8,2337.3 1323.6,2332.8 C1338.5,2328.3 1337.5,2331.5 1337.5,2338.0 C1337.5,2344.6 1336.8,2357.4 1323.6,2365.7 C1310.5,2373.9 1283.9,2380.5 1271.8,2379.5 C1259.7,2378.4 1264.9,2364.3 1263.2,2360.5 Z" fill="#5a5a5a" opacity="0.75" filter="url(#jb6)"/>
<path d="M1268.4,2389.8 C1278.0,2384.3 1304.3,2365.7 1316.7,2362.2 C1329.2,2358.7 1333.3,2365.0 1330.6,2372.6 C1327.8,2380.2 1314.7,2393.3 1302.9,2400.2 C1291.2,2407.1 1278.7,2409.2 1271.8,2407.1 C1264.9,2405.0 1269.1,2393.3 1268.4,2389.8 Z" fill="#4a4a4a" opacity="0.7" filter="url(#jb6)"/>
<rect x="1233.8" y="2165" width="252" height="110" fill="#fff" filter="url(#texW)" opacity="0.16"/>
<rect x="1233.8" y="2165" width="252" height="272" fill="#000" filter="url(#texD)" opacity="0.3"/>
<rect x="1233.8" y="2160" width="252" height="277" fill="#fff" filter="url(#spk)" opacity="0.16"/>
</g>
<g clip-path="url(#jbR)">
<rect x="1500.4" y="2144.2" width="252" height="292" fill="url(#jbbg)"/>
<rect x="1500.4" y="2144.2" width="252" height="3.6" fill="#bdbdbd"/>
<rect x="1500.4" y="2148" width="252" height="12" fill="#fff" filter="url(#spk)" opacity="0.35"/>
<path d="M1512.5,2167.0 C1524.6,2166.8 1547.1,2166.0 1573.0,2166.1 C1598.9,2166.3 1614.4,2167.7 1642.1,2167.9 C1669.7,2168.0 1689.2,2167.0 1711.2,2167.0 C1733.1,2167.0 1743.6,2166.8 1751.8,2167.9 C1759.9,2168.9 1759.9,2171.6 1751.8,2172.2 C1743.6,2172.8 1733.1,2170.7 1711.2,2170.8 C1689.2,2170.9 1669.7,2172.5 1642.1,2172.5 C1614.4,2172.5 1598.9,2171.2 1573.0,2170.8 C1547.1,2170.5 1524.6,2171.6 1512.5,2170.8 C1500.4,2170.0 1512.5,2167.8 1512.5,2167.0 Z" fill="#d8d8d8" opacity="0.95" filter="url(#jb1)"/>
<path d="M1650.7,2161.8 C1659.3,2161.5 1673.7,2160.4 1693.9,2160.4 C1714.1,2160.4 1740.2,2160.9 1751.8,2161.8 C1763.3,2162.7 1763.3,2164.6 1751.8,2164.9 C1740.2,2165.3 1714.1,2163.5 1693.9,2163.5 C1673.7,2163.5 1659.3,2165.3 1650.7,2164.9 C1642.1,2164.6 1650.7,2162.4 1650.7,2161.8 Z" fill="#9a9a9a" opacity="0.9" filter="url(#jb1)"/>
<path d="M1512.5,2178.2 C1519.4,2177.5 1531.5,2176.3 1547.1,2174.8 C1562.6,2173.3 1580.9,2171.0 1590.2,2170.8 C1599.6,2170.6 1602.0,2172.1 1593.7,2173.6 C1585.4,2175.1 1564.9,2176.4 1548.8,2178.2 C1532.7,2180.0 1520.6,2182.6 1513.4,2182.6 C1506.1,2182.6 1512.7,2179.1 1512.5,2178.2 Z" fill="#c8c8c8" opacity="0.95" filter="url(#jb1)"/>
<path d="M1512.5,2186.0 C1518.7,2185.0 1533.2,2182.6 1543.6,2180.8 C1554.0,2179.1 1560.0,2177.6 1564.3,2177.4 C1568.7,2177.1 1569.2,2178.2 1565.2,2179.4 C1561.2,2180.7 1554.8,2181.4 1544.5,2183.4 C1534.1,2185.4 1519.8,2188.9 1513.4,2189.5 C1507.0,2190.0 1512.7,2186.7 1512.5,2186.0 Z" fill="#b0b0b0" opacity="0.9" filter="url(#jb1)"/>
<ellipse cx="1551.8" cy="2229.1" rx="5.6" ry="1.1" fill="#e0e0e0" opacity="0.87" transform="rotate(-22 1551.8 2229.1)" filter="url(#jb1)"/>
<ellipse cx="1634.7" cy="2215.7" rx="3.2" ry="0.5" fill="#888" opacity="0.72" transform="rotate(-13 1634.7 2215.7)" filter="url(#jb1)"/>
<ellipse cx="1547.1" cy="2233.6" rx="7.3" ry="1.4" fill="#e0e0e0" opacity="0.80" transform="rotate(-9 1547.1 2233.6)" filter="url(#jb1)"/>
<ellipse cx="1520.6" cy="2203.0" rx="4.7" ry="0.7" fill="#7a7a7a" opacity="0.56" transform="rotate(22 1520.6 2203.0)" filter="url(#jb1)"/>
<ellipse cx="1689.2" cy="2185.5" rx="6.6" ry="0.5" fill="#7a7a7a" opacity="0.71" transform="rotate(-25 1689.2 2185.5)" filter="url(#jb1)"/>
<ellipse cx="1548.5" cy="2227.4" rx="4.6" ry="1.5" fill="#c0c0c0" opacity="0.63" transform="rotate(-31 1548.5 2227.4)" filter="url(#jb1)"/>
<ellipse cx="1743.4" cy="2244.0" rx="6.3" ry="1.4" fill="#9a9a9a" opacity="0.60" transform="rotate(-0 1743.4 2244.0)" filter="url(#jb1)"/>
<ellipse cx="1626.1" cy="2239.1" rx="2.9" ry="1.6" fill="#e0e0e0" opacity="0.67" transform="rotate(18 1626.1 2239.1)" filter="url(#jb1)"/>
<ellipse cx="1740.0" cy="2215.5" rx="3.6" ry="1.1" fill="#9a9a9a" opacity="0.61" transform="rotate(-19 1740.0 2215.5)" filter="url(#jb1)"/>
<ellipse cx="1683.2" cy="2250.4" rx="1.7" ry="0.6" fill="#888" opacity="0.64" transform="rotate(1 1683.2 2250.4)" filter="url(#jb1)"/>
<ellipse cx="1657.7" cy="2219.5" rx="5.5" ry="0.7" fill="#7a7a7a" opacity="0.88" transform="rotate(-25 1657.7 2219.5)" filter="url(#jb1)"/>
<ellipse cx="1591.7" cy="2234.4" rx="7.3" ry="0.8" fill="#c0c0c0" opacity="0.86" transform="rotate(-25 1591.7 2234.4)" filter="url(#jb1)"/>
<ellipse cx="1601.9" cy="2228.7" rx="5.8" ry="1.6" fill="#e0e0e0" opacity="0.92" transform="rotate(22 1601.9 2228.7)" filter="url(#jb1)"/>
<ellipse cx="1551.4" cy="2232.9" rx="1.8" ry="0.9" fill="#c0c0c0" opacity="0.92" transform="rotate(-5 1551.4 2232.9)" filter="url(#jb1)"/>
<ellipse cx="1571.1" cy="2219.9" rx="4.4" ry="1.0" fill="#9a9a9a" opacity="0.88" transform="rotate(9 1571.1 2219.9)" filter="url(#jb1)"/>
<ellipse cx="1524.9" cy="2197.8" rx="3.5" ry="1.0" fill="#9a9a9a" opacity="0.90" transform="rotate(-25 1524.9 2197.8)" filter="url(#jb1)"/>
<ellipse cx="1666.4" cy="2189.7" rx="2.6" ry="1.4" fill="#c0c0c0" opacity="0.93" transform="rotate(-32 1666.4 2189.7)" filter="url(#jb1)"/>
<ellipse cx="1637.8" cy="2232.0" rx="1.9" ry="0.8" fill="#c0c0c0" opacity="0.90" transform="rotate(15 1637.8 2232.0)" filter="url(#jb1)"/>
<ellipse cx="1655.9" cy="2210.0" rx="5.2" ry="1.5" fill="#888" opacity="0.79" transform="rotate(-17 1655.9 2210.0)" filter="url(#jb1)"/>
<ellipse cx="1545.7" cy="2231.4" rx="4.0" ry="0.7" fill="#7a7a7a" opacity="0.79" transform="rotate(8 1545.7 2231.4)" filter="url(#jb1)"/>
<ellipse cx="1666.0" cy="2240.9" rx="5.3" ry="0.8" fill="#c0c0c0" opacity="0.60" transform="rotate(-11 1666.0 2240.9)" filter="url(#jb1)"/>
<ellipse cx="1535.1" cy="2185.9" rx="1.9" ry="1.1" fill="#9a9a9a" opacity="0.81" transform="rotate(-27 1535.1 2185.9)" filter="url(#jb1)"/>
<ellipse cx="1542.7" cy="2218.2" rx="3.7" ry="1.1" fill="#c0c0c0" opacity="0.62" transform="rotate(-22 1542.7 2218.2)" filter="url(#jb1)"/>
<ellipse cx="1716.9" cy="2193.7" rx="6.2" ry="1.4" fill="#888" opacity="0.90" transform="rotate(1 1716.9 2193.7)" filter="url(#jb1)"/>
<ellipse cx="1697.1" cy="2236.5" rx="1.8" ry="1.1" fill="#888" opacity="0.62" transform="rotate(-31 1697.1 2236.5)" filter="url(#jb1)"/>
<ellipse cx="1682.1" cy="2197.4" rx="5.9" ry="0.9" fill="#e0e0e0" opacity="0.61" transform="rotate(-32 1682.1 2197.4)" filter="url(#jb1)"/>
<ellipse cx="1685.6" cy="2251.0" rx="6.7" ry="1.5" fill="#888" opacity="0.59" transform="rotate(-6 1685.6 2251.0)" filter="url(#jb1)"/>
<ellipse cx="1655.8" cy="2216.0" rx="6.2" ry="1.7" fill="#888" opacity="0.76" transform="rotate(-16 1655.8 2216.0)" filter="url(#jb1)"/>
<ellipse cx="1646.2" cy="2183.7" rx="6.7" ry="1.7" fill="#7a7a7a" opacity="0.81" transform="rotate(-14 1646.2 2183.7)" filter="url(#jb1)"/>
<ellipse cx="1612.7" cy="2242.1" rx="5.7" ry="1.3" fill="#e0e0e0" opacity="0.75" transform="rotate(13 1612.7 2242.1)" filter="url(#jb1)"/>
<ellipse cx="1738.3" cy="2228.4" rx="6.0" ry="1.1" fill="#e0e0e0" opacity="0.58" transform="rotate(-4 1738.3 2228.4)" filter="url(#jb1)"/>
<ellipse cx="1518.5" cy="2227.1" rx="2.0" ry="0.9" fill="#e0e0e0" opacity="0.84" transform="rotate(0 1518.5 2227.1)" filter="url(#jb1)"/>
<ellipse cx="1621.2" cy="2196.3" rx="4.1" ry="1.1" fill="#9a9a9a" opacity="0.56" transform="rotate(3 1621.2 2196.3)" filter="url(#jb1)"/>
<ellipse cx="1553.7" cy="2206.2" rx="5.4" ry="0.8" fill="#888" opacity="0.82" transform="rotate(-8 1553.7 2206.2)" filter="url(#jb1)"/>
<ellipse cx="1717.3" cy="2229.8" rx="5.9" ry="0.8" fill="#e0e0e0" opacity="0.67" transform="rotate(20 1717.3 2229.8)" filter="url(#jb1)"/>
<ellipse cx="1603.5" cy="2217.1" rx="6.0" ry="1.6" fill="#c0c0c0" opacity="0.67" transform="rotate(-25 1603.5 2217.1)" filter="url(#jb1)"/>
<ellipse cx="1605.8" cy="2189.6" rx="5.1" ry="0.6" fill="#e0e0e0" opacity="0.85" transform="rotate(-17 1605.8 2189.6)" filter="url(#jb1)"/>
<ellipse cx="1622.7" cy="2186.9" rx="7.5" ry="1.4" fill="#7a7a7a" opacity="0.70" transform="rotate(-23 1622.7 2186.9)" filter="url(#jb1)"/>
<ellipse cx="1651.2" cy="2192.8" rx="2.2" ry="0.6" fill="#c0c0c0" opacity="0.91" transform="rotate(-4 1651.2 2192.8)" filter="url(#jb1)"/>
<ellipse cx="1633.4" cy="2196.4" rx="5.9" ry="1.4" fill="#e0e0e0" opacity="0.74" transform="rotate(-26 1633.4 2196.4)" filter="url(#jb1)"/>
<ellipse cx="1616.7" cy="2223.9" rx="3.4" ry="0.7" fill="#7a7a7a" opacity="0.59" transform="rotate(-12 1616.7 2223.9)" filter="url(#jb1)"/>
<ellipse cx="1745.0" cy="2194.7" rx="3.8" ry="1.3" fill="#7a7a7a" opacity="0.56" transform="rotate(17 1745.0 2194.7)" filter="url(#jb1)"/>
<ellipse cx="1632.0" cy="2181.9" rx="5.4" ry="1.4" fill="#9a9a9a" opacity="0.93" transform="rotate(-21 1632.0 2181.9)" filter="url(#jb1)"/>
<ellipse cx="1547.8" cy="2249.7" rx="2.9" ry="1.0" fill="#c0c0c0" opacity="0.60" transform="rotate(-35 1547.8 2249.7)" filter="url(#jb1)"/>
<ellipse cx="1701.2" cy="2238.8" rx="4.9" ry="0.6" fill="#e0e0e0" opacity="0.90" transform="rotate(-24 1701.2 2238.8)" filter="url(#jb1)"/>
<ellipse cx="1570.8" cy="2220.8" rx="6.7" ry="1.2" fill="#9a9a9a" opacity="0.81" transform="rotate(-7 1570.8 2220.8)" filter="url(#jb1)"/>
<path d="M1690.4,2192.9 C1692.5,2192.6 1697.7,2187.0 1700.8,2191.2 C1703.9,2195.3 1701.8,2206.0 1706.0,2213.6 C1710.1,2221.2 1719.1,2225.4 1721.5,2229.2 C1723.9,2233.0 1721.9,2234.4 1718.1,2232.6 C1714.3,2230.9 1707.7,2224.7 1702.5,2220.6 C1697.3,2216.4 1695.3,2214.7 1692.2,2211.9 C1689.1,2209.2 1687.3,2210.5 1687.0,2206.7 C1686.6,2202.9 1689.7,2195.7 1690.4,2192.9 Z" fill="#bcbcbc" opacity="0.9" filter="url(#jb1)"/>
<path d="M1676.6,2199.8 C1681.8,2199.8 1695.6,2195.7 1702.5,2199.8 C1709.4,2204.0 1714.6,2216.4 1711.2,2220.6 C1707.7,2224.7 1692.2,2224.7 1685.3,2220.6 C1678.3,2216.4 1678.3,2204.0 1676.6,2199.8 Z" fill="#666" opacity="0.7" filter="url(#jb3)"/>
<path d="M1617.9,2199.8 C1622.7,2198.8 1635.5,2191.9 1642.1,2194.6 C1648.6,2197.4 1653.5,2204.3 1650.7,2213.6 C1647.9,2223.0 1635.5,2237.8 1628.2,2241.3 C1621.0,2244.7 1616.5,2239.2 1614.4,2230.9 C1612.4,2222.6 1617.2,2206.0 1617.9,2199.8 Z" fill="#181818" opacity="0.8" filter="url(#jb3)"/>
<path d="M1516.0,2220.6 C1523.2,2220.6 1544.3,2215.7 1552.2,2220.6 C1560.2,2225.4 1560.2,2239.2 1555.7,2244.7 C1551.2,2250.3 1537.7,2248.9 1529.8,2248.2 C1521.8,2247.5 1518.7,2246.8 1516.0,2241.3 C1513.2,2235.8 1516.0,2224.7 1516.0,2220.6 Z" fill="#1a1a1a" opacity="0.7" filter="url(#jb3)"/>
<path d="M1524.6,2280.2 C1534.3,2277.2 1549.5,2272.4 1573.0,2265.5 C1596.5,2258.6 1621.3,2251.0 1642.1,2245.6 C1662.8,2240.2 1663.5,2240.1 1676.6,2238.7 C1689.7,2237.3 1692.7,2236.1 1707.7,2238.7 C1722.7,2241.3 1742.9,2248.2 1751.8,2251.6 C1760.6,2255.1 1760.6,2257.5 1751.8,2256.0 C1742.9,2254.4 1722.7,2246.3 1707.7,2243.9 C1692.7,2241.5 1689.7,2242.5 1676.6,2243.9 C1663.5,2245.3 1662.8,2245.4 1642.1,2250.8 C1621.3,2256.1 1596.1,2264.2 1573.0,2270.6 C1549.8,2277.1 1536.0,2281.4 1526.3,2283.3 C1516.7,2285.2 1524.9,2280.8 1524.6,2280.2 Z" fill="#c4c4c4" opacity="0.95" filter="url(#jb1)"/>
<path d="M1526.3,2283.6 C1549.5,2277.0 1605.8,2258.7 1642.1,2250.8 C1678.3,2242.8 1685.8,2242.8 1707.7,2243.9 C1729.6,2244.9 1742.9,2251.6 1751.8,2256.0 C1760.6,2260.3 1760.6,2264.3 1751.8,2265.5 C1742.9,2266.7 1726.2,2259.2 1707.7,2262.0 C1689.2,2264.8 1675.9,2268.2 1659.3,2279.3 C1642.8,2290.3 1645.5,2306.2 1624.8,2317.3 C1604.1,2328.3 1580.6,2332.8 1555.7,2334.6 C1530.8,2336.3 1511.5,2334.9 1500.4,2325.9 C1489.4,2316.9 1495.2,2298.1 1500.4,2289.7 C1505.6,2281.2 1521.1,2284.8 1526.3,2283.6 Z" fill="#202020" opacity="0.75" filter="url(#jb3)"/>
<path d="M1624.8,2317.3 C1627.6,2313.5 1633.4,2304.0 1638.6,2298.3 C1643.8,2292.6 1641.4,2294.5 1650.7,2288.8 C1660.0,2283.1 1673.2,2274.6 1685.3,2269.8 C1697.3,2264.9 1697.9,2265.3 1711.2,2264.6 C1724.5,2263.9 1743.6,2264.9 1751.8,2266.3 C1759.9,2267.7 1759.9,2270.8 1751.8,2271.5 C1743.6,2272.2 1724.1,2269.3 1711.2,2269.8 C1698.2,2270.3 1698.6,2269.4 1687.0,2274.1 C1675.4,2278.8 1662.5,2287.4 1653.3,2293.1 C1644.1,2298.8 1646.4,2297.3 1641.2,2302.6 C1636.0,2308.0 1630.7,2316.9 1627.4,2319.9 C1624.1,2322.8 1625.3,2317.8 1624.8,2317.3 Z" fill="#f0f0f0" opacity="0.98" filter="url(#jb1)"/>
<path d="M1590.2,2360.5 C1595.8,2353.6 1610.5,2334.0 1617.9,2325.9 C1625.3,2317.8 1625.0,2320.7 1627.4,2319.9 C1629.8,2319.0 1631.2,2319.0 1630.0,2321.6 C1628.8,2324.2 1627.9,2324.4 1621.3,2332.8 C1614.8,2341.3 1603.4,2358.4 1597.2,2363.9 C1590.9,2369.5 1591.6,2361.2 1590.2,2360.5 Z" fill="#777" opacity="0.6" filter="url(#jb3)"/>
<path d="M1630.0,2322.5 C1634.6,2316.9 1641.9,2304.2 1653.3,2294.8 C1664.7,2285.5 1667.3,2280.3 1687.0,2275.8 C1706.7,2271.3 1738.8,2240.1 1751.8,2272.4 C1764.7,2304.7 1780.6,2404.4 1751.8,2437.3 C1722.9,2470.3 1636.4,2451.0 1607.5,2437.3 C1578.7,2423.7 1603.0,2392.1 1607.5,2369.1 C1612.0,2346.1 1625.5,2331.8 1630.0,2322.5 Z" fill="#0a0a0a" opacity="0.8" filter="url(#jb6)"/>
<path d="M1711.2,2286.2 C1713.9,2286.5 1721.5,2285.2 1725.0,2287.9 C1728.4,2290.7 1730.5,2297.3 1728.4,2300.0 C1726.4,2302.8 1718.1,2304.5 1714.6,2301.7 C1711.2,2299.0 1711.9,2289.3 1711.2,2286.2 Z" fill="#9a9a9a" opacity="0.7" filter="url(#jb3)"/>
<path d="M1526.3,2310.4 C1535.7,2306.9 1563.0,2295.2 1573.0,2293.1 C1583.0,2291.0 1584.7,2295.2 1576.4,2300.0 C1568.1,2304.9 1541.5,2315.2 1531.5,2317.3 C1521.5,2319.4 1527.4,2311.8 1526.3,2310.4 Z" fill="#555" opacity="0.7" filter="url(#jb6)"/>
<path d="M1529.8,2360.5 C1541.9,2354.9 1575.4,2337.3 1590.2,2332.8 C1605.1,2328.3 1604.1,2331.5 1604.1,2338.0 C1604.1,2344.6 1603.4,2357.4 1590.2,2365.7 C1577.1,2373.9 1550.5,2380.5 1538.4,2379.5 C1526.3,2378.4 1531.5,2364.3 1529.8,2360.5 Z" fill="#5a5a5a" opacity="0.75" filter="url(#jb6)"/>
<path d="M1535.0,2389.8 C1544.6,2384.3 1570.9,2365.7 1583.3,2362.2 C1595.8,2358.7 1599.9,2365.0 1597.2,2372.6 C1594.4,2380.2 1581.3,2393.3 1569.5,2400.2 C1557.8,2407.1 1545.3,2409.2 1538.4,2407.1 C1531.5,2405.0 1535.7,2393.3 1535.0,2389.8 Z" fill="#4a4a4a" opacity="0.7" filter="url(#jb6)"/>
<rect x="1500.4" y="2165" width="252" height="110" fill="#fff" filter="url(#texW)" opacity="0.16"/>
<rect x="1500.4" y="2165" width="252" height="272" fill="#000" filter="url(#texD)" opacity="0.3"/>
<rect x="1500.4" y="2160" width="252" height="277" fill="#fff" filter="url(#spk)" opacity="0.16"/>
</g>
<rect x="1239" y="2144.5" width="4.4" height="86" fill="url(#gbar)" opacity="0.9"/>
<rect x="1238.6" y="2209.2" width="3.4" height="1.8" fill="#e0e0e0"/>
<rect x="1238.6" y="2242.2" width="3.4" height="1.8" fill="#e0e0e0"/>
<rect x="1238.6" y="2275.2" width="3.4" height="1.8" fill="#e0e0e0"/>
<rect x="1238.6" y="2308.7" width="3.4" height="1.8" fill="#e0e0e0"/>
<rect x="1238.6" y="2341.2" width="3.4" height="1.8" fill="#e0e0e0"/>
<rect x="1238.6" y="2374.2" width="3.4" height="1.8" fill="#e0e0e0"/>
<rect x="1238.6" y="2407.2" width="3.4" height="1.8" fill="#e0e0e0"/>
<text x="1227.0" y="2213.0" font-family='"Liberation Sans",sans-serif' font-size="10" fill="#aaa">1</text>
<text x="1227.0" y="2279.0" font-family='"Liberation Sans",sans-serif' font-size="10" fill="#aaa">2</text>
<text x="1227.0" y="2346.0" font-family='"Liberation Sans",sans-serif' font-size="10" fill="#aaa">3</text>
<text x="1752.5" y="2347.0" font-family='"Liberation Sans",sans-serif' font-size="10" fill="#bbb">3</text>
<text x="1227.0" y="2411.0" font-family='"Liberation Sans",sans-serif' font-size="10" fill="#aaa">4</text>
<text x="1752.5" y="2412.0" font-family='"Liberation Sans",sans-serif' font-size="10" fill="#bbb">4</text>
<path d="M1238,2232.5 L1244,2236 L1238,2239.5 Z" fill="#ddd"/>
<defs><clipPath id="jbov"><path d="M1504.6,2248 L1742.8,2248 L1742.8,2310 C1730,2312 1722,2306 1712,2298 C1700,2292 1685,2296 1672,2304 C1650,2318 1632,2335 1626,2356 C1618,2385 1600,2402 1580,2412 C1560,2424 1540,2428 1525,2433 L1504.6,2436 Z"/></clipPath></defs>
<g clip-path="url(#jbov)">
<rect x="1504" y="2248" width="240" height="190" fill="#4f9636"/>
<path d="M1504.6,2285.8 C1513.8,2282.3 1530.6,2268.2 1550.3,2268.2 C1570.0,2268.2 1596.0,2275.3 1603.1,2285.8 C1610.1,2296.4 1599.5,2310.4 1585.5,2321.0 C1571.4,2331.5 1548.9,2336.8 1532.7,2338.6 C1516.6,2340.3 1510.2,2340.3 1504.6,2329.8 C1499.0,2319.2 1504.6,2294.6 1504.6,2285.8 Z" fill="#7fa83c" opacity="0.8" filter="url(#jb6)"/>
<path d="M1585.5,2250.6 C1599.5,2250.3 1634.7,2246.8 1655.8,2248.9 C1676.9,2251.0 1694.5,2255.2 1691.0,2261.2 C1687.5,2267.2 1657.6,2277.4 1638.2,2278.8 C1618.9,2280.2 1604.8,2273.9 1594.3,2268.2 C1583.7,2262.6 1587.2,2254.2 1585.5,2250.6 Z" fill="#3f8f48" opacity="0.8" filter="url(#jb6)"/>
<path d="M1603.1,2294.6 C1610.1,2291.1 1627.7,2278.8 1638.2,2277.0 C1648.8,2275.3 1659.3,2277.0 1655.8,2285.8 C1652.3,2294.6 1633.0,2312.2 1620.6,2321.0 C1608.3,2329.8 1597.8,2335.0 1594.3,2329.8 C1590.8,2324.5 1601.3,2301.6 1603.1,2294.6 Z" fill="#86aa40" opacity="0.7" filter="url(#jb6)"/>
<path d="M1504.6,2356.1 C1513.8,2352.6 1537.7,2339.3 1550.3,2338.6 C1563.0,2337.8 1571.4,2344.9 1567.9,2352.6 C1564.4,2360.4 1545.4,2370.9 1532.7,2377.2 C1520.1,2383.6 1510.2,2388.5 1504.6,2384.3 C1499.0,2380.0 1504.6,2361.8 1504.6,2356.1 Z" fill="#6fa23a" opacity="0.8" filter="url(#jb6)"/>
<path d="M1504.6,2248.9 C1513.1,2248.9 1541.2,2245.0 1546.8,2248.9 C1552.4,2252.8 1541.2,2263.3 1532.7,2268.2 C1524.3,2273.2 1510.2,2277.4 1504.6,2273.5 C1499.0,2269.6 1504.6,2253.8 1504.6,2248.9 Z" fill="#86a03a" opacity="0.7" filter="url(#jb6)"/>
<path d="M1504.6,2391.3 C1510.2,2387.8 1520.1,2382.5 1532.7,2373.7 C1545.4,2364.9 1553.8,2356.1 1567.9,2347.3 C1582.0,2338.6 1590.8,2338.6 1603.1,2329.8 C1615.4,2321.0 1618.9,2312.9 1629.4,2303.4 C1640.0,2293.9 1643.5,2289.3 1655.8,2282.3 C1668.1,2275.3 1673.6,2271.7 1691.0,2268.2 C1708.4,2264.7 1732.5,2254.2 1742.8,2264.7 C1753.2,2275.3 1747.9,2310.4 1742.8,2321.0 C1737.7,2331.5 1726.0,2321.7 1717.3,2317.5 C1708.7,2313.2 1708.6,2302.3 1699.8,2299.9 C1691.0,2297.4 1685.7,2298.8 1673.4,2305.1 C1661.1,2311.5 1647.7,2320.6 1638.2,2331.5 C1628.7,2342.4 1633.0,2345.6 1625.9,2359.6 C1618.9,2373.7 1618.2,2388.1 1603.1,2401.8 C1587.9,2415.6 1570.0,2421.2 1550.3,2428.2 C1530.6,2435.2 1513.8,2444.4 1504.6,2437.0 C1495.5,2429.6 1504.6,2400.4 1504.6,2391.3 Z" fill="#3026b0" opacity="1" filter="url(#jb3)"/>
<path d="M1567.9,2352.6 C1574.9,2349.1 1590.4,2344.2 1603.1,2335.0 C1615.7,2325.9 1620.6,2316.8 1631.2,2306.9 C1641.7,2297.1 1643.9,2292.5 1655.8,2285.8 C1667.8,2279.1 1680.4,2274.9 1691.0,2273.5 C1701.5,2272.1 1713.8,2274.2 1708.6,2278.8 C1703.3,2283.3 1679.4,2287.9 1664.6,2296.4 C1649.8,2304.8 1644.9,2309.7 1634.7,2321.0 C1624.5,2332.2 1624.9,2342.1 1613.6,2352.6 C1602.4,2363.2 1587.6,2373.7 1578.5,2373.7 C1569.3,2373.7 1570.0,2356.8 1567.9,2352.6 Z" fill="#5040c8" opacity="0.8" filter="url(#jb3)"/>
<path d="M1638.2,2285.8 C1645.3,2282.3 1659.3,2272.8 1673.4,2268.2 C1687.5,2263.7 1694.7,2264.0 1708.6,2263.0 C1722.4,2261.9 1736.0,2261.7 1742.8,2263.0 C1749.7,2264.2 1749.7,2267.9 1742.8,2269.1 C1736.0,2270.3 1722.4,2267.9 1708.6,2269.1 C1694.7,2270.3 1686.8,2270.5 1673.4,2275.3 C1660.0,2280.0 1648.8,2290.7 1641.7,2292.8 C1634.7,2295.0 1638.9,2287.2 1638.2,2285.8 Z" fill="#80d0e8" opacity="0.9" filter="url(#jb3)"/>
<path d="M1567.9,2345.6 C1574.9,2341.9 1590.4,2336.3 1603.1,2327.1 C1615.7,2318.0 1624.9,2304.3 1631.2,2299.9 C1637.5,2295.5 1639.6,2298.5 1634.7,2305.1 C1629.8,2311.8 1619.2,2324.0 1606.6,2333.3 C1593.9,2342.6 1579.2,2349.3 1571.4,2351.7 C1563.7,2354.2 1568.6,2346.8 1567.9,2345.6 Z" fill="#40a8b0" opacity="0.9" filter="url(#jb3)"/>
<path d="M1589.0,2356.1 C1594.6,2353.7 1610.8,2343.8 1617.1,2343.8 C1623.5,2343.8 1622.8,2352.3 1620.6,2356.1 C1618.5,2360.0 1612.9,2363.2 1606.6,2363.2 C1600.3,2363.2 1592.5,2357.5 1589.0,2356.1 Z" fill="#3fa080" opacity="0.85" filter="url(#jb3)"/>
<path d="M1515.2,2261.2 C1519.7,2258.7 1526.8,2251.4 1538.0,2248.9 C1549.3,2246.4 1564.7,2247.5 1571.4,2248.9 C1578.1,2250.3 1577.4,2253.8 1571.4,2255.9 C1565.4,2258.0 1550.7,2256.3 1541.5,2259.4 C1532.4,2262.6 1531.0,2271.4 1525.7,2271.7 C1520.4,2272.1 1517.3,2263.3 1515.2,2261.2 Z" fill="#a83222" opacity="0.9" filter="url(#jb1)"/>
<path d="M1550.3,2278.8 C1560.9,2274.9 1588.3,2263.0 1603.1,2259.4 C1617.8,2255.9 1618.5,2258.4 1624.2,2261.2 C1629.8,2264.0 1631.9,2270.7 1631.2,2273.5 C1630.5,2276.3 1624.9,2276.7 1620.6,2275.3 C1616.4,2273.9 1622.4,2264.4 1610.1,2266.5 C1597.8,2268.6 1571.1,2283.3 1559.1,2285.8 C1547.2,2288.3 1552.1,2280.2 1550.3,2278.8 Z" fill="#a83222" opacity="0.9" filter="url(#jb1)"/>
<path d="M1538.0,2296.4 C1541.5,2292.8 1550.7,2281.2 1555.6,2278.8 C1560.5,2276.3 1564.4,2279.5 1562.6,2284.1 C1560.9,2288.6 1551.7,2299.2 1546.8,2301.6 C1541.9,2304.1 1539.8,2297.4 1538.0,2296.4 Z" fill="#a83222" opacity="0.9" filter="url(#jb1)"/>
<path d="M1620.6,2289.3 C1627.7,2286.2 1647.4,2275.6 1655.8,2273.5 C1664.2,2271.4 1668.8,2274.2 1662.8,2278.8 C1656.9,2283.3 1634.4,2294.2 1625.9,2296.4 C1617.5,2298.5 1621.7,2290.7 1620.6,2289.3 Z" fill="#a83222" opacity="0.9" filter="url(#jb1)"/>
<path d="M1515.2,2312.2 C1517.3,2310.4 1522.9,2302.3 1525.7,2303.4 C1528.5,2304.4 1530.6,2313.9 1529.2,2317.5 C1527.8,2321.0 1521.5,2322.0 1518.7,2321.0 C1515.9,2319.9 1515.9,2313.9 1515.2,2312.2 Z" fill="#a83222" opacity="0.9" filter="url(#jb1)"/>
<path d="M1567.9,2322.7 C1572.8,2322.4 1586.9,2319.9 1592.5,2321.0 C1598.1,2322.0 1600.3,2326.2 1596.0,2328.0 C1591.8,2329.8 1577.0,2330.8 1571.4,2329.8 C1565.8,2328.7 1568.6,2324.1 1567.9,2322.7 Z" fill="#a83222" opacity="0.9" filter="url(#jb1)"/>
<path d="M1504.6,2384.3 C1508.5,2382.2 1520.4,2372.3 1524.0,2373.7 C1527.5,2375.1 1525.7,2384.3 1522.2,2391.3 C1518.7,2398.3 1509.9,2410.3 1506.4,2408.9 C1502.9,2407.5 1505.0,2389.2 1504.6,2384.3 Z" fill="#a83222" opacity="0.9" filter="url(#jb1)"/>
<path d="M1504.6,2268.2 C1505.7,2267.5 1508.8,2263.3 1509.9,2264.7 C1510.9,2266.1 1510.9,2272.8 1509.9,2275.3 C1508.8,2277.7 1505.7,2278.4 1504.6,2277.0 C1503.6,2275.6 1504.6,2270.0 1504.6,2268.2 Z" fill="#a83222" opacity="0.9" filter="url(#jb1)"/>
<path d="M1524.0,2278.8 C1532.7,2276.0 1552.1,2269.3 1567.9,2264.7 C1583.7,2260.1 1595.9,2257.0 1603.1,2255.9 C1610.3,2254.9 1611.0,2256.8 1603.9,2259.4 C1596.9,2262.1 1583.6,2264.4 1567.9,2269.1 C1552.3,2273.9 1534.5,2281.2 1525.7,2283.2 C1516.9,2285.1 1524.3,2279.7 1524.0,2278.8 Z" fill="#c8d860" opacity="0.9" filter="url(#jb1)"/>
<path d="M1546.8,2250.6 C1548.2,2252.8 1551.4,2257.7 1553.8,2261.2 C1556.3,2264.7 1558.8,2266.6 1559.1,2268.2 C1559.5,2269.8 1557.5,2270.5 1555.6,2269.1 C1553.7,2267.7 1551.2,2264.9 1549.4,2261.2 C1547.7,2257.5 1547.3,2252.8 1546.8,2250.6 Z" fill="#c8d860" opacity="0.9" filter="url(#jb1)"/>
<path d="M1582.0,2294.6 C1586.2,2293.5 1598.1,2288.3 1603.1,2289.3 C1608.0,2290.4 1609.4,2296.7 1606.6,2299.9 C1603.8,2303.0 1593.9,2306.2 1589.0,2305.1 C1584.1,2304.1 1583.4,2296.7 1582.0,2294.6 Z" fill="#2430a8" opacity="0.9" filter="url(#jb1)"/>
<path d="M1531.0,2329.8 C1534.9,2328.4 1545.4,2321.3 1550.3,2322.7 C1555.2,2324.1 1558.4,2332.6 1555.6,2336.8 C1552.8,2341.0 1541.2,2345.2 1536.3,2343.8 C1531.3,2342.4 1532.0,2332.6 1531.0,2329.8 Z" fill="#2430a8" opacity="0.9" filter="url(#jb1)"/>
<path d="M1504.6,2333.3 C1508.1,2333.3 1518.7,2328.7 1522.2,2333.3 C1525.7,2337.8 1525.7,2350.9 1522.2,2356.1 C1518.7,2361.4 1508.1,2364.2 1504.6,2359.6 C1501.1,2355.1 1504.6,2338.6 1504.6,2333.3 Z" fill="#2430a8" opacity="0.9" filter="url(#jb1)"/>
<path d="M1652.3,2248.9 C1658.3,2248.9 1676.2,2247.5 1682.2,2248.9 C1688.2,2250.3 1687.5,2254.5 1682.2,2255.9 C1676.9,2257.3 1661.8,2257.3 1655.8,2255.9 C1649.8,2254.5 1653.0,2250.3 1652.3,2248.9 Z" fill="#2430a8" opacity="0.9" filter="url(#jb1)"/>
<path d="M1557.4,2356.1 C1560.9,2355.4 1570.7,2351.2 1574.9,2352.6 C1579.2,2354.0 1580.9,2360.4 1578.5,2363.2 C1576.0,2366.0 1566.8,2368.1 1562.6,2366.7 C1558.4,2365.3 1558.4,2358.2 1557.4,2356.1 Z" fill="#2430a8" opacity="0.9" filter="url(#jb1)"/>
<path d="M1708.6,2248.0 C1715.4,2248.0 1736.0,2245.0 1742.8,2248.0 C1749.7,2251.0 1749.7,2260.3 1742.8,2263.0 C1736.0,2265.6 1715.4,2264.2 1708.6,2261.2 C1701.7,2258.2 1708.6,2250.6 1708.6,2248.0 Z" fill="#7ac060" opacity="0.9" filter="url(#jb3)"/>
<path d="M1705.0,2278.8 C1708.6,2277.7 1718.4,2272.4 1722.6,2273.5 C1726.8,2274.6 1728.9,2281.2 1726.1,2284.1 C1723.3,2286.9 1712.8,2288.6 1708.6,2287.6 C1704.3,2286.5 1705.7,2280.5 1705.0,2278.8 Z" fill="#48a868" opacity="0.9" filter="url(#jb3)"/>
<rect x="1504" y="2248" width="240" height="190" fill="#000" filter="url(#spk2)" opacity="0.45"/>
<rect x="1504" y="2248" width="240" height="190" fill="#fff" filter="url(#spk)" opacity="0.10"/>
</g>
<path d="M1720.0,2357.9 C1721.2,2357.5 1724.0,2352.3 1726.1,2356.1 C1728.2,2360.0 1731.1,2372.3 1730.5,2377.2 C1730.0,2382.2 1725.6,2382.2 1723.5,2380.7 C1721.4,2379.3 1720.7,2374.8 1720.0,2370.2 C1719.3,2365.6 1720.0,2360.4 1720.0,2357.9 Z" fill="#2838b8" opacity="0.95" filter="url(#jb1)"/>
<path d="M1721.2,2363.2 C1722.4,2362.8 1725.5,2360.0 1727.0,2361.4 C1728.5,2362.8 1729.6,2368.1 1728.8,2370.2 C1727.9,2372.3 1724.1,2373.4 1722.6,2372.0 C1721.1,2370.5 1721.5,2364.9 1721.2,2363.2 Z" fill="#50b060" opacity="0.9" filter="url(#jb1)"/>
<rect x="1732.3" y="2146" width="3.6" height="88" fill="url(#gbar)"/>
<rect x="1735.9" y="2146" width="8" height="88" rx="1.5" fill="url(#rbar)"/>
<text x="1726.0" y="2144.3" font-family='"Liberation Sans",sans-serif' font-size="11" textLength="18.0" lengthAdjust="spacingAndGlyphs" fill="#ddd">Soft</text>
<text x="1722.0" y="2249.0" font-family='"Liberation Sans",sans-serif' font-size="12" textLength="24.0" lengthAdjust="spacingAndGlyphs" fill="#e8e8e8">Hard</text>
<text x="1715.0" y="2262.0" font-family='"Liberation Sans",sans-serif' font-size="10" textLength="27.0" lengthAdjust="spacingAndGlyphs" fill="#d8e8f0">B 26%</text>
<circle cx="1745.5" cy="2309.5" r="1.2" fill="#eee"/>
<circle cx="1745.5" cy="2375" r="1.2" fill="#eee"/>
</svg>
</body></html>
